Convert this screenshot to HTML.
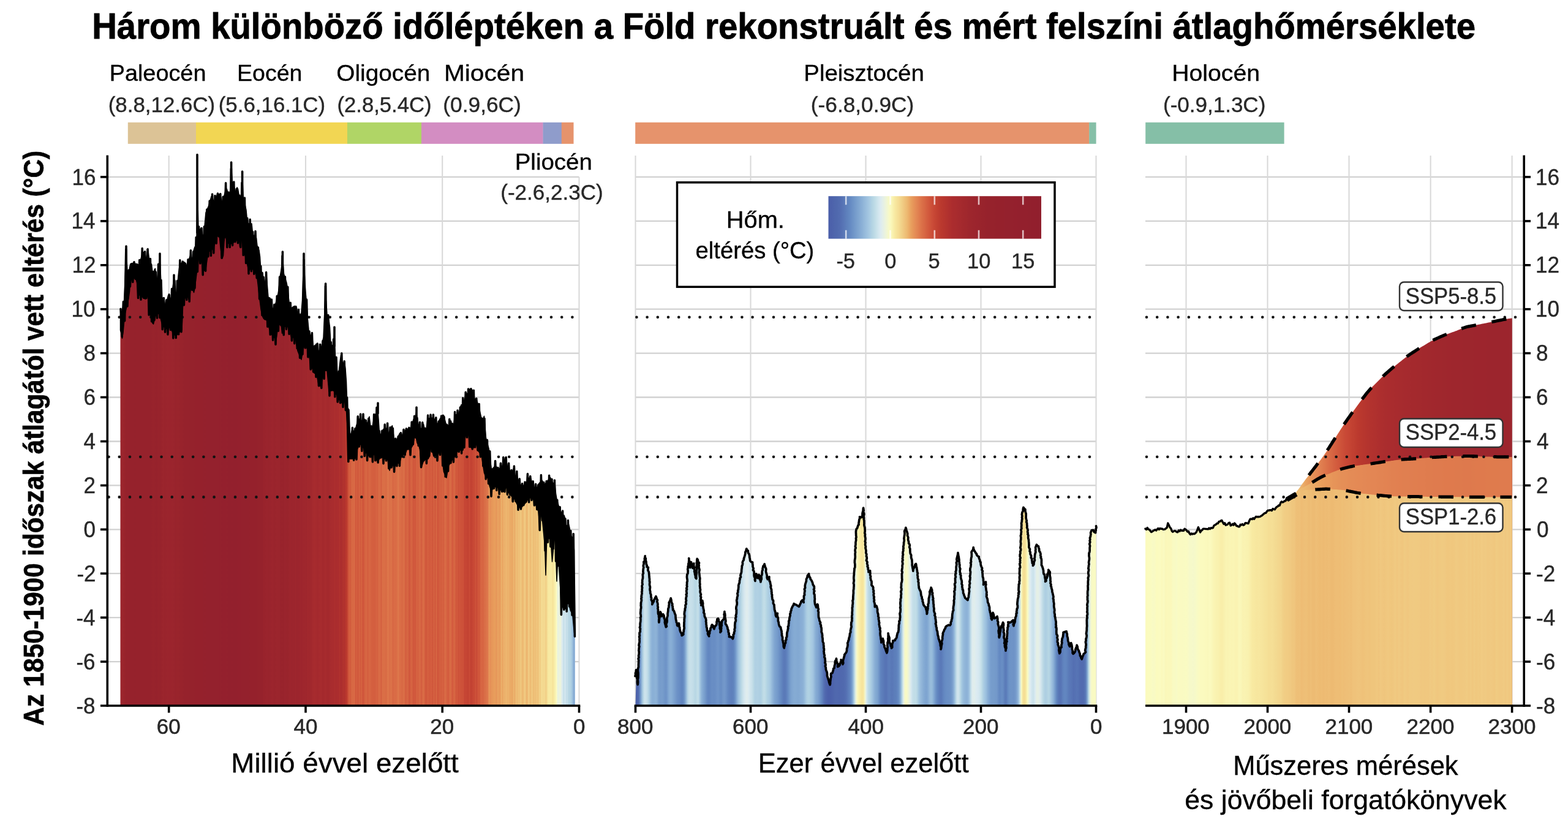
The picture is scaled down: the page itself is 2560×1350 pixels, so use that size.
<!DOCTYPE html><html lang="hu"><head><meta charset="utf-8"><title>Három különböző időléptéken a Föld felszíni átlaghőmérséklete</title><style>html,body{margin:0;padding:0;background:#fff}svg{display:block}text{font-family:"Liberation Sans",Arial,Helvetica,sans-serif;white-space:pre}</style></head><body><svg width="2560" height="1350" viewBox="0 0 2560 1350"><rect width="2560" height="1350" fill="#fff"/><defs><linearGradient id="g1" gradientUnits="userSpaceOnUse" x1="196.5" y1="0" x2="938.8" y2="0"><stop offset="0.0000" stop-color="#9c252d"/><stop offset="0.0027" stop-color="#9b252d"/><stop offset="0.0054" stop-color="#9b252d"/><stop offset="0.0081" stop-color="#9a242c"/><stop offset="0.0108" stop-color="#97232c"/><stop offset="0.0135" stop-color="#96222c"/><stop offset="0.0162" stop-color="#97222c"/><stop offset="0.0189" stop-color="#96222c"/><stop offset="0.0216" stop-color="#96222c"/><stop offset="0.0242" stop-color="#96222c"/><stop offset="0.0269" stop-color="#96222c"/><stop offset="0.0296" stop-color="#96222c"/><stop offset="0.0323" stop-color="#95222c"/><stop offset="0.0350" stop-color="#96222c"/><stop offset="0.0377" stop-color="#96222c"/><stop offset="0.0404" stop-color="#96222c"/><stop offset="0.0431" stop-color="#96222c"/><stop offset="0.0458" stop-color="#96222c"/><stop offset="0.0485" stop-color="#96222c"/><stop offset="0.0512" stop-color="#96222c"/><stop offset="0.0539" stop-color="#96222c"/><stop offset="0.0566" stop-color="#96222c"/><stop offset="0.0593" stop-color="#96222c"/><stop offset="0.0620" stop-color="#96222c"/><stop offset="0.0647" stop-color="#96222c"/><stop offset="0.0674" stop-color="#96222c"/><stop offset="0.0701" stop-color="#97232c"/><stop offset="0.0727" stop-color="#98232c"/><stop offset="0.0754" stop-color="#97232c"/><stop offset="0.0781" stop-color="#96222c"/><stop offset="0.0808" stop-color="#96222c"/><stop offset="0.0835" stop-color="#98232c"/><stop offset="0.0862" stop-color="#97232c"/><stop offset="0.0889" stop-color="#98232c"/><stop offset="0.0916" stop-color="#9a242c"/><stop offset="0.0943" stop-color="#9b252d"/><stop offset="0.0970" stop-color="#9a242c"/><stop offset="0.0997" stop-color="#9a242d"/><stop offset="0.1024" stop-color="#9b252d"/><stop offset="0.1051" stop-color="#9b252d"/><stop offset="0.1078" stop-color="#9b242d"/><stop offset="0.1105" stop-color="#9b242d"/><stop offset="0.1132" stop-color="#9b252d"/><stop offset="0.1159" stop-color="#9b252d"/><stop offset="0.1186" stop-color="#9a242d"/><stop offset="0.1212" stop-color="#99232c"/><stop offset="0.1239" stop-color="#99242c"/><stop offset="0.1266" stop-color="#9a242c"/><stop offset="0.1293" stop-color="#99242c"/><stop offset="0.1320" stop-color="#98232c"/><stop offset="0.1347" stop-color="#98232c"/><stop offset="0.1374" stop-color="#97232c"/><stop offset="0.1401" stop-color="#96222c"/><stop offset="0.1428" stop-color="#96222c"/><stop offset="0.1455" stop-color="#96222c"/><stop offset="0.1482" stop-color="#96222c"/><stop offset="0.1509" stop-color="#96222c"/><stop offset="0.1536" stop-color="#95222c"/><stop offset="0.1563" stop-color="#95222c"/><stop offset="0.1590" stop-color="#95222c"/><stop offset="0.1617" stop-color="#95222c"/><stop offset="0.1644" stop-color="#95212c"/><stop offset="0.1670" stop-color="#95212c"/><stop offset="0.1697" stop-color="#95212c"/><stop offset="0.1724" stop-color="#95212c"/><stop offset="0.1751" stop-color="#95212c"/><stop offset="0.1778" stop-color="#95212c"/><stop offset="0.1805" stop-color="#95212c"/><stop offset="0.1832" stop-color="#94212d"/><stop offset="0.1859" stop-color="#95212c"/><stop offset="0.1886" stop-color="#94212d"/><stop offset="0.1913" stop-color="#94212d"/><stop offset="0.1940" stop-color="#94212d"/><stop offset="0.1967" stop-color="#94212d"/><stop offset="0.1994" stop-color="#94212d"/><stop offset="0.2021" stop-color="#94212d"/><stop offset="0.2048" stop-color="#94212d"/><stop offset="0.2075" stop-color="#94212d"/><stop offset="0.2102" stop-color="#94212d"/><stop offset="0.2129" stop-color="#94212d"/><stop offset="0.2155" stop-color="#94212d"/><stop offset="0.2182" stop-color="#94202d"/><stop offset="0.2209" stop-color="#94212d"/><stop offset="0.2236" stop-color="#93202d"/><stop offset="0.2263" stop-color="#94202d"/><stop offset="0.2290" stop-color="#94202d"/><stop offset="0.2317" stop-color="#94202d"/><stop offset="0.2344" stop-color="#94212d"/><stop offset="0.2371" stop-color="#93202d"/><stop offset="0.2398" stop-color="#93202d"/><stop offset="0.2425" stop-color="#93202d"/><stop offset="0.2452" stop-color="#94202d"/><stop offset="0.2479" stop-color="#93202d"/><stop offset="0.2506" stop-color="#93202d"/><stop offset="0.2533" stop-color="#93202d"/><stop offset="0.2560" stop-color="#93202d"/><stop offset="0.2587" stop-color="#94202d"/><stop offset="0.2613" stop-color="#94202d"/><stop offset="0.2640" stop-color="#94202d"/><stop offset="0.2667" stop-color="#94212d"/><stop offset="0.2694" stop-color="#94212d"/><stop offset="0.2721" stop-color="#94212d"/><stop offset="0.2748" stop-color="#94212d"/><stop offset="0.2775" stop-color="#94212d"/><stop offset="0.2802" stop-color="#94212d"/><stop offset="0.2829" stop-color="#94212d"/><stop offset="0.2856" stop-color="#95212c"/><stop offset="0.2883" stop-color="#95212c"/><stop offset="0.2910" stop-color="#95212c"/><stop offset="0.2937" stop-color="#95212c"/><stop offset="0.2964" stop-color="#95212c"/><stop offset="0.2991" stop-color="#95212c"/><stop offset="0.3018" stop-color="#95222c"/><stop offset="0.3045" stop-color="#96222c"/><stop offset="0.3072" stop-color="#96222c"/><stop offset="0.3098" stop-color="#96222c"/><stop offset="0.3125" stop-color="#96222c"/><stop offset="0.3152" stop-color="#99232c"/><stop offset="0.3179" stop-color="#99232c"/><stop offset="0.3206" stop-color="#9a242d"/><stop offset="0.3233" stop-color="#9a242d"/><stop offset="0.3260" stop-color="#99242c"/><stop offset="0.3287" stop-color="#9a242d"/><stop offset="0.3314" stop-color="#9b242d"/><stop offset="0.3341" stop-color="#9c252d"/><stop offset="0.3368" stop-color="#9b242d"/><stop offset="0.3395" stop-color="#9a242c"/><stop offset="0.3422" stop-color="#9b252d"/><stop offset="0.3449" stop-color="#9c252d"/><stop offset="0.3476" stop-color="#9b252d"/><stop offset="0.3503" stop-color="#9b252d"/><stop offset="0.3530" stop-color="#98232c"/><stop offset="0.3557" stop-color="#99242c"/><stop offset="0.3583" stop-color="#98232c"/><stop offset="0.3610" stop-color="#9a242d"/><stop offset="0.3637" stop-color="#9a242d"/><stop offset="0.3664" stop-color="#99242c"/><stop offset="0.3691" stop-color="#99242c"/><stop offset="0.3718" stop-color="#9c252d"/><stop offset="0.3745" stop-color="#9d252d"/><stop offset="0.3772" stop-color="#9b252d"/><stop offset="0.3799" stop-color="#9d252d"/><stop offset="0.3826" stop-color="#9c252d"/><stop offset="0.3853" stop-color="#9e262d"/><stop offset="0.3880" stop-color="#9c252d"/><stop offset="0.3907" stop-color="#9c252d"/><stop offset="0.3934" stop-color="#9d252d"/><stop offset="0.3961" stop-color="#9e262d"/><stop offset="0.3988" stop-color="#9d252d"/><stop offset="0.4015" stop-color="#9f272d"/><stop offset="0.4041" stop-color="#9f262d"/><stop offset="0.4068" stop-color="#9f272d"/><stop offset="0.4095" stop-color="#9e262d"/><stop offset="0.4122" stop-color="#a2282d"/><stop offset="0.4149" stop-color="#a0272d"/><stop offset="0.4176" stop-color="#a1282d"/><stop offset="0.4203" stop-color="#a2282d"/><stop offset="0.4230" stop-color="#a52a2e"/><stop offset="0.4257" stop-color="#a72b2e"/><stop offset="0.4284" stop-color="#a72b2e"/><stop offset="0.4311" stop-color="#a52a2e"/><stop offset="0.4338" stop-color="#a4292d"/><stop offset="0.4365" stop-color="#a62a2e"/><stop offset="0.4392" stop-color="#a72b2e"/><stop offset="0.4419" stop-color="#a72b2e"/><stop offset="0.4446" stop-color="#a4292d"/><stop offset="0.4473" stop-color="#a4292d"/><stop offset="0.4500" stop-color="#a72b2e"/><stop offset="0.4526" stop-color="#a62b2e"/><stop offset="0.4553" stop-color="#a4292d"/><stop offset="0.4580" stop-color="#a4292d"/><stop offset="0.4607" stop-color="#a72b2e"/><stop offset="0.4634" stop-color="#a82c2e"/><stop offset="0.4661" stop-color="#a92c2e"/><stop offset="0.4688" stop-color="#a92c2e"/><stop offset="0.4715" stop-color="#ad2e2e"/><stop offset="0.4742" stop-color="#a92c2e"/><stop offset="0.4769" stop-color="#ab2d2e"/><stop offset="0.4796" stop-color="#ab2d2e"/><stop offset="0.4823" stop-color="#b0312e"/><stop offset="0.4850" stop-color="#ab2d2e"/><stop offset="0.4877" stop-color="#ad2f2e"/><stop offset="0.4904" stop-color="#b2332e"/><stop offset="0.4931" stop-color="#b1312e"/><stop offset="0.4958" stop-color="#b8372e"/><stop offset="0.4985" stop-color="#bd3b2f"/><stop offset="0.5011" stop-color="#cd5239"/><stop offset="0.5038" stop-color="#d45f3f"/><stop offset="0.5065" stop-color="#d25b3d"/><stop offset="0.5092" stop-color="#d86a44"/><stop offset="0.5119" stop-color="#d76643"/><stop offset="0.5146" stop-color="#d96c46"/><stop offset="0.5173" stop-color="#d1583c"/><stop offset="0.5200" stop-color="#d46040"/><stop offset="0.5227" stop-color="#d0563b"/><stop offset="0.5254" stop-color="#d66442"/><stop offset="0.5281" stop-color="#d25a3d"/><stop offset="0.5308" stop-color="#d66341"/><stop offset="0.5335" stop-color="#ce523a"/><stop offset="0.5362" stop-color="#d35c3e"/><stop offset="0.5389" stop-color="#d66542"/><stop offset="0.5416" stop-color="#d76643"/><stop offset="0.5443" stop-color="#d35d3e"/><stop offset="0.5469" stop-color="#d76743"/><stop offset="0.5496" stop-color="#d76542"/><stop offset="0.5523" stop-color="#d46040"/><stop offset="0.5550" stop-color="#d45f3f"/><stop offset="0.5577" stop-color="#d45e3f"/><stop offset="0.5604" stop-color="#d35e3f"/><stop offset="0.5631" stop-color="#d66442"/><stop offset="0.5658" stop-color="#d56040"/><stop offset="0.5685" stop-color="#d96c46"/><stop offset="0.5712" stop-color="#d96a45"/><stop offset="0.5739" stop-color="#d46040"/><stop offset="0.5766" stop-color="#da6f47"/><stop offset="0.5793" stop-color="#da6e46"/><stop offset="0.5820" stop-color="#da6e46"/><stop offset="0.5847" stop-color="#d86944"/><stop offset="0.5874" stop-color="#dd754a"/><stop offset="0.5901" stop-color="#dd754a"/><stop offset="0.5928" stop-color="#d96c46"/><stop offset="0.5954" stop-color="#dd754a"/><stop offset="0.5981" stop-color="#d86a45"/><stop offset="0.6008" stop-color="#d86844"/><stop offset="0.6035" stop-color="#da6d46"/><stop offset="0.6062" stop-color="#d96a45"/><stop offset="0.6089" stop-color="#db7148"/><stop offset="0.6116" stop-color="#de784c"/><stop offset="0.6143" stop-color="#da6d46"/><stop offset="0.6170" stop-color="#da6d46"/><stop offset="0.6197" stop-color="#d76743"/><stop offset="0.6224" stop-color="#da6f47"/><stop offset="0.6251" stop-color="#d96b45"/><stop offset="0.6278" stop-color="#d35c3e"/><stop offset="0.6305" stop-color="#d76743"/><stop offset="0.6332" stop-color="#d56241"/><stop offset="0.6359" stop-color="#cf553b"/><stop offset="0.6386" stop-color="#d56241"/><stop offset="0.6413" stop-color="#d66442"/><stop offset="0.6439" stop-color="#d0573c"/><stop offset="0.6466" stop-color="#d2593d"/><stop offset="0.6493" stop-color="#d1583c"/><stop offset="0.6520" stop-color="#d66542"/><stop offset="0.6547" stop-color="#d45e3f"/><stop offset="0.6574" stop-color="#d86944"/><stop offset="0.6601" stop-color="#d76643"/><stop offset="0.6628" stop-color="#d35d3f"/><stop offset="0.6655" stop-color="#da6d46"/><stop offset="0.6682" stop-color="#d86944"/><stop offset="0.6709" stop-color="#d1593c"/><stop offset="0.6736" stop-color="#d1583c"/><stop offset="0.6763" stop-color="#d56140"/><stop offset="0.6790" stop-color="#d25a3d"/><stop offset="0.6817" stop-color="#d35b3e"/><stop offset="0.6844" stop-color="#d45e3f"/><stop offset="0.6871" stop-color="#cf553b"/><stop offset="0.6897" stop-color="#d66442"/><stop offset="0.6924" stop-color="#d0563b"/><stop offset="0.6951" stop-color="#d76743"/><stop offset="0.6978" stop-color="#cf553b"/><stop offset="0.7005" stop-color="#d25a3d"/><stop offset="0.7032" stop-color="#d46040"/><stop offset="0.7059" stop-color="#d35d3e"/><stop offset="0.7086" stop-color="#d66341"/><stop offset="0.7113" stop-color="#d35d3f"/><stop offset="0.7140" stop-color="#da6d46"/><stop offset="0.7167" stop-color="#d76643"/><stop offset="0.7194" stop-color="#d45e3f"/><stop offset="0.7221" stop-color="#d35c3e"/><stop offset="0.7248" stop-color="#d96b45"/><stop offset="0.7275" stop-color="#d86944"/><stop offset="0.7302" stop-color="#d2593d"/><stop offset="0.7329" stop-color="#d66341"/><stop offset="0.7356" stop-color="#d76743"/><stop offset="0.7382" stop-color="#d0563b"/><stop offset="0.7409" stop-color="#d25a3d"/><stop offset="0.7436" stop-color="#cd5139"/><stop offset="0.7463" stop-color="#cf553b"/><stop offset="0.7490" stop-color="#cd5239"/><stop offset="0.7517" stop-color="#cd5139"/><stop offset="0.7544" stop-color="#cd5139"/><stop offset="0.7571" stop-color="#c54534"/><stop offset="0.7598" stop-color="#c74735"/><stop offset="0.7625" stop-color="#c44433"/><stop offset="0.7652" stop-color="#c24232"/><stop offset="0.7679" stop-color="#ca4b36"/><stop offset="0.7706" stop-color="#c24132"/><stop offset="0.7733" stop-color="#c34333"/><stop offset="0.7760" stop-color="#c84835"/><stop offset="0.7787" stop-color="#c84935"/><stop offset="0.7814" stop-color="#ce533a"/><stop offset="0.7840" stop-color="#c84936"/><stop offset="0.7867" stop-color="#d1583c"/><stop offset="0.7894" stop-color="#cf543a"/><stop offset="0.7921" stop-color="#d56241"/><stop offset="0.7948" stop-color="#d86844"/><stop offset="0.7975" stop-color="#d66341"/><stop offset="0.8002" stop-color="#d96c46"/><stop offset="0.8029" stop-color="#da6f47"/><stop offset="0.8056" stop-color="#dc744a"/><stop offset="0.8083" stop-color="#de784c"/><stop offset="0.8110" stop-color="#e7985a"/><stop offset="0.8137" stop-color="#e58f57"/><stop offset="0.8164" stop-color="#e69659"/><stop offset="0.8191" stop-color="#e7985a"/><stop offset="0.8218" stop-color="#e89d5c"/><stop offset="0.8245" stop-color="#e89d5c"/><stop offset="0.8272" stop-color="#e69559"/><stop offset="0.8299" stop-color="#e9a260"/><stop offset="0.8325" stop-color="#e89f5e"/><stop offset="0.8352" stop-color="#e79a5b"/><stop offset="0.8379" stop-color="#ecb16b"/><stop offset="0.8406" stop-color="#e9a461"/><stop offset="0.8433" stop-color="#ecb16b"/><stop offset="0.8460" stop-color="#ebb06b"/><stop offset="0.8487" stop-color="#edb770"/><stop offset="0.8514" stop-color="#ecb16b"/><stop offset="0.8541" stop-color="#ecb36c"/><stop offset="0.8568" stop-color="#eaaa66"/><stop offset="0.8595" stop-color="#eaab66"/><stop offset="0.8622" stop-color="#e9a562"/><stop offset="0.8649" stop-color="#ecb66f"/><stop offset="0.8676" stop-color="#eaaa66"/><stop offset="0.8703" stop-color="#eebf77"/><stop offset="0.8730" stop-color="#edb871"/><stop offset="0.8757" stop-color="#eec078"/><stop offset="0.8784" stop-color="#eebf77"/><stop offset="0.8810" stop-color="#f0ca81"/><stop offset="0.8837" stop-color="#edb870"/><stop offset="0.8864" stop-color="#eebc74"/><stop offset="0.8891" stop-color="#f1cc83"/><stop offset="0.8918" stop-color="#eec078"/><stop offset="0.8945" stop-color="#ecb16b"/><stop offset="0.8972" stop-color="#f1cb83"/><stop offset="0.8999" stop-color="#efc47c"/><stop offset="0.9026" stop-color="#edb971"/><stop offset="0.9053" stop-color="#f1cc83"/><stop offset="0.9080" stop-color="#edbb73"/><stop offset="0.9107" stop-color="#efc179"/><stop offset="0.9134" stop-color="#eebf77"/><stop offset="0.9161" stop-color="#f0c67e"/><stop offset="0.9188" stop-color="#eebf76"/><stop offset="0.9215" stop-color="#f2d188"/><stop offset="0.9242" stop-color="#f1ce85"/><stop offset="0.9268" stop-color="#f5de96"/><stop offset="0.9295" stop-color="#f3d68d"/><stop offset="0.9322" stop-color="#f4dc93"/><stop offset="0.9349" stop-color="#f2d088"/><stop offset="0.9376" stop-color="#f2d48b"/><stop offset="0.9403" stop-color="#f7e79f"/><stop offset="0.9430" stop-color="#f8eaa3"/><stop offset="0.9457" stop-color="#f8eaa2"/><stop offset="0.9484" stop-color="#f8eaa2"/><stop offset="0.9511" stop-color="#f6e29a"/><stop offset="0.9538" stop-color="#f8eba4"/><stop offset="0.9565" stop-color="#f9f1af"/><stop offset="0.9592" stop-color="#fbfbc1"/><stop offset="0.9619" stop-color="#eaf3df"/><stop offset="0.9646" stop-color="#e9f2e0"/><stop offset="0.9673" stop-color="#eef5d9"/><stop offset="0.9700" stop-color="#e4efe7"/><stop offset="0.9727" stop-color="#d7e8f0"/><stop offset="0.9753" stop-color="#c4dee8"/><stop offset="0.9780" stop-color="#d6e8f0"/><stop offset="0.9807" stop-color="#c4dee9"/><stop offset="0.9834" stop-color="#c6dfe9"/><stop offset="0.9861" stop-color="#b6d5e4"/><stop offset="0.9888" stop-color="#b5d5e3"/><stop offset="0.9915" stop-color="#aecfe2"/><stop offset="0.9942" stop-color="#9ec2de"/><stop offset="0.9969" stop-color="#87acd4"/><stop offset="0.9996" stop-color="#87add4"/></linearGradient><linearGradient id="g2" gradientUnits="userSpaceOnUse" x1="1037.5" y1="0" x2="1789.5" y2="0"><stop offset="0.0000" stop-color="#4d63ab"/><stop offset="0.0033" stop-color="#4d63ab"/><stop offset="0.0066" stop-color="#516aaf"/><stop offset="0.0100" stop-color="#698ec4"/><stop offset="0.0133" stop-color="#91b5d8"/><stop offset="0.0166" stop-color="#b6d5e4"/><stop offset="0.0199" stop-color="#cde3ec"/><stop offset="0.0233" stop-color="#cae1eb"/><stop offset="0.0266" stop-color="#bddae6"/><stop offset="0.0299" stop-color="#aacce2"/><stop offset="0.0332" stop-color="#95b9da"/><stop offset="0.0366" stop-color="#8ab0d6"/><stop offset="0.0399" stop-color="#8ab0d6"/><stop offset="0.0432" stop-color="#8eb3d7"/><stop offset="0.0465" stop-color="#8aafd5"/><stop offset="0.0499" stop-color="#7ca1ce"/><stop offset="0.0532" stop-color="#769ccb"/><stop offset="0.0565" stop-color="#789dcc"/><stop offset="0.0598" stop-color="#769ccb"/><stop offset="0.0632" stop-color="#7096c8"/><stop offset="0.0665" stop-color="#6e93c7"/><stop offset="0.0698" stop-color="#789ecd"/><stop offset="0.0731" stop-color="#85abd3"/><stop offset="0.0765" stop-color="#8aafd6"/><stop offset="0.0798" stop-color="#84aad3"/><stop offset="0.0831" stop-color="#7da3cf"/><stop offset="0.0864" stop-color="#769bcb"/><stop offset="0.0898" stop-color="#6e93c7"/><stop offset="0.0931" stop-color="#6a8fc5"/><stop offset="0.0964" stop-color="#668bc3"/><stop offset="0.0997" stop-color="#6185bf"/><stop offset="0.1031" stop-color="#6287c0"/><stop offset="0.1064" stop-color="#7298c9"/><stop offset="0.1097" stop-color="#8fb4d8"/><stop offset="0.1130" stop-color="#b1d1e3"/><stop offset="0.1164" stop-color="#c6dfe9"/><stop offset="0.1197" stop-color="#c8e0ea"/><stop offset="0.1230" stop-color="#c5dee9"/><stop offset="0.1263" stop-color="#c0dce7"/><stop offset="0.1297" stop-color="#b7d6e4"/><stop offset="0.1330" stop-color="#bedbe6"/><stop offset="0.1363" stop-color="#c5dfe9"/><stop offset="0.1396" stop-color="#a9cbe2"/><stop offset="0.1430" stop-color="#8fb4d8"/><stop offset="0.1463" stop-color="#82a8d2"/><stop offset="0.1496" stop-color="#799fcd"/><stop offset="0.1529" stop-color="#6f94c7"/><stop offset="0.1562" stop-color="#6489c2"/><stop offset="0.1596" stop-color="#6286c0"/><stop offset="0.1629" stop-color="#658ac2"/><stop offset="0.1662" stop-color="#698ec4"/><stop offset="0.1695" stop-color="#688dc4"/><stop offset="0.1729" stop-color="#698ec4"/><stop offset="0.1762" stop-color="#6d92c7"/><stop offset="0.1795" stop-color="#7095c8"/><stop offset="0.1828" stop-color="#6a90c5"/><stop offset="0.1862" stop-color="#698ec4"/><stop offset="0.1895" stop-color="#7095c8"/><stop offset="0.1928" stop-color="#7499ca"/><stop offset="0.1961" stop-color="#6f94c8"/><stop offset="0.1995" stop-color="#668bc3"/><stop offset="0.2028" stop-color="#6185bf"/><stop offset="0.2061" stop-color="#5f81bd"/><stop offset="0.2094" stop-color="#5e80bc"/><stop offset="0.2128" stop-color="#6084be"/><stop offset="0.2161" stop-color="#6b91c6"/><stop offset="0.2194" stop-color="#81a7d2"/><stop offset="0.2227" stop-color="#99bddc"/><stop offset="0.2261" stop-color="#a9cbe2"/><stop offset="0.2294" stop-color="#b8d7e4"/><stop offset="0.2327" stop-color="#c8e0ea"/><stop offset="0.2360" stop-color="#d5e7ef"/><stop offset="0.2394" stop-color="#deecef"/><stop offset="0.2427" stop-color="#e0eded"/><stop offset="0.2460" stop-color="#daeaf1"/><stop offset="0.2493" stop-color="#d0e5ed"/><stop offset="0.2527" stop-color="#c9e0ea"/><stop offset="0.2560" stop-color="#bcdae5"/><stop offset="0.2593" stop-color="#b1d1e3"/><stop offset="0.2626" stop-color="#b0d0e3"/><stop offset="0.2660" stop-color="#b1d1e3"/><stop offset="0.2693" stop-color="#aecfe2"/><stop offset="0.2726" stop-color="#afd0e3"/><stop offset="0.2759" stop-color="#bad9e4"/><stop offset="0.2793" stop-color="#c3dde8"/><stop offset="0.2826" stop-color="#bcdae5"/><stop offset="0.2859" stop-color="#b1d2e3"/><stop offset="0.2892" stop-color="#accde2"/><stop offset="0.2926" stop-color="#a4c7e1"/><stop offset="0.2959" stop-color="#96badb"/><stop offset="0.2992" stop-color="#89aed5"/><stop offset="0.3025" stop-color="#7ea4d0"/><stop offset="0.3059" stop-color="#789ecd"/><stop offset="0.3092" stop-color="#7398ca"/><stop offset="0.3125" stop-color="#6b90c5"/><stop offset="0.3158" stop-color="#6489c1"/><stop offset="0.3191" stop-color="#5e80bc"/><stop offset="0.3225" stop-color="#5a79b8"/><stop offset="0.3258" stop-color="#5b7bb9"/><stop offset="0.3291" stop-color="#6184bf"/><stop offset="0.3324" stop-color="#6b91c6"/><stop offset="0.3358" stop-color="#779dcc"/><stop offset="0.3391" stop-color="#7fa5d0"/><stop offset="0.3424" stop-color="#83a9d3"/><stop offset="0.3457" stop-color="#85abd3"/><stop offset="0.3491" stop-color="#84aad3"/><stop offset="0.3524" stop-color="#83a9d2"/><stop offset="0.3557" stop-color="#84aad3"/><stop offset="0.3590" stop-color="#88add5"/><stop offset="0.3624" stop-color="#8aafd5"/><stop offset="0.3657" stop-color="#91b6d9"/><stop offset="0.3690" stop-color="#a0c4df"/><stop offset="0.3723" stop-color="#adcee2"/><stop offset="0.3757" stop-color="#b1d2e3"/><stop offset="0.3790" stop-color="#adcfe2"/><stop offset="0.3823" stop-color="#a8cae2"/><stop offset="0.3856" stop-color="#a1c4e0"/><stop offset="0.3890" stop-color="#91b6d9"/><stop offset="0.3923" stop-color="#84aad3"/><stop offset="0.3956" stop-color="#7fa4d0"/><stop offset="0.3989" stop-color="#759acb"/><stop offset="0.4023" stop-color="#698ec4"/><stop offset="0.4056" stop-color="#5f82bd"/><stop offset="0.4089" stop-color="#5672b4"/><stop offset="0.4122" stop-color="#5068ae"/><stop offset="0.4156" stop-color="#4d63ac"/><stop offset="0.4189" stop-color="#4b60aa"/><stop offset="0.4222" stop-color="#4b60aa"/><stop offset="0.4255" stop-color="#4c62ab"/><stop offset="0.4289" stop-color="#4e64ac"/><stop offset="0.4322" stop-color="#4f67ad"/><stop offset="0.4355" stop-color="#5068ae"/><stop offset="0.4388" stop-color="#5068ae"/><stop offset="0.4422" stop-color="#4f67ae"/><stop offset="0.4455" stop-color="#5068ae"/><stop offset="0.4488" stop-color="#5069ae"/><stop offset="0.4521" stop-color="#516aaf"/><stop offset="0.4555" stop-color="#536db1"/><stop offset="0.4588" stop-color="#5673b4"/><stop offset="0.4621" stop-color="#5c7cba"/><stop offset="0.4654" stop-color="#6184bf"/><stop offset="0.4688" stop-color="#6f94c7"/><stop offset="0.4721" stop-color="#8db2d7"/><stop offset="0.4754" stop-color="#bddae6"/><stop offset="0.4787" stop-color="#ecf4dc"/><stop offset="0.4820" stop-color="#fbf8bb"/><stop offset="0.4854" stop-color="#f9efab"/><stop offset="0.4887" stop-color="#f8e9a1"/><stop offset="0.4920" stop-color="#f6e39b"/><stop offset="0.4953" stop-color="#f8e9a1"/><stop offset="0.4987" stop-color="#f1f6d2"/><stop offset="0.5020" stop-color="#d4e7ef"/><stop offset="0.5053" stop-color="#bfdbe6"/><stop offset="0.5086" stop-color="#b4d4e3"/><stop offset="0.5120" stop-color="#a8cae2"/><stop offset="0.5153" stop-color="#9bbfdd"/><stop offset="0.5186" stop-color="#8db2d7"/><stop offset="0.5219" stop-color="#83a9d2"/><stop offset="0.5253" stop-color="#7da3cf"/><stop offset="0.5286" stop-color="#7095c8"/><stop offset="0.5319" stop-color="#6185bf"/><stop offset="0.5352" stop-color="#5d7ebb"/><stop offset="0.5386" stop-color="#5a7ab8"/><stop offset="0.5419" stop-color="#5774b5"/><stop offset="0.5452" stop-color="#5774b5"/><stop offset="0.5485" stop-color="#5c7cba"/><stop offset="0.5519" stop-color="#5c7dba"/><stop offset="0.5552" stop-color="#5978b7"/><stop offset="0.5585" stop-color="#5a79b8"/><stop offset="0.5618" stop-color="#5c7dba"/><stop offset="0.5652" stop-color="#5d7fbb"/><stop offset="0.5685" stop-color="#6184bf"/><stop offset="0.5718" stop-color="#6a90c5"/><stop offset="0.5751" stop-color="#85aad3"/><stop offset="0.5785" stop-color="#b1d2e3"/><stop offset="0.5818" stop-color="#e2eeea"/><stop offset="0.5851" stop-color="#f6f9c8"/><stop offset="0.5884" stop-color="#f9fac4"/><stop offset="0.5918" stop-color="#f1f6d2"/><stop offset="0.5951" stop-color="#e5f0e5"/><stop offset="0.5984" stop-color="#d7e8f0"/><stop offset="0.6017" stop-color="#c6dfe9"/><stop offset="0.6051" stop-color="#c1dde7"/><stop offset="0.6084" stop-color="#c2dde8"/><stop offset="0.6117" stop-color="#b7d6e4"/><stop offset="0.6150" stop-color="#a4c7e1"/><stop offset="0.6184" stop-color="#98bcdc"/><stop offset="0.6217" stop-color="#90b4d8"/><stop offset="0.6250" stop-color="#87add4"/><stop offset="0.6283" stop-color="#81a7d2"/><stop offset="0.6316" stop-color="#7ea4d0"/><stop offset="0.6350" stop-color="#84aad3"/><stop offset="0.6383" stop-color="#93b7d9"/><stop offset="0.6416" stop-color="#9abedc"/><stop offset="0.6449" stop-color="#92b7d9"/><stop offset="0.6483" stop-color="#80a6d1"/><stop offset="0.6516" stop-color="#7095c8"/><stop offset="0.6549" stop-color="#6388c1"/><stop offset="0.6582" stop-color="#5e80bc"/><stop offset="0.6616" stop-color="#5a79b8"/><stop offset="0.6649" stop-color="#5b7bb9"/><stop offset="0.6682" stop-color="#6184bf"/><stop offset="0.6715" stop-color="#658ac2"/><stop offset="0.6749" stop-color="#688ec4"/><stop offset="0.6782" stop-color="#6a8fc5"/><stop offset="0.6815" stop-color="#6b90c5"/><stop offset="0.6848" stop-color="#6e94c7"/><stop offset="0.6882" stop-color="#799ecd"/><stop offset="0.6915" stop-color="#8eb3d8"/><stop offset="0.6948" stop-color="#aecfe2"/><stop offset="0.6981" stop-color="#cde3ec"/><stop offset="0.7015" stop-color="#d1e5ed"/><stop offset="0.7048" stop-color="#bcd9e5"/><stop offset="0.7081" stop-color="#a6c9e1"/><stop offset="0.7114" stop-color="#99bddc"/><stop offset="0.7148" stop-color="#91b6d9"/><stop offset="0.7181" stop-color="#8db2d7"/><stop offset="0.7214" stop-color="#8fb4d8"/><stop offset="0.7247" stop-color="#a1c4e0"/><stop offset="0.7281" stop-color="#c5dfe9"/><stop offset="0.7314" stop-color="#dfecef"/><stop offset="0.7347" stop-color="#e1eeeb"/><stop offset="0.7380" stop-color="#deecef"/><stop offset="0.7414" stop-color="#daeaf1"/><stop offset="0.7447" stop-color="#d6e8f0"/><stop offset="0.7480" stop-color="#cee4ed"/><stop offset="0.7513" stop-color="#c1dde7"/><stop offset="0.7547" stop-color="#b0d0e3"/><stop offset="0.7580" stop-color="#a4c7e1"/><stop offset="0.7613" stop-color="#9abedd"/><stop offset="0.7646" stop-color="#8cb1d6"/><stop offset="0.7680" stop-color="#81a7d2"/><stop offset="0.7713" stop-color="#789ecd"/><stop offset="0.7746" stop-color="#769ccb"/><stop offset="0.7779" stop-color="#769ccb"/><stop offset="0.7812" stop-color="#749aca"/><stop offset="0.7846" stop-color="#7398ca"/><stop offset="0.7879" stop-color="#698ec4"/><stop offset="0.7912" stop-color="#6388c1"/><stop offset="0.7945" stop-color="#688dc4"/><stop offset="0.7979" stop-color="#678cc3"/><stop offset="0.8012" stop-color="#5d7fbb"/><stop offset="0.8045" stop-color="#5a7ab8"/><stop offset="0.8078" stop-color="#6287c0"/><stop offset="0.8112" stop-color="#6c92c6"/><stop offset="0.8145" stop-color="#6e94c7"/><stop offset="0.8178" stop-color="#6f94c7"/><stop offset="0.8211" stop-color="#6e93c7"/><stop offset="0.8245" stop-color="#7297c9"/><stop offset="0.8278" stop-color="#7ea3d0"/><stop offset="0.8311" stop-color="#94b8da"/><stop offset="0.8344" stop-color="#c4dee8"/><stop offset="0.8378" stop-color="#f8fac5"/><stop offset="0.8411" stop-color="#f6e299"/><stop offset="0.8444" stop-color="#f4dd94"/><stop offset="0.8477" stop-color="#f7e79f"/><stop offset="0.8511" stop-color="#fafbc1"/><stop offset="0.8544" stop-color="#e9f2e0"/><stop offset="0.8577" stop-color="#dcebf2"/><stop offset="0.8610" stop-color="#cfe4ed"/><stop offset="0.8644" stop-color="#cce3ec"/><stop offset="0.8677" stop-color="#dbebf2"/><stop offset="0.8710" stop-color="#e5f0e6"/><stop offset="0.8743" stop-color="#e5f0e6"/><stop offset="0.8777" stop-color="#dfecee"/><stop offset="0.8810" stop-color="#d0e4ed"/><stop offset="0.8843" stop-color="#bfdbe6"/><stop offset="0.8876" stop-color="#b2d2e3"/><stop offset="0.8910" stop-color="#adcee2"/><stop offset="0.8943" stop-color="#b3d3e3"/><stop offset="0.8976" stop-color="#b7d6e4"/><stop offset="0.9009" stop-color="#aacce2"/><stop offset="0.9043" stop-color="#9bbedd"/><stop offset="0.9076" stop-color="#8bb0d6"/><stop offset="0.9109" stop-color="#769ccc"/><stop offset="0.9142" stop-color="#6388c1"/><stop offset="0.9176" stop-color="#5a7ab8"/><stop offset="0.9209" stop-color="#5673b4"/><stop offset="0.9242" stop-color="#5876b6"/><stop offset="0.9275" stop-color="#5e80bc"/><stop offset="0.9309" stop-color="#6286c0"/><stop offset="0.9342" stop-color="#6286c0"/><stop offset="0.9375" stop-color="#5f81bd"/><stop offset="0.9408" stop-color="#5a7ab8"/><stop offset="0.9441" stop-color="#5977b7"/><stop offset="0.9475" stop-color="#5774b5"/><stop offset="0.9508" stop-color="#546fb2"/><stop offset="0.9541" stop-color="#5571b3"/><stop offset="0.9574" stop-color="#5774b5"/><stop offset="0.9608" stop-color="#5673b4"/><stop offset="0.9641" stop-color="#536eb1"/><stop offset="0.9674" stop-color="#526bb0"/><stop offset="0.9707" stop-color="#526bb0"/><stop offset="0.9741" stop-color="#536eb1"/><stop offset="0.9774" stop-color="#5b7bb9"/><stop offset="0.9807" stop-color="#7da3cf"/><stop offset="0.9840" stop-color="#bcdae5"/><stop offset="0.9874" stop-color="#ecf4dc"/><stop offset="0.9907" stop-color="#f9fac5"/><stop offset="0.9940" stop-color="#f9fac3"/><stop offset="0.9973" stop-color="#f9fac3"/></linearGradient><linearGradient id="g3c" gradientUnits="userSpaceOnUse" x1="1870.0" y1="0" x2="2468.8" y2="0"><stop offset="0.0000" stop-color="#fbfbbf"/><stop offset="0.0050" stop-color="#fbf9bd"/><stop offset="0.0100" stop-color="#fbfbbf"/><stop offset="0.0150" stop-color="#f9fac4"/><stop offset="0.0200" stop-color="#f9fac4"/><stop offset="0.0251" stop-color="#f9fac3"/><stop offset="0.0301" stop-color="#fafbc1"/><stop offset="0.0351" stop-color="#fbfabf"/><stop offset="0.0401" stop-color="#fbfabe"/><stop offset="0.0451" stop-color="#fbfabf"/><stop offset="0.0501" stop-color="#fbfbbf"/><stop offset="0.0551" stop-color="#fbfabe"/><stop offset="0.0601" stop-color="#faf6b6"/><stop offset="0.0651" stop-color="#faf6b8"/><stop offset="0.0701" stop-color="#fbfbbf"/><stop offset="0.0752" stop-color="#f9fac4"/><stop offset="0.0802" stop-color="#f8fac5"/><stop offset="0.0852" stop-color="#f8fac5"/><stop offset="0.0902" stop-color="#f9fac5"/><stop offset="0.0952" stop-color="#f9fac3"/><stop offset="0.1002" stop-color="#fafac2"/><stop offset="0.1052" stop-color="#fbfbc0"/><stop offset="0.1102" stop-color="#fbfabe"/><stop offset="0.1152" stop-color="#f9fac4"/><stop offset="0.1202" stop-color="#f6f9c9"/><stop offset="0.1253" stop-color="#f6f9c9"/><stop offset="0.1303" stop-color="#f6f9c9"/><stop offset="0.1353" stop-color="#f6f9c9"/><stop offset="0.1403" stop-color="#f7f9c8"/><stop offset="0.1453" stop-color="#fbfabe"/><stop offset="0.1503" stop-color="#f9fac4"/><stop offset="0.1553" stop-color="#fbfbbf"/><stop offset="0.1603" stop-color="#fbf9bd"/><stop offset="0.1653" stop-color="#fbf9bc"/><stop offset="0.1703" stop-color="#fbf9bd"/><stop offset="0.1754" stop-color="#fbfabf"/><stop offset="0.1804" stop-color="#fbf9bd"/><stop offset="0.1854" stop-color="#faf7b9"/><stop offset="0.1904" stop-color="#faf5b5"/><stop offset="0.1954" stop-color="#f9f2b0"/><stop offset="0.2004" stop-color="#f9efab"/><stop offset="0.2054" stop-color="#f9eea8"/><stop offset="0.2104" stop-color="#f9eea9"/><stop offset="0.2154" stop-color="#f9f2b0"/><stop offset="0.2204" stop-color="#faf4b3"/><stop offset="0.2255" stop-color="#faf3b2"/><stop offset="0.2305" stop-color="#f9f1af"/><stop offset="0.2355" stop-color="#faf5b5"/><stop offset="0.2405" stop-color="#faf3b2"/><stop offset="0.2455" stop-color="#faf3b2"/><stop offset="0.2505" stop-color="#faf5b6"/><stop offset="0.2555" stop-color="#faf6b8"/><stop offset="0.2605" stop-color="#faf4b4"/><stop offset="0.2655" stop-color="#faf3b2"/><stop offset="0.2705" stop-color="#faf3b1"/><stop offset="0.2756" stop-color="#f9f2b0"/><stop offset="0.2806" stop-color="#f9f1af"/><stop offset="0.2856" stop-color="#f8eca5"/><stop offset="0.2906" stop-color="#f8eaa2"/><stop offset="0.2956" stop-color="#f8eaa2"/><stop offset="0.3006" stop-color="#f8e9a1"/><stop offset="0.3056" stop-color="#f7e89f"/><stop offset="0.3106" stop-color="#f7e69e"/><stop offset="0.3156" stop-color="#f7e69d"/><stop offset="0.3206" stop-color="#f6e49c"/><stop offset="0.3257" stop-color="#f6e299"/><stop offset="0.3307" stop-color="#f5e098"/><stop offset="0.3357" stop-color="#f5df97"/><stop offset="0.3407" stop-color="#f5df96"/><stop offset="0.3457" stop-color="#f5de95"/><stop offset="0.3507" stop-color="#f4dd94"/><stop offset="0.3557" stop-color="#f4dc93"/><stop offset="0.3607" stop-color="#f3da91"/><stop offset="0.3657" stop-color="#f3d78e"/><stop offset="0.3707" stop-color="#f2d289"/><stop offset="0.3758" stop-color="#f2d088"/><stop offset="0.3808" stop-color="#f1cf86"/><stop offset="0.3858" stop-color="#f1cd84"/><stop offset="0.3908" stop-color="#f0cb82"/><stop offset="0.3958" stop-color="#f0c980"/><stop offset="0.4008" stop-color="#f0c77e"/><stop offset="0.4058" stop-color="#efc57c"/><stop offset="0.4108" stop-color="#efc279"/><stop offset="0.4158" stop-color="#eebd75"/><stop offset="0.4208" stop-color="#edb871"/><stop offset="0.4259" stop-color="#ecb26c"/><stop offset="0.4309" stop-color="#ebac67"/><stop offset="0.4359" stop-color="#e9a562"/><stop offset="0.4409" stop-color="#e89f5e"/><stop offset="0.4459" stop-color="#e79a5b"/><stop offset="0.4509" stop-color="#e7965a"/><stop offset="0.4559" stop-color="#e69258"/><stop offset="0.4609" stop-color="#e58e57"/><stop offset="0.4659" stop-color="#e48a55"/><stop offset="0.4709" stop-color="#e38654"/><stop offset="0.4760" stop-color="#e18151"/><stop offset="0.4810" stop-color="#e07d4f"/><stop offset="0.4860" stop-color="#de794c"/><stop offset="0.4910" stop-color="#dd754a"/><stop offset="0.4960" stop-color="#db7048"/><stop offset="0.5010" stop-color="#d96c46"/><stop offset="0.5060" stop-color="#d86844"/><stop offset="0.5110" stop-color="#d66442"/><stop offset="0.5160" stop-color="#d46040"/><stop offset="0.5210" stop-color="#d35c3e"/><stop offset="0.5261" stop-color="#d1583c"/><stop offset="0.5311" stop-color="#cf543a"/><stop offset="0.5361" stop-color="#cc5039"/><stop offset="0.5411" stop-color="#ca4d37"/><stop offset="0.5461" stop-color="#c94936"/><stop offset="0.5511" stop-color="#c74735"/><stop offset="0.5561" stop-color="#c54533"/><stop offset="0.5611" stop-color="#c34232"/><stop offset="0.5661" stop-color="#c14031"/><stop offset="0.5711" stop-color="#bf3e30"/><stop offset="0.5762" stop-color="#bd3b2f"/><stop offset="0.5812" stop-color="#bb392e"/><stop offset="0.5862" stop-color="#ba382e"/><stop offset="0.5912" stop-color="#b8372e"/><stop offset="0.5962" stop-color="#b7362e"/><stop offset="0.6012" stop-color="#b6352e"/><stop offset="0.6062" stop-color="#b4342e"/><stop offset="0.6112" stop-color="#b3332e"/><stop offset="0.6162" stop-color="#b2322e"/><stop offset="0.6212" stop-color="#b1312e"/><stop offset="0.6263" stop-color="#b0312e"/><stop offset="0.6313" stop-color="#af302e"/><stop offset="0.6363" stop-color="#ae2f2e"/><stop offset="0.6413" stop-color="#ad2e2e"/><stop offset="0.6463" stop-color="#ac2e2e"/><stop offset="0.6513" stop-color="#ab2d2e"/><stop offset="0.6563" stop-color="#aa2d2e"/><stop offset="0.6613" stop-color="#aa2c2e"/><stop offset="0.6663" stop-color="#aa2c2e"/><stop offset="0.6713" stop-color="#a92c2e"/><stop offset="0.6764" stop-color="#a92c2e"/><stop offset="0.6814" stop-color="#a82b2e"/><stop offset="0.6864" stop-color="#a82b2e"/><stop offset="0.6914" stop-color="#a72b2e"/><stop offset="0.6964" stop-color="#a72b2e"/><stop offset="0.7014" stop-color="#a62b2e"/><stop offset="0.7064" stop-color="#a62a2e"/><stop offset="0.7114" stop-color="#a62a2e"/><stop offset="0.7164" stop-color="#a52a2e"/><stop offset="0.7214" stop-color="#a52a2e"/><stop offset="0.7265" stop-color="#a4292d"/><stop offset="0.7315" stop-color="#a4292d"/><stop offset="0.7365" stop-color="#a4292d"/><stop offset="0.7415" stop-color="#a3292d"/><stop offset="0.7465" stop-color="#a3292d"/><stop offset="0.7515" stop-color="#a3292d"/><stop offset="0.7565" stop-color="#a2282d"/><stop offset="0.7615" stop-color="#a2282d"/><stop offset="0.7665" stop-color="#a2282d"/><stop offset="0.7715" stop-color="#a1282d"/><stop offset="0.7766" stop-color="#a1282d"/><stop offset="0.7816" stop-color="#a1272d"/><stop offset="0.7866" stop-color="#a1272d"/><stop offset="0.7916" stop-color="#a0272d"/><stop offset="0.7966" stop-color="#a0272d"/><stop offset="0.8016" stop-color="#a0272d"/><stop offset="0.8066" stop-color="#a0272d"/><stop offset="0.8116" stop-color="#9f272d"/><stop offset="0.8166" stop-color="#9f272d"/><stop offset="0.8216" stop-color="#9f262d"/><stop offset="0.8267" stop-color="#9f262d"/><stop offset="0.8317" stop-color="#9f262d"/><stop offset="0.8367" stop-color="#9e262d"/><stop offset="0.8417" stop-color="#9e262d"/><stop offset="0.8467" stop-color="#9e262d"/><stop offset="0.8517" stop-color="#9e262d"/><stop offset="0.8567" stop-color="#9e262d"/><stop offset="0.8617" stop-color="#9e262d"/><stop offset="0.8667" stop-color="#9d262d"/><stop offset="0.8717" stop-color="#9d262d"/><stop offset="0.8768" stop-color="#9d262d"/><stop offset="0.8818" stop-color="#9d262d"/><stop offset="0.8868" stop-color="#9d262d"/><stop offset="0.8918" stop-color="#9d262d"/><stop offset="0.8968" stop-color="#9d252d"/><stop offset="0.9018" stop-color="#9d252d"/><stop offset="0.9068" stop-color="#9d252d"/><stop offset="0.9118" stop-color="#9d252d"/><stop offset="0.9168" stop-color="#9d252d"/><stop offset="0.9218" stop-color="#9d252d"/><stop offset="0.9269" stop-color="#9d252d"/><stop offset="0.9319" stop-color="#9c252d"/><stop offset="0.9369" stop-color="#9c252d"/><stop offset="0.9419" stop-color="#9c252d"/><stop offset="0.9469" stop-color="#9c252d"/><stop offset="0.9519" stop-color="#9c252d"/><stop offset="0.9569" stop-color="#9c252d"/><stop offset="0.9619" stop-color="#9c252d"/><stop offset="0.9669" stop-color="#9c252d"/><stop offset="0.9719" stop-color="#9c252d"/><stop offset="0.9770" stop-color="#9c252d"/><stop offset="0.9820" stop-color="#9c252d"/><stop offset="0.9870" stop-color="#9c252d"/><stop offset="0.9920" stop-color="#9c252d"/><stop offset="0.9970" stop-color="#9c252d"/></linearGradient><linearGradient id="g3b" gradientUnits="userSpaceOnUse" x1="1870.0" y1="0" x2="2468.8" y2="0"><stop offset="0.0000" stop-color="#fbfbbf"/><stop offset="0.0050" stop-color="#fbf9bd"/><stop offset="0.0100" stop-color="#fbfbbf"/><stop offset="0.0150" stop-color="#f9fac4"/><stop offset="0.0200" stop-color="#f9fac4"/><stop offset="0.0251" stop-color="#f9fac3"/><stop offset="0.0301" stop-color="#fafbc1"/><stop offset="0.0351" stop-color="#fbfabf"/><stop offset="0.0401" stop-color="#fbfabe"/><stop offset="0.0451" stop-color="#fbfabf"/><stop offset="0.0501" stop-color="#fbfbbf"/><stop offset="0.0551" stop-color="#fbfabe"/><stop offset="0.0601" stop-color="#faf6b6"/><stop offset="0.0651" stop-color="#faf6b8"/><stop offset="0.0701" stop-color="#fbfbbf"/><stop offset="0.0752" stop-color="#f9fac4"/><stop offset="0.0802" stop-color="#f8fac5"/><stop offset="0.0852" stop-color="#f8fac5"/><stop offset="0.0902" stop-color="#f9fac5"/><stop offset="0.0952" stop-color="#f9fac3"/><stop offset="0.1002" stop-color="#fafac2"/><stop offset="0.1052" stop-color="#fbfbc0"/><stop offset="0.1102" stop-color="#fbfabe"/><stop offset="0.1152" stop-color="#f9fac4"/><stop offset="0.1202" stop-color="#f6f9c9"/><stop offset="0.1253" stop-color="#f6f9c9"/><stop offset="0.1303" stop-color="#f6f9c9"/><stop offset="0.1353" stop-color="#f6f9c9"/><stop offset="0.1403" stop-color="#f7f9c8"/><stop offset="0.1453" stop-color="#fbfabe"/><stop offset="0.1503" stop-color="#f9fac4"/><stop offset="0.1553" stop-color="#fbfbbf"/><stop offset="0.1603" stop-color="#fbf9bd"/><stop offset="0.1653" stop-color="#fbf9bc"/><stop offset="0.1703" stop-color="#fbf9bd"/><stop offset="0.1754" stop-color="#fbfabf"/><stop offset="0.1804" stop-color="#fbf9bd"/><stop offset="0.1854" stop-color="#faf7b9"/><stop offset="0.1904" stop-color="#faf5b5"/><stop offset="0.1954" stop-color="#f9f2b0"/><stop offset="0.2004" stop-color="#f9efab"/><stop offset="0.2054" stop-color="#f9eea8"/><stop offset="0.2104" stop-color="#f9eea9"/><stop offset="0.2154" stop-color="#f9f2b0"/><stop offset="0.2204" stop-color="#faf4b3"/><stop offset="0.2255" stop-color="#faf3b2"/><stop offset="0.2305" stop-color="#f9f1af"/><stop offset="0.2355" stop-color="#faf5b5"/><stop offset="0.2405" stop-color="#faf3b2"/><stop offset="0.2455" stop-color="#faf3b2"/><stop offset="0.2505" stop-color="#faf5b6"/><stop offset="0.2555" stop-color="#faf6b8"/><stop offset="0.2605" stop-color="#faf4b4"/><stop offset="0.2655" stop-color="#faf3b2"/><stop offset="0.2705" stop-color="#faf3b1"/><stop offset="0.2756" stop-color="#f9f2b0"/><stop offset="0.2806" stop-color="#f9f1af"/><stop offset="0.2856" stop-color="#f8eca5"/><stop offset="0.2906" stop-color="#f8eaa2"/><stop offset="0.2956" stop-color="#f8eaa2"/><stop offset="0.3006" stop-color="#f8e9a1"/><stop offset="0.3056" stop-color="#f7e89f"/><stop offset="0.3106" stop-color="#f7e69e"/><stop offset="0.3156" stop-color="#f7e69d"/><stop offset="0.3206" stop-color="#f6e49c"/><stop offset="0.3257" stop-color="#f6e299"/><stop offset="0.3307" stop-color="#f5e098"/><stop offset="0.3357" stop-color="#f5df97"/><stop offset="0.3407" stop-color="#f5df96"/><stop offset="0.3457" stop-color="#f5de95"/><stop offset="0.3507" stop-color="#f4dd94"/><stop offset="0.3557" stop-color="#f4dc93"/><stop offset="0.3607" stop-color="#f3da91"/><stop offset="0.3657" stop-color="#f3d78e"/><stop offset="0.3707" stop-color="#f2d289"/><stop offset="0.3758" stop-color="#f2d088"/><stop offset="0.3808" stop-color="#f1cf86"/><stop offset="0.3858" stop-color="#f1cd84"/><stop offset="0.3908" stop-color="#f0cb82"/><stop offset="0.3958" stop-color="#f0c980"/><stop offset="0.4008" stop-color="#f0c77e"/><stop offset="0.4058" stop-color="#efc57c"/><stop offset="0.4108" stop-color="#efc279"/><stop offset="0.4158" stop-color="#eebe75"/><stop offset="0.4208" stop-color="#eebc74"/><stop offset="0.4259" stop-color="#edba72"/><stop offset="0.4309" stop-color="#edb870"/><stop offset="0.4359" stop-color="#ecb66f"/><stop offset="0.4409" stop-color="#ecb36d"/><stop offset="0.4459" stop-color="#ebb16b"/><stop offset="0.4509" stop-color="#ebae69"/><stop offset="0.4559" stop-color="#ebab67"/><stop offset="0.4609" stop-color="#eaa864"/><stop offset="0.4659" stop-color="#eaa562"/><stop offset="0.4709" stop-color="#e9a360"/><stop offset="0.4760" stop-color="#e9a05e"/><stop offset="0.4810" stop-color="#e89d5c"/><stop offset="0.4860" stop-color="#e89c5c"/><stop offset="0.4910" stop-color="#e79a5b"/><stop offset="0.4960" stop-color="#e7995b"/><stop offset="0.5010" stop-color="#e7985a"/><stop offset="0.5060" stop-color="#e7975a"/><stop offset="0.5110" stop-color="#e69559"/><stop offset="0.5160" stop-color="#e69459"/><stop offset="0.5210" stop-color="#e69358"/><stop offset="0.5261" stop-color="#e59158"/><stop offset="0.5311" stop-color="#e59058"/><stop offset="0.5361" stop-color="#e58f57"/><stop offset="0.5411" stop-color="#e58f57"/><stop offset="0.5461" stop-color="#e58e57"/><stop offset="0.5511" stop-color="#e58d56"/><stop offset="0.5561" stop-color="#e48c56"/><stop offset="0.5611" stop-color="#e48b56"/><stop offset="0.5661" stop-color="#e48b56"/><stop offset="0.5711" stop-color="#e48a56"/><stop offset="0.5762" stop-color="#e48a55"/><stop offset="0.5812" stop-color="#e48955"/><stop offset="0.5862" stop-color="#e48955"/><stop offset="0.5912" stop-color="#e48955"/><stop offset="0.5962" stop-color="#e38855"/><stop offset="0.6012" stop-color="#e38855"/><stop offset="0.6062" stop-color="#e38754"/><stop offset="0.6112" stop-color="#e38754"/><stop offset="0.6162" stop-color="#e38654"/><stop offset="0.6212" stop-color="#e38654"/><stop offset="0.6263" stop-color="#e38654"/><stop offset="0.6313" stop-color="#e38553"/><stop offset="0.6363" stop-color="#e28553"/><stop offset="0.6413" stop-color="#e28453"/><stop offset="0.6463" stop-color="#e28453"/><stop offset="0.6513" stop-color="#e28352"/><stop offset="0.6563" stop-color="#e28352"/><stop offset="0.6613" stop-color="#e28252"/><stop offset="0.6663" stop-color="#e18252"/><stop offset="0.6713" stop-color="#e18151"/><stop offset="0.6764" stop-color="#e18151"/><stop offset="0.6814" stop-color="#e18151"/><stop offset="0.6864" stop-color="#e18051"/><stop offset="0.6914" stop-color="#e18050"/><stop offset="0.6964" stop-color="#e17f50"/><stop offset="0.7014" stop-color="#e07f50"/><stop offset="0.7064" stop-color="#e07f50"/><stop offset="0.7114" stop-color="#e07f50"/><stop offset="0.7164" stop-color="#e07f50"/><stop offset="0.7214" stop-color="#e07e50"/><stop offset="0.7265" stop-color="#e07e50"/><stop offset="0.7315" stop-color="#e07e4f"/><stop offset="0.7365" stop-color="#e07e4f"/><stop offset="0.7415" stop-color="#e07e4f"/><stop offset="0.7465" stop-color="#e07d4f"/><stop offset="0.7515" stop-color="#e07d4f"/><stop offset="0.7565" stop-color="#e07d4f"/><stop offset="0.7615" stop-color="#e07d4f"/><stop offset="0.7665" stop-color="#df7c4e"/><stop offset="0.7715" stop-color="#df7c4e"/><stop offset="0.7766" stop-color="#df7c4e"/><stop offset="0.7816" stop-color="#df7c4e"/><stop offset="0.7866" stop-color="#df7b4e"/><stop offset="0.7916" stop-color="#df7b4e"/><stop offset="0.7966" stop-color="#df7b4e"/><stop offset="0.8016" stop-color="#df7b4e"/><stop offset="0.8066" stop-color="#df7b4e"/><stop offset="0.8116" stop-color="#df7b4d"/><stop offset="0.8166" stop-color="#df7a4d"/><stop offset="0.8216" stop-color="#df7a4d"/><stop offset="0.8267" stop-color="#df7a4d"/><stop offset="0.8317" stop-color="#df7a4d"/><stop offset="0.8367" stop-color="#df7a4d"/><stop offset="0.8417" stop-color="#df7a4d"/><stop offset="0.8467" stop-color="#de7a4d"/><stop offset="0.8517" stop-color="#de7a4d"/><stop offset="0.8567" stop-color="#de7a4d"/><stop offset="0.8617" stop-color="#de7a4d"/><stop offset="0.8667" stop-color="#de794d"/><stop offset="0.8717" stop-color="#de794d"/><stop offset="0.8768" stop-color="#de794d"/><stop offset="0.8818" stop-color="#de794d"/><stop offset="0.8868" stop-color="#de794d"/><stop offset="0.8918" stop-color="#de7a4d"/><stop offset="0.8968" stop-color="#de7a4d"/><stop offset="0.9018" stop-color="#df7a4d"/><stop offset="0.9068" stop-color="#df7a4d"/><stop offset="0.9118" stop-color="#df7a4d"/><stop offset="0.9168" stop-color="#df7a4d"/><stop offset="0.9218" stop-color="#df7a4d"/><stop offset="0.9269" stop-color="#df7a4d"/><stop offset="0.9319" stop-color="#df7b4d"/><stop offset="0.9369" stop-color="#df7b4d"/><stop offset="0.9419" stop-color="#df7b4d"/><stop offset="0.9469" stop-color="#df7b4d"/><stop offset="0.9519" stop-color="#df7b4d"/><stop offset="0.9569" stop-color="#df7b4d"/><stop offset="0.9619" stop-color="#df7b4d"/><stop offset="0.9669" stop-color="#df7b4e"/><stop offset="0.9719" stop-color="#df7b4e"/><stop offset="0.9770" stop-color="#df7b4e"/><stop offset="0.9820" stop-color="#df7b4e"/><stop offset="0.9870" stop-color="#df7b4e"/><stop offset="0.9920" stop-color="#df7b4e"/><stop offset="0.9970" stop-color="#df7b4e"/></linearGradient><linearGradient id="g3a" gradientUnits="userSpaceOnUse" x1="1870.0" y1="0" x2="2468.8" y2="0"><stop offset="0.0000" stop-color="#fbfbc1"/><stop offset="0.0050" stop-color="#fbfabe"/><stop offset="0.0100" stop-color="#fbfbbf"/><stop offset="0.0150" stop-color="#fafbc1"/><stop offset="0.0200" stop-color="#f8fac5"/><stop offset="0.0251" stop-color="#f9fac4"/><stop offset="0.0301" stop-color="#fbfbbf"/><stop offset="0.0351" stop-color="#fbfbc0"/><stop offset="0.0401" stop-color="#fbfbc1"/><stop offset="0.0451" stop-color="#fbf9bc"/><stop offset="0.0501" stop-color="#fafac2"/><stop offset="0.0551" stop-color="#faf7b9"/><stop offset="0.0601" stop-color="#fbf8bb"/><stop offset="0.0651" stop-color="#faf8bb"/><stop offset="0.0701" stop-color="#fbf8bb"/><stop offset="0.0752" stop-color="#f9fac3"/><stop offset="0.0802" stop-color="#f9fac3"/><stop offset="0.0852" stop-color="#f8fac6"/><stop offset="0.0902" stop-color="#fafbc2"/><stop offset="0.0952" stop-color="#fafac2"/><stop offset="0.1002" stop-color="#fafac2"/><stop offset="0.1052" stop-color="#f9fac3"/><stop offset="0.1102" stop-color="#fafbc2"/><stop offset="0.1152" stop-color="#f9fac4"/><stop offset="0.1202" stop-color="#f6f9c9"/><stop offset="0.1253" stop-color="#f6f9c9"/><stop offset="0.1303" stop-color="#f5f8cb"/><stop offset="0.1353" stop-color="#f6f9c9"/><stop offset="0.1403" stop-color="#f8fac5"/><stop offset="0.1453" stop-color="#fafac2"/><stop offset="0.1503" stop-color="#fbfabf"/><stop offset="0.1553" stop-color="#fbfabf"/><stop offset="0.1603" stop-color="#fbfabe"/><stop offset="0.1653" stop-color="#fbf9bd"/><stop offset="0.1703" stop-color="#faf8bb"/><stop offset="0.1754" stop-color="#fbfabf"/><stop offset="0.1804" stop-color="#faf8bb"/><stop offset="0.1854" stop-color="#faf5b5"/><stop offset="0.1904" stop-color="#faf3b2"/><stop offset="0.1954" stop-color="#f9f2b0"/><stop offset="0.2004" stop-color="#f9f1ae"/><stop offset="0.2054" stop-color="#f9eea9"/><stop offset="0.2104" stop-color="#f9eeaa"/><stop offset="0.2154" stop-color="#f9f1af"/><stop offset="0.2204" stop-color="#faf4b3"/><stop offset="0.2255" stop-color="#faf3b2"/><stop offset="0.2305" stop-color="#faf5b5"/><stop offset="0.2355" stop-color="#faf4b3"/><stop offset="0.2405" stop-color="#faf5b5"/><stop offset="0.2455" stop-color="#faf3b2"/><stop offset="0.2505" stop-color="#faf3b2"/><stop offset="0.2555" stop-color="#faf7b9"/><stop offset="0.2605" stop-color="#faf6b8"/><stop offset="0.2655" stop-color="#f9f2b1"/><stop offset="0.2705" stop-color="#faf3b2"/><stop offset="0.2756" stop-color="#f9f2b0"/><stop offset="0.2806" stop-color="#f9f1af"/><stop offset="0.2856" stop-color="#f9eea9"/><stop offset="0.2906" stop-color="#f8eaa2"/><stop offset="0.2956" stop-color="#f8e9a1"/><stop offset="0.3006" stop-color="#f7e79f"/><stop offset="0.3056" stop-color="#f7e69e"/><stop offset="0.3106" stop-color="#f7e79f"/><stop offset="0.3156" stop-color="#f7e59d"/><stop offset="0.3206" stop-color="#f6e49c"/><stop offset="0.3257" stop-color="#f6e299"/><stop offset="0.3307" stop-color="#f5e198"/><stop offset="0.3357" stop-color="#f5de95"/><stop offset="0.3407" stop-color="#f5de95"/><stop offset="0.3457" stop-color="#f5df96"/><stop offset="0.3507" stop-color="#f4dc93"/><stop offset="0.3557" stop-color="#f3da91"/><stop offset="0.3607" stop-color="#f3d88f"/><stop offset="0.3657" stop-color="#f3d68d"/><stop offset="0.3707" stop-color="#f2d58c"/><stop offset="0.3758" stop-color="#f1cf86"/><stop offset="0.3808" stop-color="#f1cd84"/><stop offset="0.3858" stop-color="#f1cc83"/><stop offset="0.3908" stop-color="#f0cb82"/><stop offset="0.3958" stop-color="#f0c981"/><stop offset="0.4008" stop-color="#efc67d"/><stop offset="0.4058" stop-color="#f0c67e"/><stop offset="0.4108" stop-color="#eec078"/><stop offset="0.4158" stop-color="#eebf77"/><stop offset="0.4208" stop-color="#eec078"/><stop offset="0.4259" stop-color="#eebc74"/><stop offset="0.4309" stop-color="#eebe76"/><stop offset="0.4359" stop-color="#eebf77"/><stop offset="0.4409" stop-color="#eebf76"/><stop offset="0.4459" stop-color="#edbb73"/><stop offset="0.4509" stop-color="#eebe76"/><stop offset="0.4559" stop-color="#edbb73"/><stop offset="0.4609" stop-color="#edbb73"/><stop offset="0.4659" stop-color="#eebe76"/><stop offset="0.4709" stop-color="#eebc74"/><stop offset="0.4760" stop-color="#edbb72"/><stop offset="0.4810" stop-color="#eebc74"/><stop offset="0.4860" stop-color="#edba72"/><stop offset="0.4910" stop-color="#eebc74"/><stop offset="0.4960" stop-color="#edbb73"/><stop offset="0.5010" stop-color="#eebd75"/><stop offset="0.5060" stop-color="#edba72"/><stop offset="0.5110" stop-color="#edba72"/><stop offset="0.5160" stop-color="#eebc74"/><stop offset="0.5210" stop-color="#eebd75"/><stop offset="0.5261" stop-color="#eebd75"/><stop offset="0.5311" stop-color="#eebc74"/><stop offset="0.5361" stop-color="#eebf76"/><stop offset="0.5411" stop-color="#eebd75"/><stop offset="0.5461" stop-color="#eebf77"/><stop offset="0.5511" stop-color="#eebf77"/><stop offset="0.5561" stop-color="#eec078"/><stop offset="0.5611" stop-color="#eebe76"/><stop offset="0.5661" stop-color="#efc27a"/><stop offset="0.5711" stop-color="#efc27a"/><stop offset="0.5762" stop-color="#efc37b"/><stop offset="0.5812" stop-color="#efc47c"/><stop offset="0.5862" stop-color="#efc37b"/><stop offset="0.5912" stop-color="#efc179"/><stop offset="0.5962" stop-color="#efc279"/><stop offset="0.6012" stop-color="#efc47b"/><stop offset="0.6062" stop-color="#efc47c"/><stop offset="0.6112" stop-color="#efc37a"/><stop offset="0.6162" stop-color="#efc57c"/><stop offset="0.6212" stop-color="#efc57c"/><stop offset="0.6263" stop-color="#efc57c"/><stop offset="0.6313" stop-color="#f0c87f"/><stop offset="0.6363" stop-color="#efc47c"/><stop offset="0.6413" stop-color="#f0c880"/><stop offset="0.6463" stop-color="#f0c67e"/><stop offset="0.6513" stop-color="#efc57d"/><stop offset="0.6563" stop-color="#f0c77e"/><stop offset="0.6613" stop-color="#f0c880"/><stop offset="0.6663" stop-color="#f0c77e"/><stop offset="0.6713" stop-color="#efc67d"/><stop offset="0.6764" stop-color="#f0c77f"/><stop offset="0.6814" stop-color="#f0ca81"/><stop offset="0.6864" stop-color="#f0c67e"/><stop offset="0.6914" stop-color="#f0ca82"/><stop offset="0.6964" stop-color="#f0c77f"/><stop offset="0.7014" stop-color="#f0c67e"/><stop offset="0.7064" stop-color="#f0ca81"/><stop offset="0.7114" stop-color="#f0c880"/><stop offset="0.7164" stop-color="#f0c77f"/><stop offset="0.7214" stop-color="#f0ca81"/><stop offset="0.7265" stop-color="#f0c981"/><stop offset="0.7315" stop-color="#f0ca82"/><stop offset="0.7365" stop-color="#f0ca81"/><stop offset="0.7415" stop-color="#f0ca81"/><stop offset="0.7465" stop-color="#f0c981"/><stop offset="0.7515" stop-color="#f0c77f"/><stop offset="0.7565" stop-color="#f0c87f"/><stop offset="0.7615" stop-color="#f0c77f"/><stop offset="0.7665" stop-color="#f0c87f"/><stop offset="0.7715" stop-color="#f0c77f"/><stop offset="0.7766" stop-color="#f0ca82"/><stop offset="0.7816" stop-color="#f0c880"/><stop offset="0.7866" stop-color="#f0cb82"/><stop offset="0.7916" stop-color="#f0c980"/><stop offset="0.7966" stop-color="#f0c77f"/><stop offset="0.8016" stop-color="#f0c980"/><stop offset="0.8066" stop-color="#f0ca81"/><stop offset="0.8116" stop-color="#f0ca81"/><stop offset="0.8166" stop-color="#f0c981"/><stop offset="0.8216" stop-color="#f0c77e"/><stop offset="0.8267" stop-color="#f0c77e"/><stop offset="0.8317" stop-color="#f0c87f"/><stop offset="0.8367" stop-color="#f0c77e"/><stop offset="0.8417" stop-color="#f0c87f"/><stop offset="0.8467" stop-color="#f0ca81"/><stop offset="0.8517" stop-color="#f0c981"/><stop offset="0.8567" stop-color="#f0c87f"/><stop offset="0.8617" stop-color="#f0c87f"/><stop offset="0.8667" stop-color="#f0c880"/><stop offset="0.8717" stop-color="#f0c980"/><stop offset="0.8768" stop-color="#f0cb82"/><stop offset="0.8818" stop-color="#f0c77e"/><stop offset="0.8868" stop-color="#f0ca82"/><stop offset="0.8918" stop-color="#f0c77e"/><stop offset="0.8968" stop-color="#f0cb82"/><stop offset="0.9018" stop-color="#f0c77e"/><stop offset="0.9068" stop-color="#f0ca81"/><stop offset="0.9118" stop-color="#f0c87f"/><stop offset="0.9168" stop-color="#f1cb83"/><stop offset="0.9218" stop-color="#f0c981"/><stop offset="0.9269" stop-color="#f0ca82"/><stop offset="0.9319" stop-color="#f0c880"/><stop offset="0.9369" stop-color="#f0c880"/><stop offset="0.9419" stop-color="#f0c981"/><stop offset="0.9469" stop-color="#f0c880"/><stop offset="0.9519" stop-color="#f0c77e"/><stop offset="0.9569" stop-color="#f0cb82"/><stop offset="0.9619" stop-color="#f0c980"/><stop offset="0.9669" stop-color="#f0c880"/><stop offset="0.9719" stop-color="#f0c880"/><stop offset="0.9770" stop-color="#f0ca82"/><stop offset="0.9820" stop-color="#f0c77f"/><stop offset="0.9870" stop-color="#f0ca82"/><stop offset="0.9920" stop-color="#f0c77f"/><stop offset="0.9970" stop-color="#f0c981"/></linearGradient><linearGradient id="gl" gradientUnits="userSpaceOnUse" x1="1352.5" y1="0" x2="1700.0" y2="0"><stop offset="0.0000" stop-color="#4a5ea9"/><stop offset="0.0084" stop-color="#4b60aa"/><stop offset="0.0168" stop-color="#4d62ab"/><stop offset="0.0252" stop-color="#4e65ac"/><stop offset="0.0336" stop-color="#4f67ad"/><stop offset="0.0420" stop-color="#5069ae"/><stop offset="0.0504" stop-color="#526bb0"/><stop offset="0.0588" stop-color="#546fb2"/><stop offset="0.0672" stop-color="#5774b5"/><stop offset="0.0756" stop-color="#5a79b8"/><stop offset="0.0840" stop-color="#5d7fbb"/><stop offset="0.0924" stop-color="#6084be"/><stop offset="0.1008" stop-color="#6489c2"/><stop offset="0.1092" stop-color="#6a8fc5"/><stop offset="0.1176" stop-color="#6f95c8"/><stop offset="0.1261" stop-color="#759bcb"/><stop offset="0.1345" stop-color="#7ba1ce"/><stop offset="0.1429" stop-color="#80a6d1"/><stop offset="0.1513" stop-color="#87acd4"/><stop offset="0.1597" stop-color="#8db2d7"/><stop offset="0.1681" stop-color="#94b8da"/><stop offset="0.1765" stop-color="#9abedd"/><stop offset="0.1849" stop-color="#a1c4e0"/><stop offset="0.1933" stop-color="#a8cae2"/><stop offset="0.2017" stop-color="#b0d1e3"/><stop offset="0.2101" stop-color="#b8d7e4"/><stop offset="0.2185" stop-color="#c0dce7"/><stop offset="0.2269" stop-color="#c9e1ea"/><stop offset="0.2353" stop-color="#d2e6ee"/><stop offset="0.2437" stop-color="#dbeaf1"/><stop offset="0.2521" stop-color="#e1eeeb"/><stop offset="0.2605" stop-color="#e7f1e3"/><stop offset="0.2689" stop-color="#edf4db"/><stop offset="0.2773" stop-color="#f2f7d0"/><stop offset="0.2857" stop-color="#f8f9c6"/><stop offset="0.2941" stop-color="#faf8bb"/><stop offset="0.3025" stop-color="#f9f1af"/><stop offset="0.3109" stop-color="#f8eaa3"/><stop offset="0.3193" stop-color="#f6e49c"/><stop offset="0.3277" stop-color="#f5de95"/><stop offset="0.3361" stop-color="#f3d78e"/><stop offset="0.3445" stop-color="#f1d087"/><stop offset="0.3529" stop-color="#f0c880"/><stop offset="0.3613" stop-color="#eec078"/><stop offset="0.3697" stop-color="#edb971"/><stop offset="0.3782" stop-color="#ebae68"/><stop offset="0.3866" stop-color="#e9a260"/><stop offset="0.3950" stop-color="#e7995b"/><stop offset="0.4034" stop-color="#e59158"/><stop offset="0.4118" stop-color="#e48955"/><stop offset="0.4202" stop-color="#e18251"/><stop offset="0.4286" stop-color="#df7a4d"/><stop offset="0.4370" stop-color="#dc7249"/><stop offset="0.4454" stop-color="#d96c46"/><stop offset="0.4538" stop-color="#d76643"/><stop offset="0.4622" stop-color="#d45f40"/><stop offset="0.4706" stop-color="#d2593d"/><stop offset="0.4790" stop-color="#ce533a"/><stop offset="0.4874" stop-color="#cb4d38"/><stop offset="0.4958" stop-color="#c84835"/><stop offset="0.5042" stop-color="#c44433"/><stop offset="0.5126" stop-color="#c14031"/><stop offset="0.5210" stop-color="#be3c30"/><stop offset="0.5294" stop-color="#ba392e"/><stop offset="0.5378" stop-color="#b8372e"/><stop offset="0.5462" stop-color="#b6352e"/><stop offset="0.5546" stop-color="#b3332e"/><stop offset="0.5630" stop-color="#b1312e"/><stop offset="0.5714" stop-color="#ae2f2e"/><stop offset="0.5798" stop-color="#ac2d2e"/><stop offset="0.5882" stop-color="#aa2c2e"/><stop offset="0.5966" stop-color="#a92c2e"/><stop offset="0.6050" stop-color="#a72b2e"/><stop offset="0.6134" stop-color="#a62a2e"/><stop offset="0.6218" stop-color="#a52a2e"/><stop offset="0.6303" stop-color="#a3292d"/><stop offset="0.6387" stop-color="#a2282d"/><stop offset="0.6471" stop-color="#a1282d"/><stop offset="0.6555" stop-color="#9f272d"/><stop offset="0.6639" stop-color="#9e262d"/><stop offset="0.6723" stop-color="#9d262d"/><stop offset="0.6807" stop-color="#9c252d"/><stop offset="0.6891" stop-color="#9c252d"/><stop offset="0.6975" stop-color="#9b242d"/><stop offset="0.7059" stop-color="#9a242d"/><stop offset="0.7143" stop-color="#99242c"/><stop offset="0.7227" stop-color="#98232c"/><stop offset="0.7311" stop-color="#98232c"/><stop offset="0.7395" stop-color="#97222c"/><stop offset="0.7479" stop-color="#96222c"/><stop offset="0.7563" stop-color="#96222c"/><stop offset="0.7647" stop-color="#96222c"/><stop offset="0.7731" stop-color="#96222c"/><stop offset="0.7815" stop-color="#95222c"/><stop offset="0.7899" stop-color="#95212c"/><stop offset="0.7983" stop-color="#95212c"/><stop offset="0.8067" stop-color="#95212c"/><stop offset="0.8151" stop-color="#95212c"/><stop offset="0.8235" stop-color="#95212c"/><stop offset="0.8319" stop-color="#94212d"/><stop offset="0.8403" stop-color="#94212d"/><stop offset="0.8487" stop-color="#94212d"/><stop offset="0.8571" stop-color="#94212d"/><stop offset="0.8655" stop-color="#94212d"/><stop offset="0.8739" stop-color="#94202d"/><stop offset="0.8824" stop-color="#94202d"/><stop offset="0.8908" stop-color="#93202d"/><stop offset="0.8992" stop-color="#93202d"/><stop offset="0.9076" stop-color="#93202d"/><stop offset="0.9160" stop-color="#93202d"/><stop offset="0.9244" stop-color="#93202d"/><stop offset="0.9328" stop-color="#93202d"/><stop offset="0.9412" stop-color="#92202d"/><stop offset="0.9496" stop-color="#92202d"/><stop offset="0.9580" stop-color="#921f2d"/><stop offset="0.9664" stop-color="#921f2d"/><stop offset="0.9748" stop-color="#921f2d"/><stop offset="0.9832" stop-color="#911f2d"/><stop offset="0.9916" stop-color="#911f2d"/><stop offset="1.0000" stop-color="#911f2d"/></linearGradient></defs><g stroke="#d9d9d9" stroke-width="2.4" fill="none">
<line x1="175.0" y1="1080.1" x2="945.5" y2="1080.1" stroke="#d1d1d1" stroke-width="2.3"/>
<line x1="175.0" y1="1008.1" x2="945.5" y2="1008.1" stroke="#d1d1d1" stroke-width="2.3"/>
<line x1="175.0" y1="936.2" x2="945.5" y2="936.2" stroke="#d1d1d1" stroke-width="2.3"/>
<line x1="175.0" y1="864.3" x2="945.5" y2="864.3" stroke="#d1d1d1" stroke-width="2.3"/>
<line x1="175.0" y1="792.4" x2="945.5" y2="792.4" stroke="#d1d1d1" stroke-width="2.3"/>
<line x1="175.0" y1="720.5" x2="945.5" y2="720.5" stroke="#d1d1d1" stroke-width="2.3"/>
<line x1="175.0" y1="648.5" x2="945.5" y2="648.5" stroke="#d1d1d1" stroke-width="2.3"/>
<line x1="175.0" y1="576.6" x2="945.5" y2="576.6" stroke="#d1d1d1" stroke-width="2.3"/>
<line x1="175.0" y1="504.7" x2="945.5" y2="504.7" stroke="#d1d1d1" stroke-width="2.3"/>
<line x1="175.0" y1="432.8" x2="945.5" y2="432.8" stroke="#d1d1d1" stroke-width="2.3"/>
<line x1="175.0" y1="360.9" x2="945.5" y2="360.9" stroke="#d1d1d1" stroke-width="2.3"/>
<line x1="175.0" y1="288.9" x2="945.5" y2="288.9" stroke="#d1d1d1" stroke-width="2.3"/>
<line x1="275.7" y1="254.0" x2="275.7" y2="1152" stroke-width="2.1"/>
<line x1="499.0" y1="254.0" x2="499.0" y2="1152" stroke-width="2.1"/>
<line x1="722.2" y1="254.0" x2="722.2" y2="1152" stroke-width="2.1"/>
<line x1="945.5" y1="289.0" x2="945.5" y2="1152" stroke-width="2.1"/>
<line x1="1037.5" y1="1080.1" x2="1789.5" y2="1080.1" stroke="#d1d1d1" stroke-width="2.3"/>
<line x1="1037.5" y1="1008.1" x2="1789.5" y2="1008.1" stroke="#d1d1d1" stroke-width="2.3"/>
<line x1="1037.5" y1="936.2" x2="1789.5" y2="936.2" stroke="#d1d1d1" stroke-width="2.3"/>
<line x1="1037.5" y1="864.3" x2="1789.5" y2="864.3" stroke="#d1d1d1" stroke-width="2.3"/>
<line x1="1037.5" y1="792.4" x2="1789.5" y2="792.4" stroke="#d1d1d1" stroke-width="2.3"/>
<line x1="1037.5" y1="720.5" x2="1789.5" y2="720.5" stroke="#d1d1d1" stroke-width="2.3"/>
<line x1="1037.5" y1="648.5" x2="1789.5" y2="648.5" stroke="#d1d1d1" stroke-width="2.3"/>
<line x1="1037.5" y1="576.6" x2="1789.5" y2="576.6" stroke="#d1d1d1" stroke-width="2.3"/>
<line x1="1037.5" y1="504.7" x2="1789.5" y2="504.7" stroke="#d1d1d1" stroke-width="2.3"/>
<line x1="1037.5" y1="432.8" x2="1789.5" y2="432.8" stroke="#d1d1d1" stroke-width="2.3"/>
<line x1="1037.5" y1="360.9" x2="1789.5" y2="360.9" stroke="#d1d1d1" stroke-width="2.3"/>
<line x1="1037.5" y1="288.9" x2="1789.5" y2="288.9" stroke="#d1d1d1" stroke-width="2.3"/>
<line x1="1037.5" y1="254.0" x2="1037.5" y2="1152" stroke-width="2.1"/>
<line x1="1225.5" y1="254.0" x2="1225.5" y2="1152" stroke-width="2.1"/>
<line x1="1413.5" y1="254.0" x2="1413.5" y2="1152" stroke-width="2.1"/>
<line x1="1601.5" y1="254.0" x2="1601.5" y2="1152" stroke-width="2.1"/>
<line x1="1789.5" y1="254.0" x2="1789.5" y2="1152" stroke-width="2.1"/>
<line x1="1870.0" y1="1080.1" x2="2488.0" y2="1080.1" stroke="#d1d1d1" stroke-width="2.3"/>
<line x1="1870.0" y1="1008.1" x2="2488.0" y2="1008.1" stroke="#d1d1d1" stroke-width="2.3"/>
<line x1="1870.0" y1="936.2" x2="2488.0" y2="936.2" stroke="#d1d1d1" stroke-width="2.3"/>
<line x1="1870.0" y1="864.3" x2="2488.0" y2="864.3" stroke="#d1d1d1" stroke-width="2.3"/>
<line x1="1870.0" y1="792.4" x2="2488.0" y2="792.4" stroke="#d1d1d1" stroke-width="2.3"/>
<line x1="1870.0" y1="720.5" x2="2488.0" y2="720.5" stroke="#d1d1d1" stroke-width="2.3"/>
<line x1="1870.0" y1="648.5" x2="2488.0" y2="648.5" stroke="#d1d1d1" stroke-width="2.3"/>
<line x1="1870.0" y1="576.6" x2="2488.0" y2="576.6" stroke="#d1d1d1" stroke-width="2.3"/>
<line x1="1870.0" y1="504.7" x2="2488.0" y2="504.7" stroke="#d1d1d1" stroke-width="2.3"/>
<line x1="1870.0" y1="432.8" x2="2488.0" y2="432.8" stroke="#d1d1d1" stroke-width="2.3"/>
<line x1="1870.0" y1="360.9" x2="2488.0" y2="360.9" stroke="#d1d1d1" stroke-width="2.3"/>
<line x1="1870.0" y1="288.9" x2="2488.0" y2="288.9" stroke="#d1d1d1" stroke-width="2.3"/>
<line x1="1936.5" y1="254.0" x2="1936.5" y2="1152" stroke-width="2.1"/>
<line x1="2069.5" y1="254.0" x2="2069.5" y2="1152" stroke-width="2.1"/>
<line x1="2202.5" y1="254.0" x2="2202.5" y2="1152" stroke-width="2.1"/>
<line x1="2335.6" y1="254.0" x2="2335.6" y2="1152" stroke-width="2.1"/>
<line x1="2468.6" y1="254.0" x2="2468.6" y2="1152" stroke-width="2.1"/>
</g>
<path d="M196.5,1152.0 196.5,524.0 197.8,521.7 199.1,517.1 200.4,512.0 201.7,506.2 203.0,499.9 204.3,492.8 205.6,485.4 206.9,477.4 208.2,469.5 209.5,462.6 210.8,457.9 212.1,453.9 213.4,450.4 214.7,447.5 216.0,445.7 217.3,444.1 218.6,443.9 219.9,444.8 221.2,446.1 222.5,447.4 223.8,448.6 225.1,449.8 226.4,450.7 227.7,451.6 229.0,452.5 230.3,453.1 231.6,453.1 232.9,452.9 234.2,452.6 235.5,452.5 236.8,452.8 238.1,454.3 239.4,456.3 240.7,458.6 242.0,460.9 243.3,463.5 244.6,466.1 245.9,468.6 247.2,471.2 248.5,473.5 249.8,475.0 251.1,476.6 252.4,478.2 253.7,479.8 255.0,481.1 256.3,482.6 257.6,484.4 258.9,487.7 260.2,491.0 261.5,494.3 262.8,497.1 264.1,499.9 265.4,502.5 266.7,505.1 268.0,507.5 269.3,509.6 270.6,510.1 271.9,510.5 273.2,510.7 274.5,510.9 275.8,511.0 277.1,511.0 278.4,510.9 279.7,510.6 281.0,509.9 282.3,509.3 283.6,508.3 284.9,507.2 286.2,505.3 287.5,502.9 288.8,500.3 290.1,497.8 291.4,495.2 292.7,491.7 294.0,486.7 295.3,482.0 296.6,477.4 297.9,473.3 299.2,469.6 300.5,466.1 301.8,462.7 303.1,459.2 304.4,456.9 305.7,455.6 307.0,454.3 308.3,453.1 309.6,451.6 310.9,449.7 312.2,447.3 313.5,444.8 314.8,441.9 316.1,437.4 317.4,433.4 318.7,429.3 320.0,425.0 321.3,420.9 322.6,417.0 323.9,413.6 325.2,410.2 326.5,407.2 327.8,405.5 329.1,403.6 330.4,401.0 331.7,398.3 333.0,395.6 334.3,392.4 335.6,389.0 336.9,385.4 338.2,381.9 339.5,378.6 340.8,375.5 342.1,373.1 343.4,370.7 344.7,368.4 346.0,366.7 347.3,365.4 348.6,364.4 349.9,363.6 351.2,362.8 352.5,361.9 353.8,361.0 355.1,360.2 356.4,359.5 357.7,358.8 359.0,358.3 360.3,357.8 361.6,357.4 362.9,356.8 364.2,356.5 365.5,356.4 366.8,356.3 368.1,356.1 369.4,355.9 370.7,355.5 372.0,355.0 373.3,354.5 374.6,354.0 375.9,353.6 377.2,353.3 378.5,353.1 379.8,352.9 381.1,352.7 382.4,352.6 383.7,352.6 385.0,352.7 386.3,352.9 387.6,353.3 388.9,353.8 390.2,354.7 391.5,356.1 392.8,357.9 394.1,360.2 395.4,363.0 396.7,366.3 398.0,370.5 399.3,375.4 400.6,380.2 401.9,384.7 403.2,388.9 404.5,392.6 405.8,395.9 407.1,399.4 408.4,402.8 409.7,405.1 411.0,406.6 412.3,408.3 413.6,410.5 414.9,413.4 416.2,417.2 417.5,421.6 418.8,426.1 420.1,432.0 421.4,438.9 422.7,446.2 424.0,453.5 425.3,460.8 426.6,467.5 427.9,473.5 429.2,479.0 430.5,483.9 431.8,487.7 433.1,491.4 434.4,494.9 435.7,498.3 437.0,501.6 438.3,504.5 439.6,507.3 440.9,509.9 442.2,512.3 443.5,514.0 444.8,514.7 446.1,515.2 447.4,515.5 448.7,515.2 450.0,514.1 451.3,512.2 452.6,510.0 453.9,507.8 455.2,505.6 456.5,503.4 457.8,501.2 459.1,499.0 460.4,497.1 461.7,496.1 463.0,496.3 464.3,497.3 465.6,499.0 466.9,501.4 468.2,504.2 469.5,507.2 470.8,510.6 472.1,513.9 473.4,517.1 474.7,520.0 476.0,522.4 477.3,524.2 478.6,525.8 479.9,527.4 481.2,528.7 482.5,529.7 483.8,530.7 485.1,531.6 486.4,532.6 487.7,533.6 489.0,534.8 490.3,535.9 491.6,536.7 492.9,537.6 494.2,538.8 495.5,540.0 496.8,541.2 498.1,543.4 499.4,546.3 500.7,549.3 502.0,552.5 503.3,556.2 504.6,559.8 505.9,563.9 507.2,568.4 508.5,572.9 509.8,576.6 511.1,579.5 512.4,582.0 513.7,584.0 515.0,585.7 516.3,587.1 517.6,587.8 518.9,588.1 520.2,588.3 521.5,588.4 522.8,588.2 524.1,586.9 525.4,585.6 526.7,584.3 528.0,583.0 529.3,581.8 530.6,580.7 531.9,580.4 533.2,580.1 534.5,580.7 535.8,582.9 537.1,585.3 538.4,587.8 539.7,590.5 541.0,593.2 542.3,596.8 543.6,599.9 544.9,603.4 546.2,606.3 547.5,609.0 548.8,611.5 550.1,614.0 551.4,616.4 552.7,619.0 554.0,620.9 555.3,622.7 556.6,624.1 557.9,625.3 559.2,626.9 560.5,630.1 561.8,636.5 563.1,645.0 564.4,654.2 565.7,665.1 567.0,675.8 568.3,686.5 569.6,697.2 570.9,707.2 572.2,715.5 573.5,720.5 574.8,723.3 576.1,724.6 577.4,723.4 578.7,721.6 580.0,719.8 581.3,718.0 582.6,716.2 583.9,714.4 585.2,712.6 586.5,710.8 587.8,709.6 589.1,709.0 590.4,709.1 591.7,709.4 593.0,709.9 594.3,710.6 595.6,711.2 596.9,711.9 598.2,712.5 599.5,713.2 600.8,713.9 602.1,714.4 603.4,714.7 604.7,714.8 606.0,714.7 607.3,714.9 608.6,715.4 609.9,715.9 611.2,716.4 612.5,717.0 613.8,717.9 615.1,718.9 616.4,720.0 617.7,721.1 619.0,722.1 620.3,722.7 621.6,723.4 622.9,724.2 624.2,724.9 625.5,725.1 626.8,725.3 628.1,725.6 629.4,726.0 630.7,726.4 632.0,727.1 633.3,727.9 634.6,728.6 635.9,729.5 637.2,730.4 638.5,731.4 639.8,732.2 641.1,732.8 642.4,733.2 643.7,733.5 645.0,733.5 646.3,733.5 647.6,733.3 648.9,732.8 650.2,732.0 651.5,731.1 652.8,730.2 654.1,729.2 655.4,728.1 656.7,726.7 658.0,725.2 659.3,723.5 660.6,722.1 661.9,720.9 663.2,719.8 664.5,718.8 665.8,717.7 667.1,716.4 668.4,715.1 669.7,714.1 671.0,713.3 672.3,712.5 673.6,711.8 674.9,711.1 676.2,710.4 677.5,709.9 678.8,709.8 680.1,710.2 681.4,711.4 682.7,712.8 684.0,714.1 685.3,715.5 686.6,716.9 687.9,718.3 689.2,719.6 690.5,720.8 691.8,721.7 693.1,721.1 694.4,720.5 695.7,719.5 697.0,718.6 698.3,717.6 699.6,716.6 700.9,715.6 702.2,714.8 703.5,713.9 704.8,713.4 706.1,712.9 707.4,712.7 708.7,712.6 710.0,712.6 711.3,712.5 712.6,712.7 713.9,712.8 715.2,713.1 716.5,713.5 717.8,714.8 719.1,716.0 720.4,717.1 721.7,718.1 723.0,719.2 724.3,720.2 725.6,721.3 726.9,722.4 728.2,723.3 729.5,723.4 730.8,723.3 732.1,723.2 733.4,722.9 734.7,722.4 736.0,721.6 737.3,720.3 738.6,718.7 739.9,716.9 741.2,715.1 742.5,713.3 743.8,711.5 745.1,709.6 746.4,707.6 747.7,705.6 749.0,704.0 750.3,702.6 751.6,700.9 752.9,699.0 754.2,697.1 755.5,695.0 756.8,693.1 758.1,691.5 759.4,690.2 760.7,688.7 762.0,687.1 763.3,685.9 764.6,685.2 765.9,684.9 767.2,684.8 768.5,685.0 769.8,685.6 771.1,686.2 772.4,687.2 773.7,688.3 775.0,689.8 776.3,691.6 777.6,693.6 778.9,696.0 780.2,698.5 781.5,701.1 782.8,704.1 784.1,707.7 785.4,711.7 786.7,716.0 788.0,721.1 789.3,726.0 790.6,730.9 791.9,736.0 793.2,741.3 794.5,746.8 795.8,752.5 797.1,757.9 798.4,762.5 799.7,766.2 801.0,769.6 802.3,772.7 803.6,775.3 804.9,777.4 806.2,778.8 807.5,779.4 808.8,779.7 810.1,779.9 811.4,780.1 812.7,780.1 814.0,780.1 815.3,780.2 816.6,780.2 817.9,780.3 819.2,780.4 820.5,780.5 821.8,780.6 823.1,780.9 824.4,781.3 825.7,781.9 827.0,782.6 828.3,783.4 829.6,784.3 830.9,785.2 832.2,786.3 833.5,787.5 834.8,788.9 836.1,790.6 837.4,792.3 838.7,793.9 840.0,795.7 841.3,797.4 842.6,799.3 843.9,801.0 845.2,802.6 846.5,804.0 847.8,804.9 849.1,805.6 850.4,806.1 851.7,806.3 853.0,806.3 854.3,805.9 855.6,805.4 856.9,804.8 858.2,804.2 859.5,803.6 860.8,803.0 862.1,802.5 863.4,802.0 864.7,801.9 866.0,802.0 867.3,802.2 868.6,802.8 869.9,803.5 871.2,804.4 872.5,805.5 873.8,806.8 875.1,808.1 876.4,809.6 877.7,811.3 879.0,813.0 880.3,814.5 881.6,816.4 882.9,818.8 884.2,821.2 885.5,823.3 886.8,825.4 888.1,827.4 889.4,829.1 890.7,830.8 892.0,832.5 893.3,833.8 894.6,834.4 895.9,834.8 897.2,835.4 898.5,836.3 899.8,837.9 901.1,839.7 902.4,842.7 903.7,846.1 905.0,849.9 906.3,854.3 907.6,859.8 908.9,865.6 910.2,872.5 911.5,879.8 912.8,886.9 914.1,892.7 915.4,898.2 916.7,903.1 918.0,908.1 919.3,912.3 920.6,916.1 921.9,918.5 923.2,920.0 924.5,921.3 925.8,923.2 927.1,925.7 928.4,928.3 929.7,930.2 931.0,933.2 932.3,937.8 933.6,948.8 934.9,959.7 936.2,970.5 937.5,980.8 938.8,990.5 938.8,1152.0Z" fill="url(#g1)"/>
<path d="M1037.5,1152.0 1039.0,1093.0 1041.0,1118.0 1043.0,1060.0 1045.0,1024.0 1048.0,960.0 1051.0,920.0 1053.4,908.0 1056.0,926.0 1058.0,926.0 1060.0,946.0 1062.0,968.0 1065.0,986.0 1068.0,980.0 1071.0,973.0 1073.0,980.0 1075.0,1000.0 1076.4,1016.0 1078.0,998.0 1080.4,1006.0 1083.0,1002.0 1086.0,1018.0 1087.6,1024.0 1090.0,1000.0 1093.0,982.0 1095.0,977.0 1097.0,984.0 1099.0,996.0 1101.6,1000.0 1104.0,1014.0 1106.0,1022.0 1108.0,1018.0 1110.0,1026.0 1113.0,1037.0 1116.0,1035.0 1118.0,998.0 1120.0,984.0 1122.0,940.0 1125.0,912.0 1127.0,926.0 1129.0,918.0 1131.0,928.0 1133.0,920.0 1135.0,942.0 1137.0,944.0 1138.0,912.0 1141.0,919.0 1143.0,956.0 1145.0,988.0 1147.0,980.0 1149.0,1000.0 1152.0,1010.0 1155.0,1030.0 1157.0,1038.0 1160.0,1026.0 1163.0,1020.0 1166.0,1026.0 1170.0,1018.0 1172.0,1009.0 1175.0,1018.0 1176.6,1032.0 1179.0,1014.0 1182.0,1010.0 1183.0,998.0 1185.0,1018.0 1188.0,1026.0 1191.0,1040.0 1194.0,1040.0 1196.4,1042.0 1199.0,1030.0 1201.0,1014.0 1203.0,980.0 1206.0,954.0 1209.0,942.0 1212.0,920.0 1215.0,910.0 1219.0,895.0 1222.0,902.0 1225.0,916.0 1228.0,918.0 1230.0,930.0 1233.0,948.0 1235.0,936.0 1237.0,944.0 1239.0,938.0 1242.0,950.0 1245.0,930.0 1247.6,920.0 1250.0,928.0 1253.0,946.0 1255.6,942.0 1258.0,954.0 1261.0,976.0 1264.0,990.0 1267.0,1006.0 1269.0,1002.0 1272.0,1020.0 1275.0,1026.0 1278.0,1044.0 1280.0,1058.0 1283.0,1046.0 1286.0,1030.0 1289.0,1008.0 1292.0,994.0 1296.0,986.0 1300.0,988.0 1304.0,990.0 1307.0,984.0 1310.0,980.0 1312.0,984.0 1314.0,960.0 1317.0,944.0 1320.0,936.0 1323.0,946.0 1326.0,950.0 1328.6,956.0 1331.0,988.0 1333.0,992.0 1335.0,986.0 1337.0,1008.0 1340.0,1020.0 1343.0,1040.0 1346.0,1070.0 1348.0,1090.0 1351.0,1104.0 1355.0,1118.0 1357.0,1100.0 1360.0,1096.0 1363.0,1086.0 1365.0,1075.0 1368.0,1088.0 1371.0,1086.0 1373.6,1077.0 1376.0,1084.0 1379.0,1068.0 1381.6,1066.0 1384.0,1050.0 1386.0,1042.0 1389.0,1030.0 1390.0,1020.0 1392.0,990.0 1394.0,950.0 1396.0,910.0 1398.0,866.0 1400.0,860.0 1402.0,856.0 1404.0,844.0 1407.0,844.0 1409.6,829.0 1411.0,850.0 1413.0,890.0 1415.0,914.0 1418.0,934.0 1420.0,932.0 1423.0,954.0 1426.0,962.0 1428.0,990.0 1431.0,988.0 1434.0,1004.0 1437.0,1030.0 1439.0,1048.0 1441.0,1042.0 1444.0,1056.0 1448.0,1065.0 1450.4,1034.0 1453.0,1050.0 1456.0,1058.0 1458.0,1046.0 1461.0,1046.0 1464.0,1040.0 1467.0,1028.0 1469.0,1010.0 1471.0,970.0 1473.0,930.0 1475.0,890.0 1477.0,868.0 1479.0,862.0 1481.0,868.0 1483.0,880.0 1486.0,898.0 1489.0,918.0 1491.0,932.0 1493.0,924.0 1495.0,920.0 1498.0,936.0 1501.0,962.0 1504.0,970.0 1508.0,988.0 1511.0,992.0 1513.6,1002.0 1516.0,980.0 1518.0,966.0 1520.4,959.0 1522.4,968.0 1525.0,994.0 1528.0,1018.0 1531.0,1036.0 1534.0,1046.0 1536.4,1060.0 1539.0,1036.0 1542.0,1028.0 1545.0,1022.0 1548.0,1020.0 1551.0,1020.0 1554.0,1012.0 1556.0,998.0 1558.0,970.0 1560.0,942.0 1562.0,916.0 1564.0,903.0 1566.0,914.0 1568.0,938.0 1571.0,958.0 1574.0,972.0 1577.0,978.0 1580.0,979.0 1582.0,970.0 1584.0,934.0 1586.0,904.0 1589.0,894.0 1592.0,901.0 1595.0,906.0 1598.0,908.0 1601.0,918.0 1604.0,932.0 1606.0,954.0 1609.0,950.0 1611.0,974.0 1614.0,986.0 1617.0,1000.0 1619.0,1012.0 1621.0,1000.0 1624.0,1010.0 1628.0,1006.0 1630.0,1020.0 1631.6,1040.0 1634.0,1024.0 1638.0,1016.0 1640.0,1050.0 1642.0,1062.0 1644.0,1040.0 1646.4,1016.0 1650.0,1016.0 1653.6,1012.0 1655.0,1022.0 1658.0,1010.0 1660.0,998.0 1663.0,970.0 1665.0,930.0 1667.0,870.0 1669.0,836.0 1671.0,829.0 1674.0,832.0 1676.0,850.0 1678.0,870.0 1680.0,890.0 1682.0,904.0 1684.0,910.0 1687.0,923.0 1689.0,914.0 1691.0,894.0 1693.0,889.0 1696.0,894.0 1699.0,906.0 1701.0,922.0 1704.0,934.0 1707.0,950.0 1710.0,938.0 1712.0,930.0 1714.0,934.0 1716.0,958.0 1719.0,968.0 1721.0,990.0 1723.0,1010.0 1725.0,1030.0 1727.0,1048.0 1730.0,1066.0 1733.0,1054.0 1736.0,1032.0 1741.0,1031.0 1743.0,1042.0 1746.0,1056.0 1749.0,1050.0 1752.0,1068.0 1755.0,1064.0 1758.0,1054.0 1761.0,1062.0 1764.0,1070.0 1766.0,1076.0 1769.0,1068.0 1772.0,1064.0 1774.0,1030.0 1776.0,970.0 1778.0,910.0 1780.0,876.0 1782.0,865.0 1785.0,866.0 1788.0,870.0 1789.5,859.0 1789.5,1152.0Z" fill="url(#g2)"/>
<path d="M1870.0,1152.0 1870.0,864.0 1872.0,863.0 1874.0,862.0 1876.0,864.0 1878.0,866.0 1880.0,868.0 1882.0,867.3 1884.0,866.7 1886.0,866.0 1888.0,865.0 1890.0,864.0 1892.0,863.0 1894.0,863.2 1896.0,863.5 1898.0,863.8 1900.0,864.0 1902.0,863.6 1904.0,863.2 1906.0,858.5 1908.0,856.7 1910.0,862.0 1912.0,864.0 1914.0,866.0 1916.0,868.0 1918.0,868.0 1920.0,868.0 1922.0,868.0 1924.0,867.5 1926.0,867.0 1928.0,866.5 1930.0,866.0 1932.0,865.0 1934.0,864.0 1936.0,863.0 1938.0,865.7 1940.0,868.3 1942.0,871.0 1944.0,871.0 1946.0,871.0 1948.0,871.0 1950.0,870.7 1952.0,870.3 1954.0,870.0 1956.0,861.0 1958.0,865.7 1960.0,867.0 1962.0,865.0 1964.0,863.0 1966.0,862.7 1968.0,862.3 1970.0,862.0 1972.0,862.7 1974.0,863.3 1976.0,864.0 1978.0,862.5 1980.0,861.0 1982.0,859.3 1984.0,857.7 1986.0,856.0 1988.0,854.0 1990.0,852.0 1992.0,850.8 1994.0,849.6 1996.0,850.7 1998.0,854.0 2000.0,855.3 2002.0,856.7 2004.0,858.0 2006.0,854.0 2008.0,854.0 2010.0,858.0 2012.0,857.0 2014.0,856.0 2016.0,855.0 2018.0,856.7 2020.0,858.3 2022.0,860.0 2024.0,858.7 2026.0,857.3 2028.0,856.0 2030.0,855.7 2032.0,855.3 2034.0,855.0 2036.0,854.5 2038.0,854.0 2040.0,850.0 2042.0,846.0 2044.0,846.0 2046.0,846.0 2048.0,846.0 2050.0,845.0 2052.0,844.0 2054.0,843.0 2056.0,842.3 2058.0,841.7 2060.0,841.0 2062.0,839.3 2064.0,837.7 2066.0,836.0 2068.0,835.3 2070.0,834.7 2072.0,834.0 2074.0,833.3 2076.0,832.7 2078.0,832.0 2080.0,831.2 2082.0,830.4 2084.0,829.2 2086.0,827.6 2088.0,826.0 2090.0,823.0 2092.0,820.0 2094.0,819.0 2096.0,818.0 2098.0,817.0 2100.0,815.7 2102.0,814.3 2104.0,813.0 2106.0,811.7 2108.0,810.3 2110.0,809.0 2112.0,807.8 2114.0,806.6 2116.0,804.3 2118.0,800.9 2120.0,798.4 2122.0,795.7 2124.0,792.9 2126.0,790.1 2128.0,787.4 2130.0,784.8 2132.0,782.1 2134.0,779.5 2136.0,776.9 2138.0,774.3 2140.0,771.7 2142.0,769.1 2144.0,766.5 2146.0,763.9 2148.0,761.3 2150.0,758.7 2152.0,756.0 2154.0,753.3 2156.0,750.7 2158.0,748.0 2160.0,745.3 2162.0,742.5 2164.0,739.6 2166.0,736.7 2168.0,733.6 2170.0,730.6 2172.0,727.4 2174.0,724.3 2176.0,721.1 2178.0,718.0 2180.0,714.9 2182.0,711.7 2184.0,708.6 2186.0,705.4 2188.0,702.3 2190.0,699.3 2192.0,696.2 2194.0,693.3 2196.0,690.3 2198.0,687.4 2200.0,684.6 2202.0,681.7 2204.0,678.9 2206.0,676.1 2208.0,673.3 2210.0,670.5 2212.0,667.8 2214.0,665.0 2216.0,662.2 2218.0,659.5 2220.0,656.8 2222.0,654.2 2224.0,651.5 2226.0,648.9 2228.0,646.3 2230.0,643.7 2232.0,641.2 2234.0,638.8 2236.0,636.5 2238.0,634.2 2240.0,632.1 2242.0,630.0 2244.0,628.0 2246.0,626.0 2248.0,624.0 2250.0,622.0 2252.0,620.0 2254.0,618.0 2256.0,616.1 2258.0,614.2 2260.0,612.4 2262.0,610.5 2264.0,608.7 2266.0,607.0 2268.0,605.2 2270.0,603.5 2272.0,601.8 2274.0,600.1 2276.0,598.5 2278.0,596.9 2280.0,595.2 2282.0,593.7 2284.0,592.1 2286.0,590.5 2288.0,588.9 2290.0,587.3 2292.0,585.8 2294.0,584.2 2296.0,582.7 2298.0,581.2 2300.0,579.8 2302.0,578.4 2304.0,577.1 2306.0,575.8 2308.0,574.5 2310.0,573.2 2312.0,571.9 2314.0,570.6 2316.0,569.3 2318.0,568.1 2320.0,566.8 2322.0,565.6 2324.0,564.4 2326.0,563.2 2328.0,562.0 2330.0,560.8 2332.0,559.6 2334.0,558.4 2336.0,557.3 2338.0,556.3 2340.0,555.2 2342.0,554.2 2344.0,553.3 2346.0,552.4 2348.0,551.5 2350.0,550.6 2352.0,549.7 2354.0,548.8 2356.0,548.0 2358.0,547.2 2360.0,546.4 2362.0,545.6 2364.0,544.9 2366.0,544.2 2368.0,543.5 2370.0,542.8 2372.0,542.1 2374.0,541.4 2376.0,540.6 2378.0,539.9 2380.0,539.1 2382.0,538.3 2384.0,537.4 2386.0,536.6 2388.0,535.8 2390.0,535.1 2392.0,534.4 2394.0,533.8 2396.0,533.3 2398.0,532.9 2400.0,532.5 2402.0,532.1 2404.0,531.7 2406.0,531.4 2408.0,531.0 2410.0,530.6 2412.0,530.2 2414.0,529.8 2416.0,529.4 2418.0,529.0 2420.0,528.6 2422.0,528.2 2424.0,527.8 2426.0,527.4 2428.0,527.0 2430.0,526.6 2432.0,526.2 2434.0,525.8 2436.0,525.4 2438.0,525.0 2440.0,524.6 2442.0,524.2 2444.0,523.8 2446.0,523.4 2448.0,523.0 2450.0,522.6 2452.0,522.2 2454.0,521.8 2456.0,521.4 2458.0,521.1 2460.0,520.7 2462.0,520.3 2464.0,519.9 2466.0,519.7 2468.0,519.4 2468.8,519.4 2468.8,1152.0Z" fill="url(#g3c)"/>
<path d="M1870.0,1152.0 1870.0,864.0 1872.0,863.0 1874.0,862.0 1876.0,864.0 1878.0,866.0 1880.0,868.0 1882.0,867.3 1884.0,866.7 1886.0,866.0 1888.0,865.0 1890.0,864.0 1892.0,863.0 1894.0,863.2 1896.0,863.5 1898.0,863.8 1900.0,864.0 1902.0,863.6 1904.0,863.2 1906.0,858.5 1908.0,856.7 1910.0,862.0 1912.0,864.0 1914.0,866.0 1916.0,868.0 1918.0,868.0 1920.0,868.0 1922.0,868.0 1924.0,867.5 1926.0,867.0 1928.0,866.5 1930.0,866.0 1932.0,865.0 1934.0,864.0 1936.0,863.0 1938.0,865.7 1940.0,868.3 1942.0,871.0 1944.0,871.0 1946.0,871.0 1948.0,871.0 1950.0,870.7 1952.0,870.3 1954.0,870.0 1956.0,861.0 1958.0,865.7 1960.0,867.0 1962.0,865.0 1964.0,863.0 1966.0,862.7 1968.0,862.3 1970.0,862.0 1972.0,862.7 1974.0,863.3 1976.0,864.0 1978.0,862.5 1980.0,861.0 1982.0,859.3 1984.0,857.7 1986.0,856.0 1988.0,854.0 1990.0,852.0 1992.0,850.8 1994.0,849.6 1996.0,850.7 1998.0,854.0 2000.0,855.3 2002.0,856.7 2004.0,858.0 2006.0,854.0 2008.0,854.0 2010.0,858.0 2012.0,857.0 2014.0,856.0 2016.0,855.0 2018.0,856.7 2020.0,858.3 2022.0,860.0 2024.0,858.7 2026.0,857.3 2028.0,856.0 2030.0,855.7 2032.0,855.3 2034.0,855.0 2036.0,854.5 2038.0,854.0 2040.0,850.0 2042.0,846.0 2044.0,846.0 2046.0,846.0 2048.0,846.0 2050.0,845.0 2052.0,844.0 2054.0,843.0 2056.0,842.3 2058.0,841.7 2060.0,841.0 2062.0,839.3 2064.0,837.7 2066.0,836.0 2068.0,835.3 2070.0,834.7 2072.0,834.0 2074.0,833.3 2076.0,832.7 2078.0,832.0 2080.0,831.2 2082.0,830.4 2084.0,829.2 2086.0,827.6 2088.0,826.0 2090.0,823.0 2092.0,820.0 2094.0,819.0 2096.0,818.0 2098.0,817.0 2100.0,815.7 2102.0,814.3 2104.0,813.0 2106.0,811.7 2108.0,810.3 2110.0,809.0 2112.0,807.8 2114.0,806.6 2116.0,804.3 2118.0,802.3 2120.0,800.7 2122.0,799.1 2124.0,797.7 2126.0,796.6 2128.0,795.5 2130.0,794.4 2132.0,793.3 2134.0,792.2 2136.0,791.1 2138.0,789.9 2140.0,788.8 2142.0,787.6 2144.0,786.4 2146.0,785.2 2148.0,784.0 2150.0,782.8 2152.0,781.6 2154.0,780.5 2156.0,779.4 2158.0,778.3 2160.0,777.4 2162.0,776.5 2164.0,775.6 2166.0,774.8 2168.0,774.0 2170.0,773.2 2172.0,772.4 2174.0,771.6 2176.0,770.8 2178.0,770.0 2180.0,769.2 2182.0,768.4 2184.0,767.6 2186.0,766.9 2188.0,766.3 2190.0,765.6 2192.0,765.0 2194.0,764.5 2196.0,764.0 2198.0,763.5 2200.0,763.0 2202.0,762.5 2204.0,762.0 2206.0,761.6 2208.0,761.2 2210.0,760.8 2212.0,760.5 2214.0,760.2 2216.0,759.9 2218.0,759.7 2220.0,759.4 2222.0,759.1 2224.0,758.9 2226.0,758.6 2228.0,758.3 2230.0,758.1 2232.0,757.8 2234.0,757.5 2236.0,757.3 2238.0,757.0 2240.0,756.7 2242.0,756.4 2244.0,756.1 2246.0,755.8 2248.0,755.5 2250.0,755.2 2252.0,754.9 2254.0,754.6 2256.0,754.3 2258.0,754.0 2260.0,753.7 2262.0,753.5 2264.0,753.2 2266.0,752.9 2268.0,752.7 2270.0,752.4 2272.0,752.1 2274.0,751.9 2276.0,751.6 2278.0,751.3 2280.0,751.1 2282.0,750.8 2284.0,750.6 2286.0,750.3 2288.0,750.1 2290.0,750.0 2292.0,749.8 2294.0,749.7 2296.0,749.6 2298.0,749.5 2300.0,749.4 2302.0,749.3 2304.0,749.2 2306.0,749.1 2308.0,748.9 2310.0,748.8 2312.0,748.7 2314.0,748.5 2316.0,748.4 2318.0,748.2 2320.0,748.0 2322.0,747.9 2324.0,747.7 2326.0,747.6 2328.0,747.4 2330.0,747.2 2332.0,747.1 2334.0,746.9 2336.0,746.8 2338.0,746.6 2340.0,746.5 2342.0,746.4 2344.0,746.3 2346.0,746.2 2348.0,746.1 2350.0,746.0 2352.0,745.9 2354.0,745.7 2356.0,745.6 2358.0,745.5 2360.0,745.4 2362.0,745.3 2364.0,745.2 2366.0,745.1 2368.0,745.1 2370.0,745.0 2372.0,744.9 2374.0,744.9 2376.0,744.8 2378.0,744.8 2380.0,744.8 2382.0,744.7 2384.0,744.7 2386.0,744.6 2388.0,744.6 2390.0,744.6 2392.0,744.5 2394.0,744.5 2396.0,744.5 2398.0,744.5 2400.0,744.5 2402.0,744.6 2404.0,744.6 2406.0,744.7 2408.0,744.8 2410.0,744.9 2412.0,745.0 2414.0,745.0 2416.0,745.1 2418.0,745.2 2420.0,745.3 2422.0,745.4 2424.0,745.4 2426.0,745.5 2428.0,745.5 2430.0,745.6 2432.0,745.6 2434.0,745.7 2436.0,745.7 2438.0,745.7 2440.0,745.7 2442.0,745.7 2444.0,745.8 2446.0,745.8 2448.0,745.8 2450.0,745.8 2452.0,745.8 2454.0,745.9 2456.0,745.9 2458.0,745.9 2460.0,745.9 2462.0,745.9 2464.0,746.0 2466.0,746.0 2468.0,746.0 2468.8,746.0 2468.8,1152.0Z" fill="url(#g3b)"/>
<path d="M1870.0,1152.0 1870.0,864.0 1872.0,863.0 1874.0,862.0 1876.0,864.0 1878.0,866.0 1880.0,868.0 1882.0,867.3 1884.0,866.7 1886.0,866.0 1888.0,865.0 1890.0,864.0 1892.0,863.0 1894.0,863.2 1896.0,863.5 1898.0,863.8 1900.0,864.0 1902.0,863.6 1904.0,863.2 1906.0,858.5 1908.0,856.7 1910.0,862.0 1912.0,864.0 1914.0,866.0 1916.0,868.0 1918.0,868.0 1920.0,868.0 1922.0,868.0 1924.0,867.5 1926.0,867.0 1928.0,866.5 1930.0,866.0 1932.0,865.0 1934.0,864.0 1936.0,863.0 1938.0,865.7 1940.0,868.3 1942.0,871.0 1944.0,871.0 1946.0,871.0 1948.0,871.0 1950.0,870.7 1952.0,870.3 1954.0,870.0 1956.0,861.0 1958.0,865.7 1960.0,867.0 1962.0,865.0 1964.0,863.0 1966.0,862.7 1968.0,862.3 1970.0,862.0 1972.0,862.7 1974.0,863.3 1976.0,864.0 1978.0,862.5 1980.0,861.0 1982.0,859.3 1984.0,857.7 1986.0,856.0 1988.0,854.0 1990.0,852.0 1992.0,850.8 1994.0,849.6 1996.0,850.7 1998.0,854.0 2000.0,855.3 2002.0,856.7 2004.0,858.0 2006.0,854.0 2008.0,854.0 2010.0,858.0 2012.0,857.0 2014.0,856.0 2016.0,855.0 2018.0,856.7 2020.0,858.3 2022.0,860.0 2024.0,858.7 2026.0,857.3 2028.0,856.0 2030.0,855.7 2032.0,855.3 2034.0,855.0 2036.0,854.5 2038.0,854.0 2040.0,850.0 2042.0,846.0 2044.0,846.0 2046.0,846.0 2048.0,846.0 2050.0,845.0 2052.0,844.0 2054.0,843.0 2056.0,842.3 2058.0,841.7 2060.0,841.0 2062.0,839.3 2064.0,837.7 2066.0,836.0 2068.0,835.3 2070.0,834.7 2072.0,834.0 2074.0,833.3 2076.0,832.7 2078.0,832.0 2080.0,831.2 2082.0,830.4 2084.0,829.2 2086.0,827.6 2088.0,826.0 2090.0,823.0 2092.0,820.0 2094.0,819.0 2096.0,818.0 2098.0,817.0 2100.0,815.7 2102.0,814.3 2104.0,813.0 2106.0,811.7 2108.0,810.3 2110.0,809.0 2112.0,807.8 2114.0,806.6 2116.0,804.3 2118.0,801.0 2120.0,800.9 2122.0,800.8 2124.0,800.6 2126.0,800.5 2128.0,800.4 2130.0,800.3 2132.0,800.1 2134.0,800.0 2136.0,799.9 2138.0,799.8 2140.0,799.6 2142.0,799.5 2144.0,799.4 2146.0,799.3 2148.0,799.1 2150.0,799.0 2152.0,798.9 2154.0,798.8 2156.0,798.6 2158.0,798.5 2160.0,798.4 2162.0,798.3 2164.0,798.1 2166.0,798.0 2168.0,798.1 2170.0,798.3 2172.0,798.4 2174.0,798.6 2176.0,798.7 2178.0,798.9 2180.0,799.0 2182.0,799.1 2184.0,799.3 2186.0,799.4 2188.0,799.6 2190.0,799.7 2192.0,799.9 2194.0,800.0 2196.0,800.4 2198.0,800.8 2200.0,801.2 2202.0,801.7 2204.0,802.1 2206.0,802.5 2208.0,802.9 2210.0,803.3 2212.0,803.8 2214.0,804.2 2216.0,804.6 2218.0,805.0 2220.0,805.2 2222.0,805.4 2224.0,805.6 2226.0,805.9 2228.0,806.1 2230.0,806.3 2232.0,806.5 2234.0,806.7 2236.0,806.9 2238.0,807.1 2240.0,807.4 2242.0,807.6 2244.0,807.8 2246.0,808.0 2248.0,808.2 2250.0,808.4 2252.0,808.5 2254.0,808.7 2256.0,808.9 2258.0,809.1 2260.0,809.3 2262.0,809.5 2264.0,809.6 2266.0,809.8 2268.0,810.0 2270.0,810.0 2272.0,810.1 2274.0,810.1 2276.0,810.2 2278.0,810.2 2280.0,810.2 2282.0,810.3 2284.0,810.3 2286.0,810.4 2288.0,810.4 2290.0,810.4 2292.0,810.5 2294.0,810.5 2296.0,810.6 2298.0,810.6 2300.0,810.6 2302.0,810.6 2304.0,810.6 2306.0,810.7 2308.0,810.7 2310.0,810.7 2312.0,810.7 2314.0,810.7 2316.0,810.7 2318.0,810.8 2320.0,810.8 2322.0,810.8 2324.0,810.8 2326.0,810.8 2328.0,810.8 2330.0,810.9 2332.0,810.9 2334.0,810.9 2336.0,810.9 2338.0,810.9 2340.0,810.9 2342.0,811.0 2344.0,811.0 2346.0,811.0 2348.0,811.0 2350.0,811.0 2352.0,811.0 2354.0,811.0 2356.0,811.1 2358.0,811.1 2360.0,811.1 2362.0,811.1 2364.0,811.1 2366.0,811.1 2368.0,811.1 2370.0,811.1 2372.0,811.2 2374.0,811.2 2376.0,811.2 2378.0,811.2 2380.0,811.2 2382.0,811.2 2384.0,811.2 2386.0,811.3 2388.0,811.3 2390.0,811.3 2392.0,811.3 2394.0,811.3 2396.0,811.3 2398.0,811.3 2400.0,811.3 2402.0,811.4 2404.0,811.4 2406.0,811.4 2408.0,811.4 2410.0,811.4 2412.0,811.4 2414.0,811.4 2416.0,811.4 2418.0,811.4 2420.0,811.4 2422.0,811.4 2424.0,811.4 2426.0,811.4 2428.0,811.4 2430.0,811.4 2432.0,811.4 2434.0,811.4 2436.0,811.4 2438.0,811.4 2440.0,811.4 2442.0,811.4 2444.0,811.4 2446.0,811.4 2448.0,811.4 2450.0,811.4 2452.0,811.4 2454.0,811.4 2456.0,811.4 2458.0,811.4 2460.0,811.4 2462.0,811.4 2464.0,811.4 2466.0,811.4 2468.0,811.4 2468.8,811.4 2468.8,1152.0Z" fill="url(#g3a)"/>
<g stroke="#111" stroke-width="4.6" stroke-linecap="round" stroke-dasharray="0 17.2" fill="none">
<path d="M177.6,517.8 H937"/>
<path d="M1039.4,517.8 H1780"/>
<path d="M1872,517.8 H2475"/>
<path d="M177.6,745.8 H937"/>
<path d="M1039.4,745.8 H1780"/>
<path d="M1872,745.8 H2475"/>
<path d="M177.6,811.4 H937"/>
<path d="M1039.4,811.4 H1780"/>
<path d="M1872,811.4 H2475"/>
</g>
<path d="M196.5,513.8 198.0,510.0 199.5,506.2 201.0,499.7 202.5,491.7 204.0,461.7 205.5,420.7 207.0,426.3 208.5,455.3 210.0,453.7 211.5,436.7 213.0,430.7 214.5,430.2 216.0,429.7 217.5,429.2 219.0,429.4 220.5,430.0 222.0,430.6 223.5,431.2 225.0,431.8 226.5,432.4 228.0,433.0 229.5,424.0 231.0,418.6 232.5,415.0 234.0,411.4 235.5,411.7 237.0,419.7 238.5,422.2 240.0,413.9 241.5,405.6 243.0,417.8 244.5,427.6 246.0,429.5 247.5,431.4 249.0,443.5 250.5,451.3 252.0,440.3 253.5,438.3 255.0,454.3 256.5,460.4 258.0,446.6 259.5,432.8 261.0,419.0 262.5,452.0 264.0,485.0 265.5,486.5 267.0,488.0 268.5,492.0 270.0,501.0 271.5,494.8 273.0,488.7 274.5,482.5 276.0,479.5 277.5,485.3 279.0,491.0 280.5,479.9 282.0,468.8 283.5,457.7 285.0,467.7 286.5,488.2 288.0,483.8 289.5,467.0 291.0,450.2 292.5,437.8 294.0,434.0 295.5,430.2 297.0,428.6 298.5,428.0 300.0,427.4 301.5,428.3 303.0,432.3 304.5,433.6 306.0,429.6 307.5,425.5 309.0,421.4 310.5,417.4 312.0,419.0 313.5,423.5 315.0,418.0 316.5,407.5 318.0,403.0 319.5,401.5 321.0,385.0 322.5,305.3 324.0,375.7 325.5,375.7 327.0,373.9 328.5,372.1 330.0,379.8 331.5,388.2 333.0,380.0 334.5,363.5 336.0,347.0 337.5,343.4 339.0,339.8 340.5,336.2 342.0,331.4 343.5,326.0 345.0,320.6 346.5,319.3 348.0,326.3 349.5,329.8 351.0,326.0 352.5,322.2 354.0,318.5 355.5,315.1 357.0,316.7 358.5,318.4 360.0,320.0 361.5,325.5 363.0,331.0 364.5,325.1 366.0,319.2 367.5,313.3 369.0,307.4 370.5,308.7 372.0,314.9 373.5,317.8 375.0,314.3 376.5,307.6 378.0,277.7 379.5,300.8 381.0,300.0 382.5,305.6 384.0,311.2 385.5,312.7 387.0,305.8 388.5,308.3 390.0,317.1 391.5,322.1 393.0,319.5 394.5,314.3 396.0,295.0 397.5,325.0 399.0,329.5 400.5,336.2 402.0,343.0 403.5,359.5 405.0,365.0 406.5,365.0 408.0,365.0 409.5,365.0 411.0,365.0 412.5,380.0 414.0,384.8 415.5,384.5 417.0,384.2 418.5,388.2 420.0,401.0 421.5,404.8 423.0,408.5 424.5,419.0 426.0,443.0 427.5,444.0 429.0,445.0 430.5,463.0 432.0,464.0 433.5,456.5 435.0,449.0 436.5,467.0 438.0,485.0 439.5,485.8 441.0,486.5 442.5,490.3 444.0,500.3 445.5,505.8 447.0,502.2 448.5,498.6 450.0,495.0 451.5,489.8 453.0,484.5 454.5,476.5 456.0,463.0 457.5,449.5 459.0,441.0 460.5,429.5 462.0,426.9 463.5,447.0 465.0,452.2 466.5,457.0 468.0,461.8 469.5,470.0 471.0,485.0 472.5,496.0 474.0,499.0 475.5,502.0 477.0,502.2 478.5,501.0 480.0,499.8 481.5,499.5 483.0,501.0 484.5,502.5 486.0,515.0 487.5,509.0 489.0,512.3 490.5,520.3 492.0,509.9 493.5,490.3 495.0,442.0 496.5,430.5 498.0,465.0 499.5,482.5 501.0,499.0 502.5,523.0 504.0,537.7 505.5,547.7 507.0,548.7 508.5,545.2 510.0,553.0 511.5,566.5 513.0,568.6 514.5,565.0 516.0,561.4 517.5,561.7 519.0,569.7 520.5,574.2 522.0,572.0 523.5,569.8 525.0,564.5 526.5,557.8 528.0,551.0 529.5,519.5 531.0,483.4 532.5,491.1 534.0,513.0 535.5,517.5 537.0,522.0 538.5,534.0 540.0,561.0 541.5,563.0 543.0,565.0 544.5,561.7 546.0,539.0 547.5,581.7 549.0,593.0 550.5,605.0 552.0,617.0 553.5,604.0 555.0,591.1 556.5,579.5 558.0,587.6 559.5,592.7 561.0,591.8 562.5,591.7 564.0,602.1 565.5,623.0 567.0,665.0 568.5,667.0 570.0,669.0 571.5,713.2 573.0,708.0 574.5,702.8 576.0,702.0 577.5,703.5 579.0,705.0 580.5,699.5 582.0,694.0 583.5,688.5 585.0,683.0 586.5,684.2 588.0,685.4 589.5,686.6 591.0,686.5 592.5,685.8 594.0,685.0 595.5,684.2 597.0,687.0 598.5,691.5 600.0,689.8 601.5,684.9 603.0,680.0 604.5,692.5 606.0,705.0 607.5,698.0 609.0,691.0 610.5,684.0 612.0,677.0 613.5,675.3 615.0,673.7 616.5,666.6 618.0,684.2 619.5,707.3 621.0,710.8 622.5,707.6 624.0,704.3 625.5,701.1 627.0,699.8 628.5,699.6 630.0,699.3 631.5,699.1 633.0,702.5 634.5,707.8 636.0,713.0 637.5,704.8 639.0,696.5 640.5,694.8 642.0,706.0 643.5,717.2 645.0,720.0 646.5,718.5 648.0,717.0 649.5,713.8 651.0,710.6 652.5,707.4 654.0,705.7 655.5,708.5 657.0,711.2 658.5,711.5 660.0,707.0 661.5,702.5 663.0,700.8 664.5,700.4 666.0,700.0 667.5,699.6 669.0,699.2 670.5,697.6 672.0,693.4 673.5,689.2 675.0,685.0 676.5,682.5 678.0,680.0 679.5,673.2 681.0,681.9 682.5,691.6 684.0,694.6 685.5,697.0 687.0,699.4 688.5,699.2 690.0,693.7 691.5,692.4 693.0,699.5 694.5,706.6 696.0,700.3 697.5,687.3 699.0,682.9 700.5,682.8 702.0,682.6 703.5,682.5 705.0,682.3 706.5,682.1 708.0,682.0 709.5,684.8 711.0,687.5 712.5,690.2 714.0,693.0 715.5,689.6 717.0,686.2 718.5,683.3 720.0,681.3 721.5,679.3 723.0,677.3 724.5,677.9 726.0,683.7 727.5,689.4 729.0,695.2 730.5,697.8 732.0,694.0 733.5,690.2 735.0,686.5 736.5,687.2 738.0,696.7 739.5,699.8 741.0,690.0 742.5,680.2 744.0,676.8 745.5,676.6 747.0,676.3 748.5,676.1 750.0,671.6 751.5,665.0 753.0,660.8 754.5,660.4 756.0,660.0 757.5,654.4 759.0,648.8 760.5,644.5 762.0,643.0 763.5,641.5 765.0,638.7 766.5,635.2 768.0,634.6 769.5,635.5 771.0,636.4 772.5,639.7 774.0,647.7 775.5,652.4 777.0,650.7 778.5,653.1 780.0,658.2 781.5,663.3 783.0,669.4 784.5,676.0 786.0,682.6 787.5,685.9 789.0,682.6 790.5,679.2 792.0,698.8 793.5,715.0 795.0,721.0 796.5,726.7 798.0,731.7 799.5,740.3 801.0,756.3 802.5,766.5 804.0,765.0 805.5,763.5 807.0,762.0 808.5,760.5 810.0,761.2 811.5,763.0 813.0,764.8 814.5,765.6 816.0,764.3 817.5,763.1 819.0,761.8 820.5,759.6 822.0,755.4 823.5,751.3 825.0,747.1 826.5,751.8 828.0,759.7 829.5,765.4 831.0,766.7 832.5,768.0 834.0,769.3 835.5,770.6 837.0,768.3 838.5,764.3 840.0,774.5 841.5,781.6 843.0,780.3 844.5,779.1 846.0,782.8 847.5,786.9 849.0,791.0 850.5,791.4 852.0,791.9 853.5,792.3 855.0,792.7 856.5,792.0 858.0,789.0 859.5,786.0 861.0,783.8 862.5,781.9 864.0,780.0 865.5,778.1 867.0,782.1 868.5,786.6 870.0,791.0 871.5,794.8 873.0,798.5 874.5,800.0 876.0,797.0 877.5,794.0 879.0,791.0 880.5,788.5 882.0,787.0 883.5,785.5 885.0,784.0 886.5,786.6 888.0,789.2 889.5,790.4 891.0,788.5 892.5,786.6 894.0,784.7 895.5,782.8 897.0,780.8 898.5,779.2 900.0,783.0 901.5,786.8 903.0,788.2 904.5,788.6 906.0,789.0 907.5,805.5 909.0,814.5 910.5,819.8 912.0,825.0 913.5,829.0 915.0,833.0 916.5,837.0 918.0,841.0 919.5,841.0 921.0,841.0 922.5,845.5 924.0,859.0 925.5,857.8 927.0,856.6 928.5,855.4 930.0,861.7 931.5,871.7 933.0,875.8 934.5,876.9 936.0,878.0 937.5,898.2 937.5,1033.0 936.0,1017.0 934.5,1000.7 933.0,999.7 931.5,997.0 930.0,991.0 928.5,985.0 927.0,985.4 925.5,989.0 924.0,992.6 922.5,994.3 921.0,992.3 919.5,989.1 918.0,991.9 916.5,997.5 915.0,963.0 913.5,940.0 912.0,917.0 910.5,918.9 909.0,949.0 907.5,905.0 906.0,875.0 904.5,882.5 903.0,902.0 901.5,917.0 900.0,894.4 898.5,882.8 897.0,879.0 895.5,879.0 894.0,879.0 892.5,886.5 891.0,939.0 889.5,890.0 888.0,875.0 886.5,860.0 885.0,845.0 883.5,838.7 882.0,849.7 880.5,851.5 879.0,835.0 877.5,831.7 876.0,827.7 874.5,823.7 873.0,819.7 871.5,816.4 870.0,814.7 868.5,812.9 867.0,811.2 865.5,810.7 864.0,812.8 862.5,814.8 861.0,816.9 859.5,818.9 858.0,821.0 856.5,822.7 855.0,824.4 853.5,826.1 852.0,827.8 850.5,829.4 849.0,829.0 847.5,827.5 846.0,826.0 844.5,824.0 843.0,821.0 841.5,818.0 840.0,815.0 838.5,813.5 837.0,812.0 835.5,810.5 834.0,809.0 832.5,807.5 831.0,804.6 829.5,801.0 828.0,797.4 826.5,795.8 825.0,798.2 823.5,800.6 822.0,803.0 820.5,802.0 819.0,801.0 817.5,800.0 816.0,799.0 814.5,797.5 813.0,796.0 811.5,794.5 810.0,793.0 808.5,794.5 807.0,796.0 805.5,797.5 804.0,799.0 802.5,800.5 801.0,798.3 799.5,794.3 798.0,788.3 796.5,781.3 795.0,778.2 793.5,777.0 792.0,775.8 790.5,771.8 789.0,762.2 787.5,752.6 786.0,743.0 784.5,741.0 783.0,739.0 781.5,737.0 780.0,735.0 778.5,729.0 777.0,723.0 775.5,726.0 774.0,729.0 772.5,732.0 771.0,732.2 769.5,731.0 768.0,729.8 766.5,724.7 765.0,711.7 763.5,704.0 762.0,707.0 760.5,710.0 759.0,717.0 757.5,726.0 756.0,735.0 754.5,735.0 753.0,735.0 751.5,735.0 750.0,735.0 748.5,735.0 747.0,737.0 745.5,740.0 744.0,743.0 742.5,745.6 741.0,747.4 739.5,749.2 738.0,751.0 736.5,753.5 735.0,756.0 733.5,758.5 732.0,761.0 730.5,770.5 729.0,780.0 727.5,776.7 726.0,773.4 724.5,770.1 723.0,758.5 721.5,742.8 720.0,727.0 718.5,732.2 717.0,737.5 715.5,741.2 714.0,742.0 712.5,742.8 711.0,743.5 709.5,744.2 708.0,745.0 706.5,739.0 705.0,733.0 703.5,731.5 702.0,739.0 700.5,746.5 699.0,749.2 697.5,749.6 696.0,750.0 694.5,750.4 693.0,750.8 691.5,752.5 690.0,757.0 688.5,761.5 687.0,751.7 685.5,734.7 684.0,727.5 682.5,725.2 681.0,723.0 679.5,715.0 678.0,707.0 676.5,714.5 675.0,722.0 673.5,727.8 672.0,730.2 670.5,732.6 669.0,735.0 667.5,733.5 666.0,732.0 664.5,732.7 663.0,737.7 661.5,741.2 660.0,741.7 658.5,742.2 657.0,742.7 655.5,744.8 654.0,750.0 652.5,755.2 651.0,756.5 649.5,755.8 648.0,755.0 646.5,758.4 645.0,761.8 643.5,764.7 642.0,760.6 640.5,756.4 639.0,758.2 637.5,763.1 636.0,768.0 634.5,759.5 633.0,751.0 631.5,750.4 630.0,749.8 628.5,749.2 627.0,748.3 625.5,747.3 624.0,746.3 622.5,745.3 621.0,746.7 619.5,749.2 618.0,751.7 616.5,754.2 615.0,751.5 613.5,746.2 612.0,741.0 610.5,742.2 609.0,743.5 607.5,744.8 606.0,746.0 604.5,745.2 603.0,744.5 601.5,743.8 600.0,743.0 598.5,740.4 597.0,737.8 595.5,735.1 594.0,732.5 592.5,729.9 591.0,728.0 589.5,726.5 588.0,725.0 586.5,727.2 585.0,729.5 583.5,733.2 582.0,740.0 580.5,746.8 579.0,749.0 577.5,749.0 576.0,749.0 574.5,749.0 573.0,749.0 571.5,749.0 570.0,749.0 568.5,736.9 567.0,695.0 565.5,672.0 564.0,663.0 562.5,654.0 561.0,652.6 559.5,655.0 558.0,657.4 556.5,658.0 555.0,655.0 553.5,652.0 552.0,649.0 550.5,646.0 549.0,643.7 547.5,641.7 546.0,639.7 544.5,637.7 543.0,637.3 541.5,637.7 540.0,638.1 538.5,638.6 537.0,639.0 535.5,622.0 534.0,605.0 532.5,605.0 531.0,605.0 529.5,607.0 528.0,613.0 526.5,619.0 525.0,623.4 523.5,627.0 522.0,630.6 520.5,630.2 519.0,622.0 517.5,613.8 516.0,610.5 514.5,609.8 513.0,609.0 511.5,605.4 510.0,601.8 508.5,598.2 507.0,592.3 505.5,585.3 504.0,578.3 502.5,571.3 501.0,568.3 499.5,567.3 498.0,566.3 496.5,565.3 495.0,570.5 493.5,578.8 492.0,587.0 490.5,583.5 489.0,580.0 487.5,576.5 486.0,573.0 484.5,564.8 483.0,556.5 481.5,551.0 480.0,551.0 478.5,551.0 477.0,551.0 475.5,549.5 474.0,545.0 472.5,540.5 471.0,536.0 469.5,533.0 468.0,533.0 466.5,533.0 465.0,533.0 463.5,535.7 462.0,543.7 460.5,544.0 459.0,529.0 457.5,529.6 456.0,530.2 454.5,530.8 453.0,539.0 451.5,551.0 450.0,553.9 448.5,552.1 447.0,550.4 445.5,548.7 444.0,547.0 442.5,543.4 441.0,539.8 439.5,536.2 438.0,531.0 436.5,525.0 435.0,522.5 433.5,521.8 432.0,521.0 430.5,520.2 429.0,517.5 427.5,512.5 426.0,505.0 424.5,493.0 423.0,481.0 421.5,468.0 420.0,455.0 418.5,450.5 417.0,446.0 415.5,442.5 414.0,441.0 412.5,439.5 411.0,438.0 409.5,437.8 408.0,440.0 406.5,442.2 405.0,438.0 403.5,430.5 402.0,423.0 400.5,418.8 399.0,414.6 397.5,410.4 396.0,401.7 394.5,390.7 393.0,393.3 391.5,402.8 390.0,385.0 388.5,388.0 387.0,391.0 385.5,393.3 384.0,394.2 382.5,395.2 381.0,396.1 379.5,397.1 378.0,398.0 376.5,397.8 375.0,397.6 373.5,397.4 372.0,397.1 370.5,394.8 369.0,388.0 367.5,381.2 366.0,394.3 364.5,417.3 363.0,421.7 361.5,416.7 360.0,404.3 358.5,388.3 357.0,384.0 355.5,385.5 354.0,387.0 352.5,392.2 351.0,397.5 349.5,401.8 348.0,404.2 346.5,406.6 345.0,409.0 343.5,409.6 342.0,410.2 340.5,410.8 339.0,418.0 337.5,428.5 336.0,439.0 334.5,440.5 333.0,442.0 331.5,440.5 330.0,433.0 328.5,425.5 327.0,423.0 325.5,423.0 324.0,423.0 322.5,435.0 321.0,447.0 319.5,459.0 318.0,471.0 316.5,477.6 315.0,473.4 313.5,469.2 312.0,465.0 310.5,478.0 309.0,491.0 307.5,487.0 306.0,483.0 304.5,484.5 303.0,486.0 301.5,487.5 300.0,489.0 298.5,501.5 297.0,539.0 295.5,540.2 294.0,541.4 292.5,542.6 291.0,544.2 289.5,546.0 288.0,547.8 286.5,548.4 285.0,546.6 283.5,544.8 282.0,543.0 280.5,540.0 279.0,537.0 277.5,535.1 276.0,535.5 274.5,535.9 273.0,536.2 271.5,536.6 270.0,537.0 268.5,534.5 267.0,532.0 265.5,529.5 264.0,527.0 262.5,521.0 261.0,515.0 259.5,511.3 258.0,512.3 256.5,513.3 255.0,514.3 253.5,517.0 252.0,523.0 250.5,529.0 249.0,527.4 247.5,522.0 246.0,516.6 244.5,511.0 243.0,505.0 241.5,485.5 240.0,482.3 238.5,487.3 237.0,488.2 235.5,487.1 234.0,486.0 232.5,484.9 231.0,483.8 229.5,482.8 228.0,482.0 226.5,481.2 225.0,473.0 223.5,461.0 222.0,456.1 220.5,454.9 219.0,453.6 217.5,452.3 216.0,451.0 214.5,453.0 213.0,455.0 211.5,476.0 210.0,487.0 208.5,493.5 207.0,500.0 205.5,506.5 204.0,513.0 202.5,526.5 201.0,543.0 199.5,552.3 198.0,544.3 196.5,539.0Z" fill="#000" stroke="#000" stroke-width="1.5" stroke-linejoin="round"/>
<path d="M197.0,504.2 199.2,549.5 201.4,492.6 203.6,523.8 205.8,407.0 208.0,500.0 210.2,441.1 212.4,467.7 214.6,430.9 216.8,460.4 219.0,427.7 221.2,455.3 223.4,431.4 225.6,486.6 227.8,424.4 230.0,489.1 232.2,405.5 234.4,486.2 236.6,410.8 238.8,486.7 241.0,406.9 243.2,514.1 245.4,422.4 247.6,524.7 249.8,443.5 252.0,522.5 254.2,443.9 256.4,519.1 258.6,431.2 260.8,518.5 263.0,457.3 265.2,537.7 267.4,486.5 269.6,542.1 271.8,489.7 274.0,545.9 276.2,481.6 278.4,538.4 280.6,471.5 282.8,552.0 285.0,457.9 287.2,551.6 289.4,458.5 291.6,545.8 293.8,424.8 296.0,541.8 298.2,427.1 300.4,498.0 302.6,430.3 304.8,489.4 307.0,423.7 309.2,492.1 311.4,408.7 313.6,473.2 315.8,410.7 318.0,470.3 320.2,387.5 322.4,443.5 324.6,369.9 326.8,429.9 329.0,372.6 331.2,448.7 333.4,369.9 335.6,442.2 337.8,341.9 340.0,418.7 342.2,328.0 344.4,417.5 346.6,317.0 348.8,412.9 351.0,319.5 353.2,397.2 355.4,315.9 357.6,385.9 359.8,316.6 362.0,421.2 364.2,321.3 366.4,387.6 368.6,298.7 370.8,403.7 373.0,313.9 375.2,403.6 377.4,275.2 379.6,400.5 381.8,296.9 384.0,394.8 386.2,308.5 388.4,396.7 390.6,319.0 392.8,403.6 395.0,298.3 397.2,416.4 399.4,323.1 401.6,429.6 403.8,356.3 406.0,446.8 408.2,358.3 410.4,442.7 412.6,378.4 414.8,447.2 417.0,377.5 419.2,453.7 421.4,404.1 423.6,487.9 425.8,434.6 428.0,514.6 430.2,452.5 432.4,520.7 434.6,444.6 436.8,533.2 439.0,486.7 441.2,546.3 443.4,489.1 445.6,555.2 447.8,497.3 450.0,562.3 452.2,483.2 454.4,540.3 456.6,452.1 458.8,531.0 461.0,417.7 463.2,546.8 465.4,451.7 467.6,537.4 469.8,468.5 472.0,545.3 474.2,494.3 476.4,556.1 478.6,502.1 480.8,560.7 483.0,500.6 485.2,568.6 487.4,505.6 489.6,584.3 491.8,513.0 494.0,578.3 496.2,424.3 498.4,568.0 500.6,489.1 502.8,582.8 505.0,541.0 507.2,603.0 509.4,543.6 511.6,606.9 513.8,564.7 516.0,615.3 518.2,561.0 520.4,629.8 522.6,562.3 524.8,633.5 527.0,556.5 529.2,618.3 531.4,466.9 533.6,604.1 535.8,514.5 538.0,646.0 540.2,558.5 542.4,636.6 544.6,553.7 546.8,647.7 549.0,583.2 551.2,656.1 553.4,606.3 555.6,657.7 557.8,576.7 560.0,664.5 562.2,589.8 564.4,669.4 566.6,649.0 568.8,753.6 571.0,708.8 573.2,748.1 575.4,698.3 577.6,751.3 579.8,699.7 582.0,749.9 584.2,679.8 586.4,728.9 588.6,676.0 590.8,736.3 593.0,675.9 595.2,744.5 597.4,686.2 599.6,751.7 601.8,683.2 604.0,745.8 606.2,695.7 608.4,754.0 610.6,676.5 612.8,751.8 615.0,665.2 617.2,755.1 619.4,703.7 621.6,747.1 623.8,703.3 626.0,756.7 628.2,693.0 630.4,752.0 632.6,690.9 634.8,764.8 637.0,697.8 639.2,763.0 641.4,699.3 643.6,770.3 645.8,715.9 648.0,760.7 650.2,712.6 652.4,760.5 654.6,706.7 656.8,745.5 659.0,701.2 661.2,742.4 663.4,699.7 665.6,732.9 667.8,698.3 670.0,742.7 672.2,688.9 674.4,725.2 676.6,679.3 678.8,714.3 681.0,682.3 683.2,727.5 685.4,689.2 687.6,762.8 689.8,689.8 692.0,751.8 694.2,699.2 696.4,756.4 698.6,678.1 700.8,744.2 703.0,677.0 705.2,737.3 707.4,676.9 709.6,743.0 711.8,681.8 714.0,751.9 716.2,688.1 718.4,742.4 720.6,679.1 722.8,760.1 725.0,680.6 727.2,778.1 729.4,693.3 731.6,769.1 733.8,684.3 736.0,755.8 738.2,691.4 740.4,754.3 742.6,672.5 744.8,744.1 747.0,670.1 749.2,737.4 751.4,664.9 753.6,740.0 755.8,649.8 758.0,730.4 760.2,640.3 762.4,714.0 764.6,635.0 766.8,729.5 769.0,634.8 771.2,732.9 773.4,637.3 775.6,730.1 777.8,650.5 780.0,734.9 782.2,659.4 784.4,745.8 786.6,682.9 788.8,760.7 791.0,683.2 793.2,781.9 795.4,718.3 797.6,789.5 799.8,736.8 802.0,810.2 804.2,766.2 806.4,797.2 808.6,752.4 810.8,800.3 813.0,763.5 815.2,806.6 817.4,756.3 819.6,802.4 821.8,746.4 824.0,802.8 826.2,746.5 828.4,807.3 830.6,756.3 832.8,807.4 835.0,767.5 837.2,818.8 839.4,761.0 841.6,817.9 843.8,769.5 846.0,832.3 848.2,781.7 850.4,830.9 852.6,789.5 854.8,824.6 857.0,786.9 859.2,818.9 861.4,773.5 863.6,819.8 865.8,777.6 868.0,816.4 870.2,785.8 872.4,825.0 874.6,790.2 876.8,831.6 879.0,791.4 881.2,865.4 883.4,775.6 885.6,849.5 887.8,787.6 890.0,898.9 892.2,785.6 894.4,885.2 896.6,776.2 898.8,892.2 901.0,782.3 903.2,895.7 905.4,783.9 907.6,916.1 909.8,816.2 912.0,923.4 914.2,827.8 916.4,1003.5 918.6,834.0 920.8,995.3 923.0,847.1 925.2,998.1 927.4,849.6 929.6,989.9 931.8,866.4 934.0,1004.1 936.2,871.4 938.4,1039.0" fill="none" stroke="#000" stroke-width="3.5" stroke-linejoin="round" stroke-linecap="round"/>
<path d="M206.0,402.0 V440.0 M261.0,414.0 V450.0 M284.0,449.0 V490.0 M322.0,252.5 V380.0 M377.6,265.0 V300.0 M395.6,280.0 V315.0 M461.4,411.0 V445.0 M496.0,414.0 V480.0 M531.6,463.0 V520.0 M546.0,534.0 V565.0 M617.0,658.0 V675.0 M680.0,665.0 V685.0" fill="none" stroke="#000" stroke-width="3.6" stroke-linecap="round"/>
<path d="M1037.0,1103.7 1037.7,1101.0 1037.4,1098.9 1038.0,1097.7 1038.4,1095.3 1038.5,1093.6 1038.7,1094.8 1039.4,1098.1 1039.9,1100.6 1040.0,1101.9 1039.8,1104.7 1039.8,1107.2 1040.8,1109.3 1040.5,1110.7 1040.4,1113.1 1040.6,1115.7 1041.1,1117.5 1041.4,1116.1 1041.6,1113.2 1041.4,1111.6 1041.2,1108.9 1041.8,1107.0 1041.9,1104.6 1041.9,1103.0 1042.0,1100.8 1041.9,1097.9 1041.5,1096.2 1041.4,1093.3 1041.6,1091.4 1042.5,1088.7 1042.4,1087.2 1042.4,1084.1 1042.6,1082.3 1042.6,1080.0 1042.8,1078.2 1042.1,1075.1 1043.0,1073.2 1042.5,1070.4 1042.9,1069.4 1043.2,1066.2 1043.3,1063.9 1042.8,1062.0 1043.1,1060.0 1043.2,1057.8 1043.8,1055.1 1043.0,1053.8 1043.3,1051.3 1044.1,1048.1 1044.1,1045.8 1043.9,1044.2 1044.2,1042.4 1043.6,1039.1 1044.4,1037.8 1044.0,1035.4 1044.1,1032.9 1045.2,1031.3 1045.0,1028.4 1045.4,1026.6 1044.4,1024.3 1045.2,1021.8 1045.1,1019.4 1045.1,1017.8 1045.7,1014.6 1045.8,1013.4 1045.9,1010.3 1045.5,1008.2 1046.3,1007.0 1046.1,1003.6 1045.6,1001.7 1045.7,999.7 1046.0,996.9 1046.0,995.0 1046.6,992.8 1046.6,990.6 1046.2,988.0 1046.5,986.0 1046.3,984.7 1047.0,981.7 1047.4,979.6 1046.8,977.4 1047.5,975.1 1047.1,973.9 1047.5,971.4 1048.1,968.5 1047.7,966.0 1048.3,964.9 1048.1,961.7 1048.6,959.3 1048.1,958.5 1048.1,956.0 1049.1,953.7 1048.4,951.9 1048.7,949.6 1048.6,947.4 1049.5,943.7 1049.5,941.8 1049.5,940.0 1049.2,938.3 1050.4,935.7 1049.9,933.6 1050.0,931.3 1050.3,928.3 1050.9,926.4 1050.2,923.7 1050.8,921.6 1051.2,919.3 1050.8,917.3 1052.2,916.3 1052.6,914.5 1052.3,912.0 1053.0,909.7 1053.2,907.6 1053.2,910.7 1054.3,911.7 1054.1,914.4 1055.0,917.0 1055.0,918.9 1055.5,922.1 1056.3,923.0 1056.0,925.3 1058.4,926.2 1058.1,927.9 1057.9,931.1 1059.2,933.4 1059.4,934.1 1059.6,936.4 1059.9,939.7 1060.0,942.0 1060.3,944.2 1060.5,945.2 1060.4,948.8 1060.9,949.7 1060.6,952.7 1060.5,954.7 1061.4,957.8 1061.4,959.9 1061.0,961.3 1061.1,963.1 1061.8,966.1 1061.7,968.2 1062.8,970.7 1062.8,972.8 1062.9,974.9 1063.7,976.3 1063.3,979.0 1064.6,981.4 1065.1,983.4 1064.8,986.6 1065.9,984.0 1067.4,981.7 1067.4,980.1 1068.8,977.6 1069.8,975.6 1071.0,973.5 1071.5,974.9 1072.4,978.1 1073.5,979.6 1072.7,982.0 1073.7,984.6 1074.0,986.7 1073.7,989.1 1074.4,991.3 1073.8,993.1 1074.5,995.3 1074.4,998.1 1074.4,1000.0 1074.6,1002.0 1076.0,1005.3 1075.5,1006.3 1076.3,1009.9 1075.8,1010.7 1075.7,1014.4 1075.9,1015.9 1076.3,1013.3 1076.3,1010.7 1076.6,1009.4 1077.0,1007.3 1077.3,1005.1 1077.2,1002.1 1078.3,1000.9 1078.1,998.8 1079.0,1000.6 1079.2,1001.4 1080.0,1004.7 1080.3,1006.0 1081.2,1003.7 1082.6,1002.6 1084.0,1004.9 1084.1,1006.6 1084.1,1008.5 1085.0,1010.4 1085.6,1013.2 1085.3,1016.1 1086.0,1018.7 1086.6,1020.6 1087.1,1022.7 1087.3,1023.6 1088.4,1022.4 1087.6,1020.0 1088.2,1016.8 1088.8,1016.1 1089.1,1013.5 1088.8,1010.2 1088.8,1009.2 1089.4,1007.2 1090.1,1005.0 1090.0,1001.7 1090.3,999.9 1090.7,997.7 1090.8,995.7 1090.8,993.9 1092.0,991.1 1091.9,988.9 1092.5,986.3 1092.2,983.6 1093.2,981.9 1094.2,980.0 1095.2,976.6 1096.1,980.0 1096.0,981.2 1096.7,984.0 1097.9,986.2 1097.4,988.5 1098.3,989.8 1098.2,992.2 1099.0,994.3 1098.5,995.3 1100.6,997.7 1101.1,999.6 1102.4,1003.1 1102.9,1004.0 1103.0,1006.8 1103.2,1009.3 1103.5,1011.3 1104.2,1013.8 1104.3,1015.5 1105.6,1017.9 1105.4,1019.9 1106.1,1021.5 1106.5,1020.5 1108.4,1017.5 1108.8,1019.6 1108.8,1022.8 1109.8,1024.6 1109.7,1026.0 1110.2,1028.8 1110.7,1030.9 1112.1,1033.3 1112.8,1034.3 1113.1,1037.4 1115.1,1036.2 1115.8,1035.5 1115.5,1032.9 1116.4,1030.3 1116.2,1029.1 1117.1,1025.7 1117.1,1024.0 1116.7,1022.3 1116.9,1019.9 1116.9,1017.2 1116.9,1016.1 1117.3,1013.8 1117.1,1011.8 1117.5,1008.5 1117.8,1006.3 1117.7,1004.5 1117.2,1002.8 1117.5,999.5 1117.7,998.1 1118.4,995.9 1118.2,994.1 1119.2,991.2 1118.9,987.9 1120.2,985.9 1119.7,983.6 1119.8,982.1 1120.5,980.4 1119.8,977.9 1120.3,974.9 1121.0,972.8 1120.2,970.4 1121.2,969.2 1121.0,967.1 1120.6,964.5 1121.5,961.6 1120.7,960.6 1121.8,957.2 1121.2,955.6 1121.6,953.6 1121.5,950.3 1122.2,949.0 1122.1,946.2 1121.8,945.0 1121.4,941.7 1121.7,939.2 1121.7,938.1 1123.0,936.1 1123.1,932.8 1123.2,931.8 1122.7,929.1 1123.2,927.5 1123.2,924.6 1123.9,923.5 1123.9,920.1 1124.7,918.2 1124.6,916.4 1124.9,914.3 1124.7,911.4 1125.1,915.1 1125.9,916.4 1125.6,918.2 1125.9,921.6 1126.7,924.4 1126.9,926.6 1127.6,923.3 1127.5,921.5 1129.0,920.0 1128.5,917.6 1129.0,920.1 1130.2,921.7 1130.5,923.7 1130.9,926.8 1130.8,927.3 1131.1,925.3 1132.1,924.7 1132.2,921.3 1132.8,919.8 1132.7,922.3 1132.8,925.1 1134.1,926.3 1133.3,928.5 1134.0,930.4 1133.6,932.7 1134.4,935.6 1134.5,937.2 1135.4,940.1 1135.5,942.8 1136.9,944.5 1136.8,941.2 1136.7,939.8 1137.2,937.1 1137.2,935.6 1136.9,932.8 1137.6,930.5 1137.8,928.7 1137.2,926.2 1137.3,924.0 1137.4,922.5 1138.2,920.3 1137.2,919.2 1137.9,916.4 1137.8,914.3 1138.2,912.2 1139.5,914.3 1139.5,916.3 1141.5,918.9 1140.7,921.8 1141.3,923.2 1140.8,925.3 1141.6,928.2 1142.1,930.4 1141.7,932.2 1141.3,934.0 1141.8,936.8 1142.0,938.5 1142.2,940.3 1142.6,942.7 1142.9,944.7 1142.5,946.9 1142.6,949.0 1142.5,951.1 1142.9,953.6 1142.5,956.8 1142.9,957.7 1142.9,959.8 1143.6,962.8 1143.1,964.6 1143.1,966.7 1143.8,968.7 1144.5,970.3 1143.6,973.1 1144.6,974.8 1144.2,977.4 1144.2,980.2 1144.6,982.4 1144.2,984.0 1145.3,986.5 1144.8,988.0 1145.9,985.5 1145.9,983.6 1146.5,981.4 1146.8,980.5 1147.1,982.5 1147.7,985.0 1147.5,986.4 1147.5,988.8 1148.0,990.7 1148.3,993.0 1148.8,994.9 1149.3,997.4 1148.8,1000.1 1150.0,1001.5 1150.2,1004.2 1150.3,1006.0 1151.4,1008.2 1152.5,1010.3 1152.9,1012.7 1152.5,1014.3 1153.0,1016.2 1153.0,1019.2 1153.5,1021.4 1153.4,1023.5 1154.2,1025.1 1154.4,1027.7 1154.6,1029.9 1156.0,1031.2 1155.5,1034.6 1156.2,1036.2 1157.6,1038.6 1157.3,1035.7 1158.5,1034.1 1158.6,1031.6 1158.6,1030.4 1159.8,1028.6 1159.9,1025.9 1161.5,1023.5 1161.6,1021.4 1162.5,1019.9 1164.6,1021.8 1164.9,1024.3 1166.0,1026.7 1166.7,1023.7 1167.9,1021.9 1169.5,1020.4 1170.2,1017.5 1169.9,1015.6 1170.7,1013.1 1170.9,1010.7 1172.3,1009.6 1173.2,1011.0 1173.3,1014.3 1174.7,1015.2 1174.7,1018.1 1174.7,1020.1 1175.5,1023.2 1175.2,1025.5 1176.0,1027.6 1176.4,1029.5 1176.0,1032.2 1177.4,1030.4 1177.2,1027.9 1177.7,1025.3 1177.3,1023.6 1178.3,1021.2 1178.0,1018.1 1178.5,1015.9 1178.4,1014.2 1180.9,1011.3 1182.5,1009.8 1182.3,1007.7 1182.8,1005.8 1182.1,1003.3 1182.7,1001.1 1182.9,998.4 1182.9,1000.1 1183.6,1002.0 1183.9,1005.0 1183.6,1007.3 1184.2,1009.4 1184.4,1010.6 1185.0,1014.1 1184.5,1015.3 1184.5,1018.5 1186.2,1020.5 1186.6,1021.8 1187.8,1024.3 1187.9,1026.2 1188.8,1028.3 1189.3,1029.4 1189.0,1031.2 1190.3,1034.2 1189.9,1035.4 1190.9,1038.1 1190.4,1039.4 1194.4,1040.1 1196.3,1042.8 1197.1,1040.5 1197.4,1038.2 1197.1,1036.4 1198.5,1034.5 1198.4,1032.5 1199.5,1029.9 1199.1,1027.5 1199.8,1025.0 1199.8,1023.9 1199.7,1020.9 1199.9,1018.6 1200.2,1015.6 1201.0,1014.6 1201.4,1012.3 1200.7,1009.3 1201.8,1006.7 1201.2,1005.3 1202.1,1002.1 1202.3,1000.5 1202.3,998.2 1202.4,995.4 1201.8,994.2 1201.9,991.1 1202.5,989.0 1203.2,986.8 1203.3,984.0 1203.0,982.8 1202.6,979.8 1203.5,977.2 1203.4,975.5 1204.1,973.5 1204.5,971.4 1203.8,969.0 1204.8,966.5 1204.7,964.1 1205.5,961.9 1205.5,960.5 1205.9,957.8 1205.6,956.3 1206.2,953.6 1207.1,951.8 1207.4,950.3 1207.4,947.8 1208.1,945.9 1207.9,944.0 1209.5,942.0 1208.8,939.3 1209.3,937.6 1210.3,934.8 1210.6,933.4 1210.7,930.3 1211.0,928.6 1211.3,925.8 1211.2,923.9 1212.0,922.9 1212.6,920.2 1212.2,918.2 1212.8,916.3 1214.4,913.7 1214.3,912.0 1214.9,910.5 1215.8,907.6 1216.2,906.2 1216.8,904.0 1216.9,900.9 1217.8,899.9 1218.5,896.5 1218.8,895.8 1219.7,898.0 1221.3,898.9 1221.5,902.5 1222.8,904.1 1223.3,906.0 1223.8,908.1 1223.6,909.2 1224.2,911.5 1224.6,914.0 1224.7,915.6 1226.3,917.3 1228.6,917.9 1228.6,920.6 1229.1,922.4 1228.9,924.2 1229.3,925.6 1230.2,928.1 1229.4,930.5 1230.8,932.2 1231.2,933.8 1231.1,936.5 1231.1,939.5 1231.6,941.8 1232.7,943.1 1232.4,946.4 1232.9,948.4 1232.9,945.4 1233.5,944.0 1234.3,942.2 1234.5,939.2 1234.3,938.4 1234.6,936.7 1235.6,938.6 1235.7,939.6 1236.1,942.3 1237.3,943.7 1238.0,942.3 1238.7,939.4 1239.0,938.3 1239.9,939.6 1239.7,942.2 1240.4,944.8 1240.4,945.5 1241.9,948.3 1241.9,949.9 1242.4,947.1 1243.2,945.6 1243.2,943.1 1242.7,940.6 1243.7,939.2 1244.4,935.9 1244.1,935.2 1244.3,931.8 1245.2,930.7 1245.0,928.2 1245.5,926.6 1246.0,924.0 1247.4,922.7 1248.2,920.7 1248.0,921.7 1248.9,923.6 1249.3,925.6 1250.6,928.1 1250.8,929.9 1250.4,932.0 1250.8,934.5 1251.3,936.3 1252.2,939.3 1252.2,941.2 1252.2,943.1 1253.2,945.5 1254.1,944.6 1255.9,941.6 1255.7,944.0 1256.1,946.8 1256.3,948.6 1257.2,949.3 1257.7,952.0 1257.9,953.4 1258.8,956.7 1258.1,957.8 1258.7,960.1 1259.7,963.1 1259.5,965.7 1260.0,966.5 1259.8,969.3 1260.6,971.1 1260.4,973.2 1260.7,975.3 1261.1,978.6 1262.5,980.3 1262.6,981.7 1262.4,984.7 1262.9,985.9 1264.0,987.3 1264.0,989.3 1264.4,992.7 1264.5,994.8 1265.1,996.9 1266.0,999.6 1266.2,1001.7 1266.4,1004.4 1267.3,1006.7 1268.1,1003.3 1269.4,1001.3 1268.9,1003.7 1269.5,1006.8 1270.4,1008.9 1270.4,1010.9 1270.4,1013.9 1271.1,1015.4 1271.5,1018.3 1271.8,1019.9 1272.7,1022.5 1274.6,1023.9 1274.9,1026.3 1275.6,1028.5 1276.1,1030.6 1276.2,1032.2 1276.6,1035.2 1276.3,1036.5 1277.5,1039.8 1277.7,1041.4 1277.5,1044.4 1278.2,1045.9 1278.6,1049.0 1279.2,1050.9 1279.3,1054.0 1279.4,1055.8 1280.3,1057.8 1280.4,1055.3 1281.1,1054.4 1281.1,1051.6 1282.5,1049.7 1282.6,1047.4 1282.4,1045.6 1283.7,1044.3 1283.5,1041.4 1284.6,1039.3 1284.7,1037.5 1284.8,1034.2 1285.1,1032.1 1285.9,1029.9 1286.3,1027.2 1286.8,1025.7 1286.4,1022.8 1287.5,1021.7 1287.5,1019.3 1287.9,1017.0 1287.7,1013.9 1288.9,1012.3 1288.6,1011.0 1289.3,1007.2 1289.5,1006.6 1290.1,1004.7 1289.8,1002.0 1290.9,1000.5 1290.8,998.4 1291.9,996.4 1292.0,994.2 1293.2,991.6 1294.1,989.6 1295.1,988.3 1296.2,985.5 1297.7,986.5 1299.7,987.2 1301.9,988.6 1304.4,990.2 1305.4,988.7 1306.0,986.7 1307.4,984.3 1307.9,981.9 1309.6,980.0 1311.2,982.1 1312.2,983.4 1311.8,981.9 1311.8,979.0 1312.5,978.0 1312.5,975.9 1312.4,972.8 1313.7,971.2 1313.3,969.2 1313.7,965.9 1314.1,964.7 1313.3,961.7 1314.6,959.5 1314.3,957.4 1314.3,956.0 1314.7,953.7 1315.7,950.5 1316.4,948.7 1316.4,945.8 1316.9,944.4 1317.9,942.7 1318.4,939.5 1319.4,938.4 1320.6,936.7 1320.6,938.3 1321.5,940.8 1321.3,941.4 1322.9,943.3 1323.2,945.4 1324.9,947.4 1326.1,950.1 1326.6,951.2 1327.3,954.4 1328.8,956.6 1329.3,957.3 1329.4,961.0 1328.5,962.2 1329.8,964.9 1329.0,966.1 1329.0,969.4 1329.9,970.5 1330.1,973.8 1330.0,974.9 1330.4,977.8 1330.2,978.8 1330.0,981.0 1330.4,984.3 1330.6,986.0 1331.5,988.2 1332.1,989.7 1332.7,991.5 1333.5,989.3 1333.8,988.4 1334.6,986.5 1335.2,987.5 1335.5,991.2 1335.6,992.5 1336.4,994.2 1335.6,997.5 1336.5,999.2 1336.3,1000.7 1336.3,1004.0 1336.4,1006.0 1336.6,1008.2 1337.4,1009.7 1337.7,1011.7 1338.0,1013.4 1339.6,1016.4 1339.0,1018.2 1340.4,1020.7 1340.3,1022.6 1341.1,1025.0 1341.2,1026.2 1341.3,1029.5 1341.1,1031.6 1342.2,1034.0 1342.4,1035.2 1342.7,1037.7 1342.5,1039.3 1343.1,1042.0 1343.2,1044.1 1343.2,1046.8 1343.8,1048.4 1344.6,1050.3 1344.5,1052.6 1345.0,1054.7 1344.8,1057.7 1345.4,1058.9 1345.4,1061.8 1344.9,1063.1 1345.4,1065.4 1345.4,1067.2 1346.3,1069.9 1345.8,1072.5 1347.0,1074.5 1347.1,1077.0 1347.4,1079.3 1346.9,1081.9 1347.6,1082.9 1348.1,1085.9 1347.3,1087.2 1348.4,1090.3 1348.3,1092.1 1348.8,1094.1 1349.5,1095.8 1350.2,1097.4 1350.5,1100.2 1350.5,1102.4 1350.5,1103.2 1351.5,1106.4 1351.9,1107.4 1352.5,1109.5 1353.2,1111.4 1353.6,1113.7 1354.6,1116.7 1355.1,1117.9 1355.6,1115.2 1355.4,1113.9 1355.8,1111.2 1356.0,1109.1 1356.4,1106.5 1357.0,1104.7 1356.5,1102.1 1356.7,1099.5 1359.0,1098.6 1359.7,1096.1 1360.5,1093.5 1360.7,1091.3 1362.1,1090.6 1362.3,1087.3 1362.6,1086.5 1363.4,1083.5 1363.2,1081.7 1363.8,1078.8 1364.9,1077.9 1365.4,1075.0 1365.7,1076.5 1365.7,1079.1 1366.6,1082.1 1367.6,1083.3 1367.9,1086.1 1367.5,1088.4 1369.3,1087.5 1371.0,1085.8 1371.3,1083.3 1372.2,1081.9 1373.4,1078.9 1373.1,1077.0 1374.3,1079.5 1375.5,1082.2 1375.8,1084.3 1376.8,1082.3 1376.3,1079.7 1376.7,1076.8 1377.2,1075.5 1378.1,1072.1 1378.9,1069.7 1378.6,1068.8 1381.3,1065.4 1382.1,1063.8 1382.5,1062.0 1382.5,1058.8 1383.2,1057.3 1383.9,1054.4 1384.1,1052.3 1383.7,1049.7 1384.7,1047.5 1385.2,1045.3 1385.9,1044.5 1386.0,1041.6 1386.6,1040.6 1387.2,1038.0 1387.5,1035.3 1387.4,1034.7 1388.9,1031.4 1388.4,1030.6 1388.6,1028.8 1389.4,1025.3 1390.0,1023.8 1390.1,1022.2 1389.6,1020.4 1389.8,1017.2 1389.8,1016.4 1391.0,1013.3 1390.7,1012.2 1391.1,1009.1 1390.7,1006.5 1390.8,1005.0 1391.4,1002.9 1391.1,1001.4 1391.3,998.2 1391.5,996.8 1391.4,994.1 1391.3,991.9 1391.9,990.6 1391.8,988.2 1392.3,985.7 1392.3,982.6 1391.9,980.7 1392.6,979.3 1392.8,977.3 1392.8,973.8 1393.0,972.3 1393.1,970.4 1393.4,968.2 1393.3,966.0 1393.3,963.7 1393.8,961.5 1393.9,958.3 1394.1,957.0 1394.1,953.8 1393.4,952.0 1393.9,950.3 1394.3,947.0 1394.0,946.1 1393.8,943.3 1394.0,940.5 1394.3,938.3 1394.4,936.7 1394.4,935.0 1394.7,932.0 1395.0,929.4 1394.8,928.4 1395.8,926.2 1395.9,923.7 1395.8,920.5 1395.4,918.5 1395.4,917.1 1395.5,914.1 1395.9,912.5 1396.3,909.6 1396.2,907.3 1396.1,905.6 1396.1,903.4 1396.5,901.7 1396.0,898.9 1396.3,896.2 1397.2,894.5 1396.3,892.1 1396.6,891.0 1397.0,888.7 1396.9,885.6 1397.3,883.5 1397.7,881.6 1397.4,878.6 1398.1,877.0 1397.6,874.2 1397.6,872.3 1397.5,871.0 1397.4,867.9 1397.6,866.6 1398.2,863.5 1399.4,862.6 1400.4,859.4 1401.0,857.4 1402.1,856.6 1401.9,853.8 1402.3,852.6 1402.5,850.4 1403.0,847.7 1403.9,846.0 1403.5,843.9 1407.4,844.3 1407.9,842.2 1408.0,839.6 1408.0,837.9 1408.5,835.9 1409.2,833.1 1409.8,830.8 1409.6,829.2 1409.2,831.4 1410.2,832.9 1409.5,836.0 1410.6,837.8 1410.8,840.0 1410.2,841.7 1410.2,844.3 1410.6,845.6 1410.3,847.5 1410.9,849.9 1410.9,851.7 1411.0,854.8 1410.8,856.7 1411.1,858.5 1412.0,861.4 1412.0,862.6 1412.2,865.8 1412.2,867.3 1411.7,870.1 1412.5,872.2 1412.2,874.7 1412.5,876.3 1413.0,878.9 1412.9,881.0 1412.3,884.1 1413.1,885.6 1412.7,887.4 1412.6,889.4 1413.5,892.8 1412.9,894.2 1413.6,896.9 1414.1,899.5 1413.7,901.5 1413.9,903.0 1414.8,904.6 1414.4,908.2 1415.1,909.1 1415.3,911.9 1414.4,914.8 1414.9,915.5 1416.1,917.6 1415.6,920.0 1416.8,923.4 1416.1,924.5 1417.5,927.3 1417.2,929.0 1418.1,931.7 1418.0,933.8 1420.6,931.6 1420.6,933.6 1420.9,935.8 1420.5,938.4 1421.6,941.1 1421.0,943.4 1421.6,944.9 1421.7,946.8 1423.0,948.9 1423.1,952.6 1422.8,954.8 1423.5,955.9 1425.1,957.5 1425.8,959.3 1425.6,961.9 1426.6,964.8 1425.9,966.1 1426.8,969.0 1426.2,971.1 1426.7,973.5 1427.3,974.6 1426.7,976.3 1427.5,979.9 1426.9,981.2 1427.4,982.9 1428.2,985.6 1428.3,987.8 1428.3,990.6 1429.3,988.5 1430.7,988.8 1431.3,989.7 1432.0,992.4 1432.7,995.0 1432.5,997.4 1432.9,1000.2 1433.7,1002.2 1433.9,1004.5 1433.7,1006.0 1434.8,1008.6 1434.3,1010.1 1435.0,1013.0 1435.2,1015.0 1435.7,1016.6 1435.2,1019.1 1435.8,1021.4 1436.1,1023.8 1437.1,1025.4 1436.6,1027.7 1437.3,1030.0 1437.3,1031.5 1437.0,1034.0 1437.3,1037.3 1437.8,1039.4 1438.0,1041.5 1438.1,1043.1 1438.8,1045.7 1438.8,1048.8 1439.4,1045.3 1440.4,1043.3 1441.3,1042.4 1441.8,1044.7 1442.4,1045.6 1442.6,1048.5 1442.5,1050.2 1442.6,1051.4 1444.1,1053.9 1443.8,1055.7 1445.0,1058.1 1445.8,1059.9 1446.7,1062.9 1447.9,1065.8 1448.7,1062.8 1448.9,1060.0 1448.8,1058.3 1449.2,1056.4 1448.7,1054.0 1449.0,1051.9 1449.0,1048.9 1449.8,1047.3 1450.0,1044.9 1449.7,1042.5 1450.2,1040.7 1450.1,1038.5 1450.4,1035.8 1450.1,1033.9 1450.2,1036.0 1451.0,1038.3 1452.1,1041.1 1452.1,1043.9 1451.9,1046.2 1452.1,1047.9 1453.1,1050.2 1454.0,1052.2 1454.1,1054.2 1455.7,1056.5 1455.5,1058.0 1456.7,1056.7 1456.6,1053.8 1456.6,1051.8 1457.1,1050.1 1457.9,1047.9 1457.7,1046.1 1461.3,1045.3 1461.6,1043.7 1462.9,1042.5 1464.0,1040.4 1464.1,1038.6 1464.8,1035.7 1465.3,1033.6 1466.4,1031.9 1466.7,1030.8 1467.2,1027.6 1467.1,1025.4 1467.4,1023.9 1467.2,1021.9 1467.6,1019.0 1468.3,1017.3 1467.9,1013.9 1469.2,1012.9 1469.2,1010.0 1469.6,1007.7 1469.5,1005.4 1469.2,1003.0 1469.0,1001.7 1469.9,999.1 1470.1,997.1 1470.2,994.0 1469.6,992.0 1470.2,989.6 1470.1,988.2 1469.8,985.0 1470.0,982.6 1470.4,980.9 1470.1,978.2 1470.7,976.8 1471.1,975.2 1470.9,971.4 1471.5,969.9 1471.2,967.8 1470.7,965.3 1471.6,964.0 1471.9,961.4 1471.1,959.1 1471.5,956.5 1471.4,953.9 1471.6,951.7 1472.3,950.1 1472.6,947.6 1472.8,946.1 1472.5,944.0 1472.5,940.7 1472.4,938.7 1472.4,937.4 1473.2,933.8 1472.3,932.1 1472.6,929.8 1473.1,927.0 1473.2,926.3 1473.1,923.0 1473.9,920.4 1473.6,919.2 1473.1,916.1 1474.1,914.1 1473.3,912.1 1473.9,910.0 1473.7,907.6 1474.5,905.1 1473.9,903.6 1474.1,900.8 1474.8,899.0 1474.6,896.2 1475.2,895.1 1474.7,892.4 1475.4,889.8 1475.6,887.0 1475.5,886.0 1476.1,883.3 1476.3,881.4 1475.8,878.8 1476.2,877.2 1476.4,875.0 1476.9,872.9 1477.0,870.1 1476.6,867.3 1477.4,865.4 1478.4,864.1 1478.8,861.3 1479.6,863.9 1479.7,865.6 1480.6,867.3 1481.5,870.4 1481.8,871.3 1481.5,874.1 1482.4,876.4 1482.9,877.6 1482.5,880.2 1483.0,882.9 1483.6,883.9 1483.6,887.0 1484.9,888.3 1485.4,890.6 1484.7,893.0 1485.9,896.1 1485.8,897.9 1485.9,899.8 1486.1,903.0 1487.1,905.1 1487.7,906.2 1487.6,909.7 1488.1,912.0 1488.8,913.3 1489.0,915.5 1489.1,917.4 1489.3,919.9 1489.1,922.1 1489.6,924.8 1489.9,926.8 1490.6,929.8 1490.8,932.2 1490.9,930.4 1491.5,928.2 1492.8,926.4 1493.4,924.3 1494.1,921.5 1495.4,920.5 1495.9,922.9 1495.9,924.6 1496.7,926.4 1497.0,929.7 1497.4,931.1 1497.7,934.3 1498.3,935.3 1497.8,938.8 1498.5,941.0 1498.2,942.3 1498.6,944.8 1499.6,946.7 1499.0,949.3 1499.9,951.5 1499.7,952.9 1499.9,956.2 1500.4,958.4 1500.2,959.6 1501.5,962.5 1502.2,964.0 1503.0,965.3 1503.5,967.7 1503.6,969.7 1504.2,972.8 1505.1,974.4 1505.3,977.5 1506.3,979.1 1506.2,981.7 1507.1,983.4 1507.4,985.8 1508.0,987.6 1510.1,990.3 1511.2,991.4 1511.9,994.6 1512.4,995.5 1513.0,998.6 1513.3,1000.0 1513.2,1002.2 1513.8,1000.4 1513.8,997.2 1514.5,995.8 1515.0,992.9 1514.5,990.8 1515.4,989.3 1515.1,986.4 1516.0,985.0 1516.2,981.4 1516.3,980.0 1516.3,977.0 1516.9,975.1 1517.4,972.5 1517.9,970.7 1518.1,967.7 1517.7,966.3 1518.9,963.4 1519.8,961.1 1520.2,959.2 1521.0,961.4 1521.7,963.1 1521.6,966.1 1522.7,968.4 1522.1,970.2 1522.7,971.8 1523.1,975.0 1523.8,977.2 1523.1,978.9 1523.8,980.4 1523.9,982.8 1524.0,986.0 1524.5,987.2 1524.3,989.8 1524.6,991.2 1525.1,994.4 1524.7,996.0 1525.0,998.1 1525.9,1000.5 1526.7,1002.0 1525.9,1004.4 1527.1,1006.4 1527.1,1009.6 1527.7,1011.6 1527.8,1013.4 1528.3,1016.6 1527.4,1018.0 1528.4,1020.6 1528.4,1022.6 1529.3,1025.1 1529.2,1026.9 1529.5,1028.5 1530.6,1031.4 1530.8,1034.3 1531.0,1036.2 1531.7,1038.5 1532.0,1039.3 1532.4,1042.8 1533.5,1044.7 1533.5,1045.6 1534.6,1048.7 1535.3,1050.8 1535.2,1052.8 1535.6,1054.5 1536.4,1057.6 1536.0,1059.8 1536.6,1058.3 1536.9,1055.3 1537.1,1053.7 1537.9,1050.5 1537.6,1049.5 1537.3,1047.1 1538.2,1045.1 1538.8,1042.3 1538.6,1040.7 1539.1,1037.4 1539.5,1035.4 1539.2,1034.2 1540.2,1031.6 1541.2,1029.8 1541.6,1028.1 1543.4,1025.7 1543.6,1024.0 1545.0,1022.2 1546.4,1021.5 1548.5,1020.2 1551.0,1020.7 1552.3,1018.7 1552.1,1016.1 1553.5,1013.8 1553.4,1012.3 1554.5,1009.1 1554.6,1007.1 1554.6,1005.3 1554.8,1003.0 1555.3,1000.1 1555.6,998.0 1556.7,996.1 1556.3,993.7 1556.4,991.7 1556.6,990.1 1557.2,987.3 1557.4,984.5 1557.6,982.2 1557.2,980.7 1557.9,978.2 1558.1,977.2 1557.8,973.8 1558.2,972.3 1558.4,970.4 1558.4,967.5 1557.8,965.6 1559.0,962.9 1558.6,960.7 1559.2,959.6 1559.3,957.3 1558.6,954.4 1558.7,953.0 1559.9,950.9 1559.5,948.7 1559.6,947.1 1559.4,944.1 1560.4,941.7 1559.8,939.8 1559.8,937.0 1560.7,936.1 1560.1,933.2 1560.9,931.8 1561.2,929.2 1561.1,927.2 1561.1,925.2 1561.7,922.8 1561.8,920.7 1561.3,918.8 1562.5,915.8 1561.8,913.5 1562.1,911.3 1562.6,909.5 1563.1,907.5 1563.6,905.6 1564.0,902.3 1564.6,905.8 1564.8,907.3 1565.3,909.0 1565.7,912.6 1566.0,914.2 1565.9,916.8 1566.4,918.9 1566.3,920.9 1567.0,922.1 1566.6,924.6 1567.2,927.3 1567.9,928.6 1567.2,931.0 1567.3,934.2 1568.2,936.2 1567.5,937.5 1568.8,939.4 1568.6,942.3 1569.2,945.4 1569.9,947.2 1570.2,948.5 1570.4,950.7 1570.0,953.2 1571.1,955.2 1570.8,957.9 1571.5,960.5 1571.4,962.3 1572.4,963.2 1572.6,966.5 1572.7,968.5 1573.7,970.1 1573.9,971.5 1575.0,973.9 1575.7,976.1 1577.0,977.2 1579.9,979.6 1580.4,976.4 1581.4,975.0 1581.5,971.9 1581.8,970.1 1582.0,968.5 1582.6,965.1 1582.4,964.0 1582.0,961.1 1583.1,958.9 1582.7,956.3 1582.7,954.7 1583.6,952.3 1582.8,949.5 1583.6,946.7 1583.8,944.9 1584.0,942.6 1583.3,940.4 1583.9,939.2 1584.3,936.1 1584.5,933.4 1583.8,931.7 1583.8,929.8 1584.0,927.6 1584.7,925.8 1585.0,923.9 1585.3,920.5 1584.5,919.0 1585.6,917.2 1585.2,915.1 1585.4,912.7 1585.8,910.1 1586.3,909.0 1586.3,905.6 1586.4,904.7 1586.0,901.2 1587.1,899.3 1587.9,898.8 1589.0,895.6 1589.2,893.6 1589.5,895.9 1591.0,899.4 1591.9,900.5 1592.7,902.1 1594.6,904.5 1594.4,905.4 1596.0,907.6 1598.3,908.6 1598.2,910.3 1598.9,912.4 1599.8,914.7 1600.0,916.8 1601.1,917.7 1601.0,920.0 1601.4,922.5 1601.8,923.9 1602.8,926.4 1603.6,927.4 1603.0,930.3 1604.4,932.4 1603.8,934.0 1604.2,937.2 1604.3,938.6 1604.4,941.6 1604.9,942.5 1605.5,945.3 1605.4,947.2 1605.8,949.2 1605.9,951.1 1605.6,954.3 1607.7,952.2 1609.5,950.0 1609.4,952.6 1609.9,954.2 1609.1,957.0 1609.6,959.2 1609.9,961.0 1610.0,962.9 1610.7,965.6 1611.0,966.7 1610.6,970.2 1611.2,971.2 1610.5,973.2 1611.2,975.4 1612.2,978.0 1612.5,980.4 1612.6,982.7 1613.4,984.6 1614.3,986.1 1614.4,988.3 1615.1,989.4 1615.7,992.5 1615.5,993.6 1615.7,995.8 1616.4,998.1 1616.6,1000.1 1617.4,1001.2 1617.4,1003.5 1618.0,1006.4 1618.8,1008.2 1618.2,1009.4 1619.4,1011.6 1619.7,1010.2 1619.8,1008.6 1620.5,1005.9 1620.7,1004.5 1620.1,1002.0 1621.1,1000.3 1621.8,1002.0 1622.5,1003.9 1622.7,1006.1 1623.2,1008.1 1623.5,1009.5 1625.3,1008.8 1626.5,1008.0 1628.1,1006.3 1628.3,1008.6 1628.9,1010.6 1628.5,1013.0 1629.7,1015.6 1629.3,1018.3 1629.9,1020.7 1630.6,1022.8 1630.9,1024.6 1631.0,1027.1 1630.2,1029.6 1630.3,1030.6 1630.6,1033.8 1631.4,1035.9 1631.0,1038.5 1631.3,1040.7 1632.0,1038.0 1632.5,1034.8 1632.4,1033.3 1633.2,1031.2 1633.5,1029.4 1633.7,1025.5 1634.4,1024.8 1634.7,1022.1 1636.5,1020.1 1636.6,1018.6 1637.5,1016.2 1638.4,1017.9 1638.5,1020.7 1638.0,1022.7 1638.2,1024.7 1638.7,1027.5 1638.9,1029.1 1638.4,1031.9 1639.5,1033.7 1639.6,1037.2 1639.0,1039.3 1639.1,1041.4 1640.0,1042.6 1640.3,1045.8 1640.2,1048.1 1639.6,1049.8 1640.7,1051.6 1640.4,1054.3 1640.8,1056.5 1641.6,1057.5 1642.0,1060.3 1641.9,1062.2 1642.1,1060.3 1642.9,1057.6 1642.7,1055.6 1642.3,1053.7 1643.0,1051.6 1642.8,1048.7 1644.0,1047.3 1643.3,1044.5 1644.1,1042.2 1643.6,1040.6 1644.2,1038.6 1644.4,1035.3 1644.7,1033.0 1644.3,1030.9 1644.7,1028.9 1645.1,1026.9 1645.0,1024.4 1646.3,1022.0 1645.6,1020.5 1646.4,1018.2 1645.9,1015.6 1648.7,1016.2 1650.2,1016.0 1651.6,1014.6 1653.9,1012.4 1653.3,1013.2 1654.7,1015.8 1654.8,1017.7 1654.2,1019.2 1655.0,1021.7 1655.1,1020.1 1655.8,1017.7 1656.7,1016.3 1657.3,1013.6 1657.0,1012.3 1657.8,1009.4 1657.8,1008.1 1658.7,1006.4 1659.2,1003.9 1659.1,1001.6 1660.1,1000.7 1659.6,998.7 1660.2,995.5 1660.2,994.0 1661.3,992.3 1661.4,988.9 1660.8,986.6 1660.9,984.8 1661.1,982.2 1661.3,981.3 1661.5,978.6 1662.1,976.0 1662.8,974.0 1662.4,972.5 1663.4,969.3 1662.6,968.3 1663.8,966.3 1663.0,963.6 1663.0,961.8 1663.1,959.6 1663.3,956.4 1663.3,953.8 1664.3,952.8 1664.0,949.3 1664.7,948.2 1664.6,945.6 1664.4,942.7 1664.5,941.2 1665.0,939.6 1664.4,936.4 1664.5,934.6 1664.7,931.7 1664.7,930.2 1664.5,927.9 1665.7,926.3 1665.3,923.5 1664.7,920.5 1665.7,918.7 1665.3,916.2 1665.7,914.9 1665.2,912.6 1666.2,910.7 1665.2,908.4 1665.2,905.3 1666.0,903.0 1665.6,900.4 1666.5,898.6 1666.6,896.2 1665.7,894.1 1666.1,892.7 1666.4,890.2 1666.7,887.1 1666.3,885.3 1666.3,882.9 1666.7,881.0 1666.8,878.8 1666.8,876.9 1666.3,874.7 1667.1,872.4 1667.1,870.1 1667.5,868.1 1666.9,865.0 1667.9,862.8 1667.6,860.6 1667.7,858.5 1667.9,857.1 1667.5,854.5 1668.3,851.1 1668.3,849.5 1668.9,846.7 1668.4,844.6 1669.0,842.5 1668.3,840.1 1668.6,838.4 1669.0,836.2 1670.2,834.4 1670.3,830.9 1670.9,828.3 1672.9,830.9 1674.0,831.8 1673.9,834.2 1674.6,837.2 1675.1,838.0 1675.2,840.4 1675.1,843.3 1675.1,845.8 1675.8,848.5 1676.3,850.1 1675.7,851.9 1676.6,854.0 1676.7,857.4 1677.0,858.7 1676.6,861.1 1677.3,862.6 1678.1,865.6 1677.6,868.4 1678.3,870.1 1677.9,872.2 1678.9,873.8 1678.6,876.8 1678.7,878.7 1679.4,881.1 1679.6,884.0 1679.7,884.8 1679.9,887.7 1680.0,890.6 1679.8,892.6 1680.2,894.2 1681.5,896.5 1681.1,899.9 1682.2,901.4 1682.0,904.2 1682.7,905.5 1683.7,907.6 1683.4,910.5 1684.9,912.3 1684.6,914.0 1685.0,915.8 1685.4,919.5 1687.0,921.3 1686.4,923.3 1687.9,921.3 1688.0,918.7 1688.4,917.0 1689.5,914.4 1688.8,911.3 1689.4,910.1 1689.5,907.2 1689.7,905.0 1690.1,903.6 1690.9,901.1 1690.5,899.0 1690.9,896.9 1690.6,893.8 1691.8,890.8 1692.4,889.2 1694.0,891.2 1695.6,892.0 1695.6,893.6 1696.7,896.4 1696.5,897.4 1697.0,900.1 1698.1,901.3 1699.1,904.5 1698.6,906.5 1699.6,908.9 1699.1,910.3 1700.2,912.1 1700.5,914.8 1700.4,917.7 1700.5,919.3 1700.4,922.5 1701.6,924.4 1702.0,926.1 1702.7,927.7 1703.4,930.8 1703.6,931.6 1703.6,934.3 1704.0,936.7 1705.2,937.9 1705.8,940.3 1706.0,943.1 1706.5,944.7 1706.9,948.5 1706.6,949.4 1707.9,948.3 1707.7,945.3 1709.0,943.7 1709.4,942.7 1710.1,939.6 1709.5,937.7 1711.1,936.5 1711.4,933.7 1712.1,932.2 1711.7,930.2 1712.6,931.5 1714.3,934.0 1714.0,936.8 1714.0,938.0 1714.3,940.8 1714.8,942.6 1715.0,945.3 1714.8,947.2 1715.3,949.2 1714.9,952.1 1716.0,954.1 1715.6,956.4 1716.5,958.0 1716.7,960.2 1717.5,962.4 1717.8,963.5 1717.9,966.4 1718.4,967.3 1719.0,970.0 1719.5,972.1 1720.0,974.4 1719.4,977.1 1720.1,978.6 1720.1,981.5 1720.5,983.3 1720.9,985.8 1720.7,987.8 1720.7,990.0 1721.1,992.2 1721.5,993.8 1721.8,996.3 1721.4,998.8 1721.6,1000.9 1722.2,1002.8 1722.2,1006.3 1722.6,1007.0 1723.2,1010.6 1723.6,1012.7 1724.0,1014.2 1724.2,1017.1 1723.9,1019.1 1724.4,1021.6 1723.8,1024.0 1724.8,1024.8 1725.0,1027.5 1724.8,1029.4 1724.8,1031.9 1725.0,1035.3 1726.3,1037.0 1726.6,1038.5 1725.9,1040.8 1727.0,1044.3 1726.4,1045.7 1726.4,1048.0 1727.6,1050.1 1727.2,1052.0 1728.3,1055.0 1728.9,1056.9 1729.3,1059.1 1728.7,1061.2 1729.4,1064.4 1729.8,1066.6 1731.0,1064.4 1731.0,1061.2 1731.2,1059.2 1731.5,1057.8 1733.1,1056.5 1732.7,1054.7 1733.1,1052.2 1733.9,1049.1 1733.4,1048.0 1733.8,1045.1 1733.9,1043.0 1734.7,1041.3 1735.5,1039.0 1735.6,1037.2 1736.1,1033.4 1736.0,1032.3 1738.7,1031.4 1741.1,1030.7 1741.7,1033.7 1742.3,1034.9 1742.3,1038.4 1743.0,1040.4 1743.3,1041.8 1743.5,1043.7 1743.7,1046.0 1744.6,1048.7 1745.2,1049.5 1744.8,1051.3 1745.6,1053.5 1746.6,1055.3 1746.6,1054.5 1748.5,1051.4 1748.6,1049.5 1749.7,1052.4 1750.0,1054.9 1750.4,1057.1 1750.4,1059.7 1751.1,1062.0 1751.3,1064.0 1751.1,1065.8 1752.1,1067.2 1753.3,1066.4 1755.0,1064.1 1755.7,1062.3 1755.7,1060.6 1756.6,1057.7 1757.6,1056.2 1758.1,1053.2 1759.3,1056.2 1759.1,1057.3 1760.0,1060.3 1761.4,1062.3 1762.0,1064.5 1763.0,1066.8 1763.2,1067.3 1763.5,1070.7 1765.1,1071.4 1764.8,1073.5 1766.1,1076.0 1766.9,1073.9 1767.5,1071.7 1768.4,1070.0 1769.2,1067.3 1770.4,1066.7 1772.5,1064.4 1771.6,1061.5 1772.3,1058.8 1772.8,1056.6 1772.6,1055.3 1773.2,1052.5 1772.8,1050.4 1772.3,1047.9 1773.0,1046.0 1772.9,1042.9 1773.6,1041.5 1774.0,1039.2 1774.2,1037.4 1773.4,1034.3 1773.8,1031.7 1774.1,1030.2 1774.3,1027.1 1774.2,1025.9 1774.4,1023.7 1774.6,1021.6 1774.4,1018.3 1774.4,1016.5 1774.4,1015.0 1774.3,1013.0 1774.5,1009.9 1775.1,1008.6 1774.6,1005.0 1775.5,1003.1 1775.4,1000.5 1774.7,998.9 1775.2,997.2 1775.1,994.4 1775.0,992.0 1775.4,989.5 1774.8,987.7 1775.1,985.8 1775.8,983.2 1776.0,981.0 1775.4,979.1 1775.5,976.4 1775.3,974.2 1775.9,972.0 1775.6,969.8 1775.6,968.0 1775.7,964.8 1776.3,962.8 1776.2,961.8 1776.2,959.4 1776.0,956.4 1776.5,954.0 1776.3,952.7 1776.3,950.4 1776.4,948.1 1776.8,946.1 1776.3,943.5 1777.1,941.4 1777.5,939.3 1776.8,936.3 1776.7,933.8 1777.4,931.9 1777.5,929.2 1776.8,928.0 1777.4,924.8 1777.4,923.4 1778.0,921.1 1777.5,918.2 1777.7,916.7 1778.4,913.7 1778.5,911.9 1778.4,910.1 1777.9,907.5 1778.0,905.1 1778.0,902.8 1778.8,901.5 1779.2,898.7 1779.1,896.0 1779.1,894.0 1779.6,891.1 1779.3,889.9 1778.7,888.1 1779.8,884.8 1779.1,882.6 1779.8,880.9 1779.4,878.0 1780.4,875.7 1780.5,874.4 1781.0,872.3 1780.6,869.9 1781.8,866.6 1782.4,865.5 1785.1,865.4 1786.2,868.4 1788.6,869.7 1788.7,867.6 1789.3,865.4 1789.0,863.7 1790.0,861.4 1789.5,858.7" fill="none" stroke="#000" stroke-width="3.7" stroke-linejoin="round" stroke-linecap="round"/>
<path d="M1870.0,863.1 1871.6,864.4 1873.2,861.5 1874.8,864.1 1876.4,864.4 1878.0,866.4 1879.6,868.5 1881.2,867.7 1882.8,866.4 1884.4,865.5 1886.0,864.7 1887.6,866.0 1889.2,864.2 1890.8,862.5 1892.4,864.3 1894.0,862.5 1895.6,863.2 1897.2,863.0 1898.8,864.3 1900.4,864.2 1902.0,863.9 1903.6,862.5 1905.2,861.4 1906.8,854.1 1908.4,857.2 1910.0,860.9 1911.6,862.5 1913.2,866.7 1914.8,868.3 1916.4,867.0 1918.0,866.5 1919.6,867.1 1921.2,868.6 1922.8,868.7 1924.4,865.9 1926.0,867.2 1927.6,865.0 1929.2,866.2 1930.8,866.0 1932.4,866.4 1934.0,863.2 1935.6,864.2 1937.2,865.8 1938.8,868.1 1940.4,867.3 1942.0,870.9 1943.6,872.5 1945.2,870.7 1946.8,872.0 1948.4,871.1 1950.0,871.5 1951.6,870.4 1953.2,868.6 1954.8,865.1 1956.4,860.7 1958.0,864.9 1959.6,868.9 1961.2,866.2 1962.8,865.2 1964.4,863.1 1966.0,863.1 1967.6,863.4 1969.2,863.5 1970.8,863.6 1972.4,863.8 1974.0,862.0 1975.6,863.4 1977.2,861.6 1978.8,862.0 1980.4,861.6 1982.0,857.9 1983.6,857.0 1985.2,856.2 1986.8,854.4 1988.4,854.5 1990.0,851.5 1991.6,851.5 1993.2,850.1 1994.8,849.4 1996.4,852.7 1998.0,855.4 1999.6,853.8 2001.2,857.2 2002.8,856.7 2004.4,855.9 2006.0,853.6 2007.6,853.2 2009.2,857.9 2010.8,857.2 2012.4,855.2 2014.0,857.2 2015.6,854.0 2017.2,855.9 2018.8,858.5 2020.4,858.7 2022.0,859.8 2023.6,859.9 2025.2,856.3 2026.8,857.0 2028.4,855.6 2030.0,857.2 2031.6,856.4 2033.2,853.7 2034.8,853.8 2036.4,854.2 2038.0,854.6 2039.6,850.3 2041.2,847.2 2042.8,847.3 2044.4,847.5 2046.0,845.7 2047.6,847.3 2049.2,844.9 2050.8,843.3 2052.4,843.9 2054.0,843.5 2055.6,843.7 2057.2,843.4 2058.8,842.3 2060.4,841.5 2062.0,840.0 2063.6,838.6 2065.2,837.5 2066.8,837.3 2068.4,834.8 2070.0,833.3 2071.6,833.3 2073.2,832.7 2074.8,832.6 2076.4,833.5 2078.0,830.6 2079.6,831.2 2081.2,831.7 2082.8,829.3 2084.4,827.5 2086.0,826.8 2087.6,825.0 2089.2,825.2 2090.8,820.7 2092.4,818.8 2094.0,820.0 2095.6,819.2 2097.2,817.7 2098.8,817.8 2100.4,814.0 2102.0,815.8 2103.6,813.5 2105.2,811.6 2106.8,812.2 2108.4,810.6 2110.0,810.6 2111.6,806.8 2113.2,807.3 2114.8,806.0" fill="none" stroke="#000" stroke-width="3.4" stroke-linejoin="round" stroke-linecap="round"/>
<path d="M2101,815.5 L2116.5,806.5" fill="none" stroke="#000" stroke-width="8"/>
<g fill="none" stroke="#000" stroke-width="5.2" stroke-dasharray="24.5 26">
<path d="M2128.0,787.4 2130.0,784.8 2132.0,782.1 2134.0,779.5 2136.0,776.9 2138.0,774.3 2140.0,771.7 2142.0,769.1 2144.0,766.5 2146.0,763.9 2148.0,761.3 2150.0,758.7 2152.0,756.0 2154.0,753.3 2156.0,750.7 2158.0,748.0 2160.0,745.3 2162.0,742.5 2164.0,739.6 2166.0,736.7 2168.0,733.6 2170.0,730.6 2172.0,727.4 2174.0,724.3 2176.0,721.1 2178.0,718.0 2180.0,714.9 2182.0,711.7 2184.0,708.6 2186.0,705.4 2188.0,702.3 2190.0,699.3 2192.0,696.2 2194.0,693.3 2196.0,690.3 2198.0,687.4 2200.0,684.6 2202.0,681.7 2204.0,678.9 2206.0,676.1 2208.0,673.3 2210.0,670.5 2212.0,667.8 2214.0,665.0 2216.0,662.2 2218.0,659.5 2220.0,656.8 2222.0,654.2 2224.0,651.5 2226.0,648.9 2228.0,646.3 2230.0,643.7 2232.0,641.2 2234.0,638.8 2236.0,636.5 2238.0,634.2 2240.0,632.1 2242.0,630.0 2244.0,628.0 2246.0,626.0 2248.0,624.0 2250.0,622.0 2252.0,620.0 2254.0,618.0 2256.0,616.1 2258.0,614.2 2260.0,612.4 2262.0,610.5 2264.0,608.7 2266.0,607.0 2268.0,605.2 2270.0,603.5 2272.0,601.8 2274.0,600.1 2276.0,598.5 2278.0,596.9 2280.0,595.2 2282.0,593.7 2284.0,592.1 2286.0,590.5 2288.0,588.9 2290.0,587.3 2292.0,585.8 2294.0,584.2 2296.0,582.7 2298.0,581.2 2300.0,579.8 2302.0,578.4 2304.0,577.1 2306.0,575.8 2308.0,574.5 2310.0,573.2 2312.0,571.9 2314.0,570.6 2316.0,569.3 2318.0,568.1 2320.0,566.8 2322.0,565.6 2324.0,564.4 2326.0,563.2 2328.0,562.0 2330.0,560.8 2332.0,559.6 2334.0,558.4 2336.0,557.3 2338.0,556.3 2340.0,555.2 2342.0,554.2 2344.0,553.3 2346.0,552.4 2348.0,551.5 2350.0,550.6 2352.0,549.7 2354.0,548.8 2356.0,548.0 2358.0,547.2 2360.0,546.4 2362.0,545.6 2364.0,544.9 2366.0,544.2 2368.0,543.5 2370.0,542.8 2372.0,542.1 2374.0,541.4 2376.0,540.6 2378.0,539.9 2380.0,539.1 2382.0,538.3 2384.0,537.4 2386.0,536.6 2388.0,535.8 2390.0,535.1 2392.0,534.4 2394.0,533.8 2396.0,533.3 2398.0,532.9 2400.0,532.5 2402.0,532.1 2404.0,531.7 2406.0,531.4 2408.0,531.0 2410.0,530.6 2412.0,530.2 2414.0,529.8 2416.0,529.4 2418.0,529.0 2420.0,528.6 2422.0,528.2 2424.0,527.8 2426.0,527.4 2428.0,527.0 2430.0,526.6 2432.0,526.2 2434.0,525.8 2436.0,525.4 2438.0,525.0 2440.0,524.6 2442.0,524.2 2444.0,523.8 2446.0,523.4 2448.0,523.0 2450.0,522.6 2452.0,522.2 2454.0,521.8 2456.0,521.4 2458.0,521.1 2460.0,520.7 2462.0,520.3 2464.0,519.9 2466.0,519.7 2468.0,519.4" stroke-dashoffset="-14.7"/>
<path d="M2134.0,792.2 2136.0,791.1 2138.0,789.9 2140.0,788.8 2142.0,787.6 2144.0,786.4 2146.0,785.2 2148.0,784.0 2150.0,782.8 2152.0,781.6 2154.0,780.5 2156.0,779.4 2158.0,778.3 2160.0,777.4 2162.0,776.5 2164.0,775.6 2166.0,774.8 2168.0,774.0 2170.0,773.2 2172.0,772.4 2174.0,771.6 2176.0,770.8 2178.0,770.0 2180.0,769.2 2182.0,768.4 2184.0,767.6 2186.0,766.9 2188.0,766.3 2190.0,765.6 2192.0,765.0 2194.0,764.5 2196.0,764.0 2198.0,763.5 2200.0,763.0 2202.0,762.5 2204.0,762.0 2206.0,761.6 2208.0,761.2 2210.0,760.8 2212.0,760.5 2214.0,760.2 2216.0,759.9 2218.0,759.7 2220.0,759.4 2222.0,759.1 2224.0,758.9 2226.0,758.6 2228.0,758.3 2230.0,758.1 2232.0,757.8 2234.0,757.5 2236.0,757.3 2238.0,757.0 2240.0,756.7 2242.0,756.4 2244.0,756.1 2246.0,755.8 2248.0,755.5 2250.0,755.2 2252.0,754.9 2254.0,754.6 2256.0,754.3 2258.0,754.0 2260.0,753.7 2262.0,753.5 2264.0,753.2 2266.0,752.9 2268.0,752.7 2270.0,752.4 2272.0,752.1 2274.0,751.9 2276.0,751.6 2278.0,751.3 2280.0,751.1 2282.0,750.8 2284.0,750.6 2286.0,750.3 2288.0,750.1 2290.0,750.0 2292.0,749.8 2294.0,749.7 2296.0,749.6 2298.0,749.5 2300.0,749.4 2302.0,749.3 2304.0,749.2 2306.0,749.1 2308.0,748.9 2310.0,748.8 2312.0,748.7 2314.0,748.5 2316.0,748.4 2318.0,748.2 2320.0,748.0 2322.0,747.9 2324.0,747.7 2326.0,747.6 2328.0,747.4 2330.0,747.2 2332.0,747.1 2334.0,746.9 2336.0,746.8 2338.0,746.6 2340.0,746.5 2342.0,746.4 2344.0,746.3 2346.0,746.2 2348.0,746.1 2350.0,746.0 2352.0,745.9 2354.0,745.7 2356.0,745.6 2358.0,745.5 2360.0,745.4 2362.0,745.3 2364.0,745.2 2366.0,745.1 2368.0,745.1 2370.0,745.0 2372.0,744.9 2374.0,744.9 2376.0,744.8 2378.0,744.8 2380.0,744.8 2382.0,744.7 2384.0,744.7 2386.0,744.6 2388.0,744.6 2390.0,744.6 2392.0,744.5 2394.0,744.5 2396.0,744.5 2398.0,744.5 2400.0,744.5 2402.0,744.6 2404.0,744.6 2406.0,744.7 2408.0,744.8 2410.0,744.9 2412.0,745.0 2414.0,745.0 2416.0,745.1 2418.0,745.2 2420.0,745.3 2422.0,745.4 2424.0,745.4 2426.0,745.5 2428.0,745.5 2430.0,745.6 2432.0,745.6 2434.0,745.7 2436.0,745.7 2438.0,745.7 2440.0,745.7 2442.0,745.7 2444.0,745.8 2446.0,745.8 2448.0,745.8 2450.0,745.8 2452.0,745.8 2454.0,745.9 2456.0,745.9 2458.0,745.9 2460.0,745.9 2462.0,745.9 2464.0,746.0 2466.0,746.0 2468.0,746.0" stroke-dashoffset="-9.6"/>
<path d="M2142.0,799.5 2144.0,799.4 2146.0,799.3 2148.0,799.1 2150.0,799.0 2152.0,798.9 2154.0,798.8 2156.0,798.6 2158.0,798.5 2160.0,798.4 2162.0,798.3 2164.0,798.2 2166.0,798.2 2168.0,798.3 2170.0,798.3 2172.0,798.4 2174.0,798.6 2176.0,798.7 2178.0,798.9 2180.0,799.0 2182.0,799.1 2184.0,799.3 2186.0,799.4 2188.0,799.6 2190.0,799.8 2192.0,800.0 2194.0,800.2 2196.0,800.5 2198.0,800.9 2200.0,801.2 2202.0,801.7 2204.0,802.1 2206.0,802.5 2208.0,802.9 2210.0,803.3 2212.0,803.7 2214.0,804.1 2216.0,804.5 2218.0,804.8 2220.0,805.1 2222.0,805.4 2224.0,805.6 2226.0,805.9 2228.0,806.1 2230.0,806.3 2232.0,806.5 2234.0,806.7 2236.0,806.9 2238.0,807.1 2240.0,807.4 2242.0,807.6 2244.0,807.8 2246.0,808.0 2248.0,808.2 2250.0,808.4 2252.0,808.5 2254.0,808.7 2256.0,808.9 2258.0,809.1 2260.0,809.3 2262.0,809.5 2264.0,809.6 2266.0,809.8 2268.0,809.9 2270.0,810.0 2272.0,810.1 2274.0,810.1 2276.0,810.2 2278.0,810.2 2280.0,810.2 2282.0,810.3 2284.0,810.3 2286.0,810.4 2288.0,810.4 2290.0,810.4 2292.0,810.5 2294.0,810.5 2296.0,810.5 2298.0,810.6 2300.0,810.6 2302.0,810.6 2304.0,810.6 2306.0,810.7 2308.0,810.7 2310.0,810.7 2312.0,810.7 2314.0,810.7 2316.0,810.7 2318.0,810.8 2320.0,810.8 2322.0,810.8 2324.0,810.8 2326.0,810.8 2328.0,810.8 2330.0,810.9 2332.0,810.9 2334.0,810.9 2336.0,810.9 2338.0,810.9 2340.0,810.9 2342.0,811.0 2344.0,811.0 2346.0,811.0 2348.0,811.0 2350.0,811.0 2352.0,811.0 2354.0,811.0 2356.0,811.1 2358.0,811.1 2360.0,811.1 2362.0,811.1 2364.0,811.1 2366.0,811.1 2368.0,811.1 2370.0,811.1 2372.0,811.2 2374.0,811.2 2376.0,811.2 2378.0,811.2 2380.0,811.2 2382.0,811.2 2384.0,811.2 2386.0,811.3 2388.0,811.3 2390.0,811.3 2392.0,811.3 2394.0,811.3 2396.0,811.3 2398.0,811.3 2400.0,811.3 2402.0,811.4 2404.0,811.4 2406.0,811.4 2408.0,811.4 2410.0,811.4 2412.0,811.4 2414.0,811.4 2416.0,811.4 2418.0,811.4 2420.0,811.4 2422.0,811.4 2424.0,811.4 2426.0,811.4 2428.0,811.4 2430.0,811.4 2432.0,811.4 2434.0,811.4 2436.0,811.4 2438.0,811.4 2440.0,811.4 2442.0,811.4 2444.0,811.4 2446.0,811.4 2448.0,811.4 2450.0,811.4 2452.0,811.4 2454.0,811.4 2456.0,811.4 2458.0,811.4 2460.0,811.4 2462.0,811.4 2464.0,811.4 2466.0,811.4 2468.0,811.4" stroke-dashoffset="-5.3"/>
</g>
<g stroke="#000" stroke-width="3.6" fill="none">
<path d="M175.3,253.5 V1153.8"/>
<path d="M164,1152 H947.3"/>
<path d="M1035.7,1152 H1791.3"/>
<path d="M1870,1152 H2499"/>
<path d="M2488.2,253.5 V1153.8"/>
<path d="M164,1080.1 H175"/>
<path d="M2488,1080.1 H2499"/>
<path d="M164,1008.1 H175"/>
<path d="M2488,1008.1 H2499"/>
<path d="M164,936.2 H175"/>
<path d="M2488,936.2 H2499"/>
<path d="M164,864.3 H175"/>
<path d="M2488,864.3 H2499"/>
<path d="M164,792.4 H175"/>
<path d="M2488,792.4 H2499"/>
<path d="M164,720.5 H175"/>
<path d="M2488,720.5 H2499"/>
<path d="M164,648.5 H175"/>
<path d="M2488,648.5 H2499"/>
<path d="M164,576.6 H175"/>
<path d="M2488,576.6 H2499"/>
<path d="M164,504.7 H175"/>
<path d="M2488,504.7 H2499"/>
<path d="M164,432.8 H175"/>
<path d="M2488,432.8 H2499"/>
<path d="M164,360.9 H175"/>
<path d="M2488,360.9 H2499"/>
<path d="M164,288.9 H175"/>
<path d="M2488,288.9 H2499"/>
<path d="M275.7,1152 V1163.5"/>
<path d="M499.0,1152 V1163.5"/>
<path d="M722.2,1152 V1163.5"/>
<path d="M945.5,1152 V1163.5"/>
<path d="M1037.5,1152 V1163.5"/>
<path d="M1225.5,1152 V1163.5"/>
<path d="M1413.5,1152 V1163.5"/>
<path d="M1601.5,1152 V1163.5"/>
<path d="M1789.5,1152 V1163.5"/>
<path d="M1936.5,1152 V1163.5"/>
<path d="M2069.5,1152 V1163.5"/>
<path d="M2202.5,1152 V1163.5"/>
<path d="M2335.6,1152 V1163.5"/>
<path d="M2468.6,1152 V1163.5"/>
</g>
<rect x="208.8" y="199.8" width="111.5" height="35" fill="#dcc396"/>
<rect x="320.0" y="199.8" width="247.3" height="35" fill="#f2d653"/>
<rect x="567.0" y="199.8" width="121.3" height="35" fill="#b0d566"/>
<rect x="688.0" y="199.8" width="198.8" height="35" fill="#d38dc2"/>
<rect x="886.5" y="199.8" width="30.6" height="35" fill="#8f9ccb"/>
<rect x="916.8" y="199.8" width="19.7" height="35" fill="#e6936c"/>
<rect x="1037.2" y="199.8" width="741.3" height="35" fill="#e6936c"/>
<rect x="1778.2" y="199.8" width="11.4" height="35" fill="#85bfa7"/>
<rect x="1870.2" y="199.8" width="226.4" height="35" fill="#85bfa7"/>
<rect x="1105.5" y="297.8" width="616.5" height="170.5" fill="#fff" stroke="#000" stroke-width="3.5"/>
<rect x="1352.5" y="320.2" width="347.5" height="69.5" fill="url(#gl)"/>
<g stroke="#fff" stroke-opacity="0.7" stroke-width="2.6">
<path d="M1381.2,320.2 v14 M1381.2,389.7 v-14"/>
<path d="M1453.5,320.2 v14 M1453.5,389.7 v-14"/>
<path d="M1525.8,320.2 v14 M1525.8,389.7 v-14"/>
<path d="M1598.0,320.2 v14 M1598.0,389.7 v-14"/>
<path d="M1670.2,320.2 v14 M1670.2,389.7 v-14"/>
</g>
<rect x="2285" y="460.5" width="168.5" height="46.5" rx="7" ry="7" fill="#fff" stroke="#333" stroke-width="2.4"/>
<rect x="2285" y="683.5" width="168.5" height="46.5" rx="7" ry="7" fill="#fff" stroke="#333" stroke-width="2.4"/>
<rect x="2285" y="821.5" width="168.5" height="46.5" rx="7" ry="7" fill="#fff" stroke="#333" stroke-width="2.4"/>
<g><text x="150.20" y="63.00" font-size="59.50" textLength="2258.76" lengthAdjust="spacingAndGlyphs" font-weight="bold" fill="#000" stroke="#000" stroke-width="0.90">Három különböző időléptéken a Föld rekonstruált és mért felszíni átlaghőmérséklete</text>
<text x="178.70" y="132.30" font-size="37.30" textLength="157.75" lengthAdjust="spacingAndGlyphs" fill="#000" stroke="#000" stroke-width="0.35">Paleocén</text>
<text x="387.00" y="132.30" font-size="37.30" textLength="106.39" lengthAdjust="spacingAndGlyphs" fill="#000" stroke="#000" stroke-width="0.35">Eocén</text>
<text x="549.20" y="132.30" font-size="37.30" textLength="153.22" lengthAdjust="spacingAndGlyphs" fill="#000" stroke="#000" stroke-width="0.35">Oligocén</text>
<text x="724.90" y="132.30" font-size="37.30" textLength="131.24" lengthAdjust="spacingAndGlyphs" fill="#000" stroke="#000" stroke-width="0.35">Miocén</text>
<text x="840.70" y="276.60" font-size="37.80" textLength="126.14" lengthAdjust="spacingAndGlyphs" fill="#000" stroke="#000" stroke-width="0.35">Pliocén</text>
<text x="1312.30" y="132.30" font-size="37.30" textLength="196.46" lengthAdjust="spacingAndGlyphs" fill="#000" stroke="#000" stroke-width="0.35">Pleisztocén</text>
<text x="1913.30" y="132.30" font-size="37.30" textLength="143.66" lengthAdjust="spacingAndGlyphs" fill="#000" stroke="#000" stroke-width="0.35">Holocén</text>
<text x="176.75" y="182.60" font-size="35.00" textLength="174.43" lengthAdjust="spacingAndGlyphs" fill="#282828" stroke="#282828" stroke-width="0.40">(8.8,12.6C)</text>
<text x="356.75" y="182.60" font-size="35.00" textLength="174.42" lengthAdjust="spacingAndGlyphs" fill="#282828" stroke="#282828" stroke-width="0.40">(5.6,16.1C)</text>
<text x="550.50" y="182.60" font-size="35.00" textLength="154.03" lengthAdjust="spacingAndGlyphs" fill="#282828" stroke="#282828" stroke-width="0.40">(2.8,5.4C)</text>
<text x="723.30" y="182.60" font-size="35.00" textLength="127.53" lengthAdjust="spacingAndGlyphs" fill="#282828" stroke="#282828" stroke-width="0.40">(0.9,6C)</text>
<text x="817.30" y="326.40" font-size="35.00" textLength="167.29" lengthAdjust="spacingAndGlyphs" fill="#282828" stroke="#282828" stroke-width="0.40">(-2.6,2.3C)</text>
<text x="1323.80" y="182.60" font-size="35.00" textLength="168.51" lengthAdjust="spacingAndGlyphs" fill="#282828" stroke="#282828" stroke-width="0.40">(-6.8,0.9C)</text>
<text x="1899.00" y="182.60" font-size="35.00" textLength="167.29" lengthAdjust="spacingAndGlyphs" fill="#282828" stroke="#282828" stroke-width="0.40">(-0.9,1.3C)</text>
<text x="71.20" y="1184.50" font-size="45.50" textLength="938.66" lengthAdjust="spacingAndGlyphs" font-weight="bold" fill="#000" stroke="#000" stroke-width="0.70" transform="rotate(-90 71.20 1184.50)">Az 1850-1900 időszak átlagától vett eltérés (°C)</text>
<text x="377.30" y="1261.20" font-size="44.30" textLength="371.51" lengthAdjust="spacingAndGlyphs" fill="#000" stroke="#000" stroke-width="0.35">Millió évvel ezelőtt</text>
<text x="1237.80" y="1261.20" font-size="44.30" textLength="343.76" lengthAdjust="spacingAndGlyphs" fill="#000" stroke="#000" stroke-width="0.35">Ezer évvel ezelőtt</text>
<text x="2013.20" y="1265.30" font-size="44.30" textLength="367.43" lengthAdjust="spacingAndGlyphs" fill="#000" stroke="#000" stroke-width="0.35">Műszeres mérések</text>
<text x="1934.30" y="1321.30" font-size="44.30" textLength="525.22" lengthAdjust="spacingAndGlyphs" fill="#000" stroke="#000" stroke-width="0.35">és jövőbeli forgatókönyvek</text>
<text x="1185.75" y="372.00" font-size="39.30" textLength="95.11" lengthAdjust="spacingAndGlyphs" fill="#000" stroke="#000" stroke-width="0.35">Hőm.</text>
<text x="1135.50" y="422.00" font-size="39.30" textLength="193.80" lengthAdjust="spacingAndGlyphs" fill="#000" stroke="#000" stroke-width="0.35">eltérés (°C)</text>
<text x="2294.80" y="496.30" font-size="36.00" textLength="148.31" lengthAdjust="spacingAndGlyphs" fill="#282828" stroke="#282828" stroke-width="0.40">SSP5-8.5</text>
<text x="2294.80" y="718.30" font-size="36.00" textLength="148.31" lengthAdjust="spacingAndGlyphs" fill="#282828" stroke="#282828" stroke-width="0.40">SSP2-4.5</text>
<text x="2294.80" y="856.30" font-size="36.00" textLength="148.31" lengthAdjust="spacingAndGlyphs" fill="#282828" stroke="#282828" stroke-width="0.40">SSP1-2.6</text>
<text x="124.40" y="1164.58" font-size="36.50" textLength="31.16" lengthAdjust="spacingAndGlyphs" fill="#282828" stroke="#282828" stroke-width="0.40">-8</text>
<text x="2508.00" y="1164.58" font-size="36.50" textLength="31.16" lengthAdjust="spacingAndGlyphs" fill="#282828" stroke="#282828" stroke-width="0.40">-8</text>
<text x="124.40" y="1092.66" font-size="36.50" textLength="31.16" lengthAdjust="spacingAndGlyphs" fill="#282828" stroke="#282828" stroke-width="0.40">-6</text>
<text x="2508.00" y="1092.66" font-size="36.50" textLength="31.16" lengthAdjust="spacingAndGlyphs" fill="#282828" stroke="#282828" stroke-width="0.40">-6</text>
<text x="124.40" y="1020.74" font-size="36.50" textLength="31.16" lengthAdjust="spacingAndGlyphs" fill="#282828" stroke="#282828" stroke-width="0.40">-4</text>
<text x="2508.00" y="1020.74" font-size="36.50" textLength="31.16" lengthAdjust="spacingAndGlyphs" fill="#282828" stroke="#282828" stroke-width="0.40">-4</text>
<text x="125.40" y="948.82" font-size="36.50" textLength="31.16" lengthAdjust="spacingAndGlyphs" fill="#282828" stroke="#282828" stroke-width="0.40">-2</text>
<text x="2508.00" y="948.82" font-size="36.50" textLength="31.16" lengthAdjust="spacingAndGlyphs" fill="#282828" stroke="#282828" stroke-width="0.40">-2</text>
<text x="136.40" y="876.90" font-size="36.50" textLength="19.49" lengthAdjust="spacingAndGlyphs" fill="#282828" stroke="#282828" stroke-width="0.40">0</text>
<text x="2509.00" y="876.90" font-size="36.50" textLength="19.49" lengthAdjust="spacingAndGlyphs" fill="#282828" stroke="#282828" stroke-width="0.40">0</text>
<text x="136.40" y="804.98" font-size="36.50" textLength="19.49" lengthAdjust="spacingAndGlyphs" fill="#282828" stroke="#282828" stroke-width="0.40">2</text>
<text x="2508.00" y="804.98" font-size="36.50" textLength="19.49" lengthAdjust="spacingAndGlyphs" fill="#282828" stroke="#282828" stroke-width="0.40">2</text>
<text x="136.40" y="733.06" font-size="36.50" textLength="19.49" lengthAdjust="spacingAndGlyphs" fill="#282828" stroke="#282828" stroke-width="0.40">4</text>
<text x="2509.00" y="733.06" font-size="36.50" textLength="19.49" lengthAdjust="spacingAndGlyphs" fill="#282828" stroke="#282828" stroke-width="0.40">4</text>
<text x="136.40" y="661.14" font-size="36.50" textLength="19.49" lengthAdjust="spacingAndGlyphs" fill="#282828" stroke="#282828" stroke-width="0.40">6</text>
<text x="2508.00" y="661.14" font-size="36.50" textLength="19.49" lengthAdjust="spacingAndGlyphs" fill="#282828" stroke="#282828" stroke-width="0.40">6</text>
<text x="136.40" y="589.22" font-size="36.50" textLength="19.49" lengthAdjust="spacingAndGlyphs" fill="#282828" stroke="#282828" stroke-width="0.40">8</text>
<text x="2508.00" y="589.22" font-size="36.50" textLength="19.49" lengthAdjust="spacingAndGlyphs" fill="#282828" stroke="#282828" stroke-width="0.40">8</text>
<text x="116.40" y="517.30" font-size="36.50" textLength="38.98" lengthAdjust="spacingAndGlyphs" fill="#282828" stroke="#282828" stroke-width="0.40">10</text>
<text x="2507.00" y="517.30" font-size="36.50" textLength="38.98" lengthAdjust="spacingAndGlyphs" fill="#282828" stroke="#282828" stroke-width="0.40">10</text>
<text x="117.40" y="445.38" font-size="36.50" textLength="38.98" lengthAdjust="spacingAndGlyphs" fill="#282828" stroke="#282828" stroke-width="0.40">12</text>
<text x="2507.00" y="445.38" font-size="36.50" textLength="38.98" lengthAdjust="spacingAndGlyphs" fill="#282828" stroke="#282828" stroke-width="0.40">12</text>
<text x="116.40" y="373.46" font-size="36.50" textLength="38.98" lengthAdjust="spacingAndGlyphs" fill="#282828" stroke="#282828" stroke-width="0.40">14</text>
<text x="2507.00" y="373.46" font-size="36.50" textLength="38.98" lengthAdjust="spacingAndGlyphs" fill="#282828" stroke="#282828" stroke-width="0.40">14</text>
<text x="117.40" y="301.54" font-size="36.50" textLength="38.98" lengthAdjust="spacingAndGlyphs" fill="#282828" stroke="#282828" stroke-width="0.40">16</text>
<text x="2507.00" y="301.54" font-size="36.50" textLength="38.98" lengthAdjust="spacingAndGlyphs" fill="#282828" stroke="#282828" stroke-width="0.40">16</text>
<text x="255.70" y="1197.80" font-size="34.30" textLength="38.92" lengthAdjust="spacingAndGlyphs" fill="#282828" stroke="#282828" stroke-width="0.50">60</text>
<text x="479.50" y="1197.80" font-size="34.30" textLength="38.92" lengthAdjust="spacingAndGlyphs" fill="#282828" stroke="#282828" stroke-width="0.50">40</text>
<text x="702.20" y="1197.80" font-size="34.30" textLength="38.92" lengthAdjust="spacingAndGlyphs" fill="#282828" stroke="#282828" stroke-width="0.50">20</text>
<text x="936.00" y="1197.80" font-size="34.30" textLength="19.46" lengthAdjust="spacingAndGlyphs" fill="#282828" stroke="#282828" stroke-width="0.50">0</text>
<text x="1008.00" y="1197.80" font-size="34.30" textLength="58.37" lengthAdjust="spacingAndGlyphs" fill="#282828" stroke="#282828" stroke-width="0.50">800</text>
<text x="1196.00" y="1197.80" font-size="34.30" textLength="58.37" lengthAdjust="spacingAndGlyphs" fill="#282828" stroke="#282828" stroke-width="0.50">600</text>
<text x="1384.50" y="1197.80" font-size="34.30" textLength="58.37" lengthAdjust="spacingAndGlyphs" fill="#282828" stroke="#282828" stroke-width="0.50">400</text>
<text x="1572.00" y="1197.80" font-size="34.30" textLength="58.37" lengthAdjust="spacingAndGlyphs" fill="#282828" stroke="#282828" stroke-width="0.50">200</text>
<text x="1780.00" y="1197.80" font-size="34.30" textLength="19.46" lengthAdjust="spacingAndGlyphs" fill="#282828" stroke="#282828" stroke-width="0.50">0</text>
<text x="1897.00" y="1197.80" font-size="34.30" textLength="77.83" lengthAdjust="spacingAndGlyphs" fill="#282828" stroke="#282828" stroke-width="0.50">1900</text>
<text x="2030.50" y="1197.80" font-size="34.30" textLength="77.83" lengthAdjust="spacingAndGlyphs" fill="#282828" stroke="#282828" stroke-width="0.50">2000</text>
<text x="2163.50" y="1197.80" font-size="34.30" textLength="77.83" lengthAdjust="spacingAndGlyphs" fill="#282828" stroke="#282828" stroke-width="0.50">2100</text>
<text x="2296.60" y="1197.80" font-size="34.30" textLength="77.83" lengthAdjust="spacingAndGlyphs" fill="#282828" stroke="#282828" stroke-width="0.50">2200</text>
<text x="2429.60" y="1197.80" font-size="34.30" textLength="77.83" lengthAdjust="spacingAndGlyphs" fill="#282828" stroke="#282828" stroke-width="0.50">2300</text>
<text x="1365.40" y="437.80" font-size="35.50" textLength="30.62" lengthAdjust="spacingAndGlyphs" fill="#282828" stroke="#282828" stroke-width="0.40">-5</text>
<text x="1444.25" y="437.80" font-size="35.50" textLength="19.15" lengthAdjust="spacingAndGlyphs" fill="#282828" stroke="#282828" stroke-width="0.40">0</text>
<text x="1515.40" y="437.80" font-size="35.50" textLength="19.15" lengthAdjust="spacingAndGlyphs" fill="#282828" stroke="#282828" stroke-width="0.40">5</text>
<text x="1579.00" y="437.80" font-size="35.50" textLength="38.30" lengthAdjust="spacingAndGlyphs" fill="#282828" stroke="#282828" stroke-width="0.40">10</text>
<text x="1651.00" y="437.80" font-size="35.50" textLength="38.30" lengthAdjust="spacingAndGlyphs" fill="#282828" stroke="#282828" stroke-width="0.40">15</text></g></svg></body></html>
